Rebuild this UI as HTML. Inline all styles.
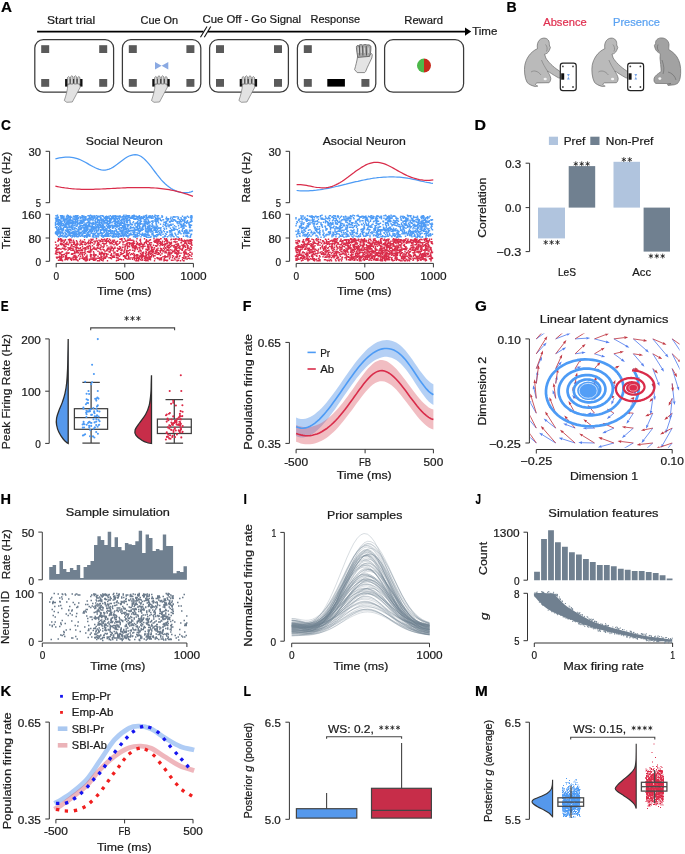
<!DOCTYPE html>
<html><head><meta charset="utf-8"><style>
html,body{margin:0;padding:0;background:#fff;width:685px;height:854px;overflow:hidden}
svg{display:block;will-change:transform}
text{font-family:"Liberation Sans", sans-serif;stroke-width:0.22px}
</style></head><body>
<svg width="685" height="854" viewBox="0 0 685 854" font-family='"Liberation Sans", sans-serif' fill="#1a1a1a">
<rect width="685" height="854" fill="#fff"/>
<text x="1.10" y="11.70" font-size="14.4" textLength="11.00" lengthAdjust="spacingAndGlyphs" font-weight="bold" fill="#000" stroke="#000">A</text>
<text x="47.00" y="23.90" font-size="11.0" textLength="48.20" lengthAdjust="spacingAndGlyphs" fill="#1a1a1a" stroke="#1a1a1a" stroke-width="0.08">Start trial</text>
<text x="140.50" y="23.90" font-size="11.0" textLength="37.70" lengthAdjust="spacingAndGlyphs" fill="#1a1a1a" stroke="#1a1a1a" stroke-width="0.08">Cue On</text>
<text x="202.50" y="22.50" font-size="11.0" textLength="98.60" lengthAdjust="spacingAndGlyphs" fill="#1a1a1a" stroke="#1a1a1a" stroke-width="0.08">Cue Off - Go Signal</text>
<text x="310.60" y="22.50" font-size="11.0" textLength="49.40" lengthAdjust="spacingAndGlyphs" fill="#1a1a1a" stroke="#1a1a1a" stroke-width="0.08">Response</text>
<text x="404.30" y="23.80" font-size="11.0" textLength="38.60" lengthAdjust="spacingAndGlyphs" fill="#1a1a1a" stroke="#1a1a1a" stroke-width="0.08">Reward</text>
<text x="472.20" y="34.70" font-size="11.0" textLength="25.20" lengthAdjust="spacingAndGlyphs" fill="#1a1a1a" stroke="#1a1a1a" stroke-width="0.08">Time</text>
<line x1="37.1" y1="31.6" x2="466" y2="31.6" stroke="#000" stroke-width="1.8"/>
<rect x="203.5" y="29" width="4.5" height="5.5" fill="#fff"/>
<line x1="200.5" y1="37.3" x2="207" y2="26.5" stroke="#111" stroke-width="1.1"/>
<line x1="204.3" y1="37.3" x2="210.8" y2="26.5" stroke="#111" stroke-width="1.1"/>
<path d="M465 27.4L471.2 31.6L465 35.8Z" fill="#000"/>
<rect x="34.8" y="39.6" width="78.8" height="52.6" rx="8.5" fill="none" stroke="#3a3a3a" stroke-width="1.25"/>
<rect x="122.4" y="39.6" width="78.4" height="52.6" rx="8.5" fill="none" stroke="#3a3a3a" stroke-width="1.25"/>
<rect x="209.6" y="39.6" width="78.8" height="52.6" rx="8.5" fill="none" stroke="#3a3a3a" stroke-width="1.25"/>
<rect x="297.4" y="39.6" width="78.4" height="52.6" rx="8.5" fill="none" stroke="#3a3a3a" stroke-width="1.25"/>
<rect x="384.6" y="39.6" width="79" height="52.6" rx="8.5" fill="none" stroke="#3a3a3a" stroke-width="1.25"/>
<rect x="41.2" y="45.2" width="8" height="7.8" fill="#5a5a5a"/>
<rect x="99.2" y="45.2" width="8" height="7.8" fill="#5a5a5a"/>
<rect x="41.2" y="79" width="8" height="7.8" fill="#5a5a5a"/>
<rect x="99.2" y="79" width="8" height="7.8" fill="#5a5a5a"/>
<rect x="128.8" y="45.2" width="8" height="7.8" fill="#5a5a5a"/>
<rect x="186.4" y="45.2" width="8" height="7.8" fill="#5a5a5a"/>
<rect x="128.8" y="79" width="8" height="7.8" fill="#5a5a5a"/>
<rect x="186.4" y="79" width="8" height="7.8" fill="#5a5a5a"/>
<rect x="216" y="45.2" width="8" height="7.8" fill="#5a5a5a"/>
<rect x="274" y="45.2" width="8" height="7.8" fill="#5a5a5a"/>
<rect x="216" y="79" width="8" height="7.8" fill="#5a5a5a"/>
<rect x="274" y="79" width="8" height="7.8" fill="#5a5a5a"/>
<rect x="303.8" y="45.2" width="8" height="7.8" fill="#5a5a5a"/>
<rect x="303.8" y="79" width="8" height="7.8" fill="#5a5a5a"/>
<rect x="361.4" y="79" width="8" height="7.8" fill="#5a5a5a"/>
<path d="M155 62L161.6 65.8L155 69.6Z M168.3 62L161.6 65.8L168.3 69.6Z" fill="#8aa9e2"/>
<rect x="65.1" y="79" width="17.4" height="7.6" fill="#111"/>
<path d="M67.8 84 C67.8 90 65.8 96 64.3 100.5 L66.8 102.3 L72.3 102 C74.8 97 77.8 92 80.3 87 L79.3 83 Z" fill="#e2e2e2" stroke="#777" stroke-width="0.7"/>
<path d="M67.3 84 L67.4 77.6 Q68.6 75.5 69.8 77.6 L69.9 84 Z" fill="#d9d9d9" stroke="#555" stroke-width="0.6"/>
<path d="M70.5 84 L70.6 76.8 Q71.8 74.7 73 76.8 L73.1 84 Z" fill="#d9d9d9" stroke="#555" stroke-width="0.6"/>
<path d="M74.1 84 L74.2 76.8 Q75.4 74.7 76.6 76.8 L76.7 84 Z" fill="#d9d9d9" stroke="#555" stroke-width="0.6"/>
<path d="M77.5 84 L77.6 77.6 Q78.8 75.5 80 77.6 L80.1 84 Z" fill="#d9d9d9" stroke="#555" stroke-width="0.6"/>
<rect x="152.3" y="79" width="17.4" height="7.6" fill="#111"/>
<path d="M155 84 C155 90 153 96 151.5 100.5 L154 102.3 L159.5 102 C162 97 165 92 167.5 87 L166.5 83 Z" fill="#e2e2e2" stroke="#777" stroke-width="0.7"/>
<path d="M154.5 84 L154.6 77.6 Q155.8 75.5 157 77.6 L157.1 84 Z" fill="#d9d9d9" stroke="#555" stroke-width="0.6"/>
<path d="M157.7 84 L157.8 76.8 Q159 74.7 160.2 76.8 L160.3 84 Z" fill="#d9d9d9" stroke="#555" stroke-width="0.6"/>
<path d="M161.3 84 L161.4 76.8 Q162.6 74.7 163.8 76.8 L163.9 84 Z" fill="#d9d9d9" stroke="#555" stroke-width="0.6"/>
<path d="M164.7 84 L164.8 77.6 Q166 75.5 167.2 77.6 L167.3 84 Z" fill="#d9d9d9" stroke="#555" stroke-width="0.6"/>
<rect x="239.7" y="79" width="17.4" height="7.6" fill="#111"/>
<path d="M242.4 84 C242.4 90 240.4 96 238.9 100.5 L241.4 102.3 L246.9 102 C249.4 97 252.4 92 254.9 87 L253.9 83 Z" fill="#e2e2e2" stroke="#777" stroke-width="0.7"/>
<path d="M241.9 84 L242 77.6 Q243.2 75.5 244.4 77.6 L244.5 84 Z" fill="#d9d9d9" stroke="#555" stroke-width="0.6"/>
<path d="M245.1 84 L245.2 76.8 Q246.4 74.7 247.6 76.8 L247.7 84 Z" fill="#d9d9d9" stroke="#555" stroke-width="0.6"/>
<path d="M248.7 84 L248.8 76.8 Q250 74.7 251.2 76.8 L251.3 84 Z" fill="#d9d9d9" stroke="#555" stroke-width="0.6"/>
<path d="M252.1 84 L252.2 77.6 Q253.4 75.5 254.6 77.6 L254.7 84 Z" fill="#d9d9d9" stroke="#555" stroke-width="0.6"/>
<rect x="327.3" y="79" width="17.6" height="7.6" fill="#000"/>
<path d="M357.6 56.5L369.6 55.4L371.2 53.3L372.3 54.8L371.8 58C370 62 367.5 66.5 365.6 71.5L364.6 72.6L357.2 72.6L354.6 69.6C355.6 66 357 61 357.6 56.5Z" fill="#e4e4e4" stroke="#5a5a5a" stroke-width="0.7"/>
<path d="M356.4 47.5C356.2 45.6 357.6 45 358.8 46L359.2 45C360.5 44.4 362 44.5 362.8 45.2C364 44.3 366 44.3 367 45C368.5 44.6 370.2 45 370.8 46.2C371.2 49 370.6 53 369.6 56.4L357.8 57.4C357 54 356.6 50.5 356.4 47.5Z" fill="#a9a9a9" stroke="#4a4a4a" stroke-width="0.7"/>
<line x1="359.4" y1="46" x2="359.7" y2="55.5" stroke="#3e3e3e" stroke-width="0.8"/>
<line x1="362.6" y1="46" x2="362.9" y2="55.5" stroke="#3e3e3e" stroke-width="0.8"/>
<line x1="366.2" y1="46" x2="366.5" y2="55.5" stroke="#3e3e3e" stroke-width="0.8"/>
<line x1="358.2" y1="47.5" x2="358.4" y2="53" stroke="#e8e8e8" stroke-width="0.7"/>
<line x1="361.1" y1="47.5" x2="361.3" y2="53" stroke="#e8e8e8" stroke-width="0.7"/>
<line x1="364.4" y1="47.5" x2="364.6" y2="53" stroke="#e8e8e8" stroke-width="0.7"/>
<line x1="368.3" y1="47.5" x2="368.5" y2="53" stroke="#e8e8e8" stroke-width="0.7"/>
<path d="M424 58.6 A7 7 0 0 0 424 72.6 Z" fill="#4cb84a"/>
<path d="M424 58.6 A7 7 0 0 1 424 72.6 Z" fill="#c62a1c"/>
<text x="506.60" y="11.80" font-size="14.4" textLength="10.20" lengthAdjust="spacingAndGlyphs" font-weight="bold" fill="#000" stroke="#000">B</text>
<text x="543.20" y="25.90" font-size="11.3" textLength="43.50" lengthAdjust="spacingAndGlyphs" fill="#e03050" stroke="#e03050" stroke-width="0.05">Absence</text>
<text x="613.00" y="25.90" font-size="11.3" textLength="46.90" lengthAdjust="spacingAndGlyphs" fill="#5aa2f2" stroke="#5aa2f2" stroke-width="0.05">Presence</text>
<g transform="translate(0 0)">
<path d="M537.5 48.6C536.5 44 538.5 38.5 543.6 38.1C547.5 37.8 549.8 41 549.3 45L550.4 47.6L549.2 50.6C548 53 546.2 54 544.6 54.2L545.8 58C548.3 62 552.5 66.5 559.4 71L561.8 73.3L562.6 78.6L558.4 77.8C553 74.8 549.6 72.3 547.2 70.8C548.8 73.3 550.6 76.2 550.8 78.6C550.6 81 549.6 82.5 548.9 82.7L537 82.9C534.5 84 535.5 85.3 537.8 86.1L535.2 86.5C531.5 85.7 528.8 84.2 527.1 82.4C524.6 78 524 70 524.8 65.3C526 59 530 52 537.5 48.6Z" fill="#bababa" stroke="#6a6a6a" stroke-width="0.7"/>
</g>
<g transform="translate(67.4 0)">
<path d="M537.5 48.6C536.5 44 538.5 38.5 543.6 38.1C547.5 37.8 549.8 41 549.3 45L550.4 47.6L549.2 50.6C548 53 546.2 54 544.6 54.2L545.8 58C548.3 62 552.5 66.5 559.4 71L561.8 73.3L562.6 78.6L558.4 77.8C553 74.8 549.6 72.3 547.2 70.8C548.8 73.3 550.6 76.2 550.8 78.6C550.6 81 549.6 82.5 548.9 82.7L537 82.9C534.5 84 535.5 85.3 537.8 86.1L535.2 86.5C531.5 85.7 528.8 84.2 527.1 82.4C524.6 78 524 70 524.8 65.3C526 59 530 52 537.5 48.6Z" fill="#bababa" stroke="#6a6a6a" stroke-width="0.7"/>
</g>
<g transform="translate(0 0)">
<path d="M660.3 53.6C657.8 52.5 655.6 50.5 655 48L654.4 45.5L655.6 43.5C655.2 40.5 657.5 38 661.2 37.9C665.5 37.8 668.6 40.5 669 44.5C668.9 47 668.7 48.5 668.8 49.6C673 52 677 55.5 678.8 60.5C680.8 65 681.2 72 680.2 77.8C679.6 80.5 678.5 82.5 677.4 83.6L674.2 84.8L668 85.4L667.4 84.4L671 83.6L655.8 83.4C654 82.5 653.6 80.2 654.2 78C655.2 75.6 657.8 73.8 661.2 71.5C661 67 660.4 62 660 58Z" fill="#a2a2a2" stroke="#6a6a6a" stroke-width="0.7"/>
</g>
<path d="M545.5 44.5C547 46 547.8 49 546.5 51.5M531 72C534 70 538 71 541 75M541.5 60C543 64 545 67 547 70.5" fill="none" stroke="#777" stroke-width="0.6"/>
<ellipse cx="545.2" cy="79" rx="1.6" ry="1.3" fill="#f4f4f4"/>
<path d="M612.9 44.5C614.4 46 615.2 49 613.9 51.5M598.4 72C601.4 70 605.4 71 608.4 75M608.9 60C610.4 64 612.4 67 614.4 70.5" fill="none" stroke="#777" stroke-width="0.6"/>
<ellipse cx="612.6" cy="79" rx="1.6" ry="1.3" fill="#f4f4f4"/>
<path d="M658 44.5C657 47 657.2 49.5 659 51.5M662 60C664 66 664.5 70 663 74M668 72C672 73 675 76 676 80" fill="none" stroke="#666" stroke-width="0.6"/>
<ellipse cx="659.8" cy="78.6" rx="1.5" ry="1.3" fill="#f4f4f4"/>
<rect x="560.3" y="63.2" width="15.9" height="27.4" rx="2.6" fill="#fff" stroke="#222" stroke-width="1.2"/>
<circle cx="562.9" cy="66.4" r="0.9" fill="#444"/>
<circle cx="573" cy="66.4" r="0.9" fill="#444"/>
<circle cx="562.9" cy="87" r="0.9" fill="#444"/>
<circle cx="573" cy="87" r="0.9" fill="#444"/>
<rect x="561.2" y="73.3" width="3" height="6.4" fill="#111"/>
<path d="M567 74h2.8l-1.4 2.8zM567 79.6h2.8l-1.4-2.8z" fill="#7aa6e8"/>
<rect x="627.7" y="63.2" width="15.9" height="27.4" rx="2.6" fill="#fff" stroke="#222" stroke-width="1.2"/>
<circle cx="630.3" cy="66.4" r="0.9" fill="#444"/>
<circle cx="640.4" cy="66.4" r="0.9" fill="#444"/>
<circle cx="630.3" cy="87" r="0.9" fill="#444"/>
<circle cx="640.4" cy="87" r="0.9" fill="#444"/>
<rect x="628.6" y="73.3" width="3" height="6.4" fill="#111"/>
<path d="M634.4 74h2.8l-1.4 2.8zM634.4 79.6h2.8l-1.4-2.8z" fill="#7aa6e8"/>
<text x="0.90" y="129.50" font-size="14.4" textLength="9.90" lengthAdjust="spacingAndGlyphs" font-weight="bold" fill="#000" stroke="#000">C</text>
<text x="85.80" y="145.00" font-size="11.3" textLength="76.90" lengthAdjust="spacingAndGlyphs" fill="#1a1a1a" stroke="#1a1a1a">Social Neuron</text>
<text x="322.70" y="145.00" font-size="11.3" textLength="83.20" lengthAdjust="spacingAndGlyphs" fill="#1a1a1a" stroke="#1a1a1a">Asocial Neuron</text>
<line x1="49.6" y1="151.3" x2="49.6" y2="202.7" stroke="#333" stroke-width="1"/>
<line x1="45.6" y1="151.3" x2="49.6" y2="151.3" stroke="#333" stroke-width="1"/>
<line x1="45.6" y1="202.7" x2="49.6" y2="202.7" stroke="#333" stroke-width="1"/>
<line x1="49.6" y1="214.3" x2="49.6" y2="261.3" stroke="#333" stroke-width="1"/>
<line x1="45.6" y1="214.3" x2="49.6" y2="214.3" stroke="#333" stroke-width="1"/>
<line x1="45.6" y1="238" x2="49.6" y2="238" stroke="#333" stroke-width="1"/>
<line x1="45.6" y1="261.3" x2="49.6" y2="261.3" stroke="#333" stroke-width="1"/>
<line x1="56.2" y1="263.4" x2="193.4" y2="263.4" stroke="#333" stroke-width="1"/>
<line x1="56.2" y1="263.4" x2="56.2" y2="267.4" stroke="#333" stroke-width="1"/>
<line x1="124.8" y1="263.4" x2="124.8" y2="267.4" stroke="#333" stroke-width="1"/>
<line x1="193.4" y1="263.4" x2="193.4" y2="267.4" stroke="#333" stroke-width="1"/>
<text x="28.56" y="156.00" font-size="10.7" textLength="12.55" lengthAdjust="spacingAndGlyphs" fill="#1a1a1a" stroke="#1a1a1a">30</text>
<text x="35.86" y="207.40" font-size="10.7" textLength="5.24" lengthAdjust="spacingAndGlyphs" fill="#1a1a1a" stroke="#1a1a1a">5</text>
<text x="21.87" y="219.00" font-size="10.7" textLength="19.23" lengthAdjust="spacingAndGlyphs" fill="#1a1a1a" stroke="#1a1a1a">160</text>
<text x="28.47" y="242.70" font-size="10.7" textLength="12.64" lengthAdjust="spacingAndGlyphs" fill="#1a1a1a" stroke="#1a1a1a">80</text>
<text x="35.51" y="266.00" font-size="10.7" textLength="5.60" lengthAdjust="spacingAndGlyphs" fill="#1a1a1a" stroke="#1a1a1a">0</text>
<text x="53.40" y="279.60" font-size="10.7" textLength="5.60" lengthAdjust="spacingAndGlyphs" fill="#1a1a1a" stroke="#1a1a1a">0</text>
<text x="115.00" y="279.60" font-size="10.7" textLength="19.60" lengthAdjust="spacingAndGlyphs" fill="#1a1a1a" stroke="#1a1a1a">500</text>
<text x="180.25" y="279.60" font-size="10.7" textLength="26.29" lengthAdjust="spacingAndGlyphs" fill="#1a1a1a" stroke="#1a1a1a">1000</text>
<text x="97.00" y="294.90" font-size="10.9" textLength="54.50" lengthAdjust="spacingAndGlyphs" fill="#1a1a1a" stroke="#1a1a1a">Time (ms)</text>
<text x="0" y="0" font-size="10.9" textLength="50.50" lengthAdjust="spacingAndGlyphs" transform="translate(9.95 202.40) rotate(-90)" fill="#1a1a1a" stroke="#1a1a1a">Rate (Hz)</text>
<text x="0" y="0" font-size="10.9" textLength="22.00" lengthAdjust="spacingAndGlyphs" transform="translate(9.95 249.30) rotate(-90)" fill="#1a1a1a" stroke="#1a1a1a">Trial</text>
<line x1="289.6" y1="151.3" x2="289.6" y2="202.7" stroke="#333" stroke-width="1"/>
<line x1="285.6" y1="151.3" x2="289.6" y2="151.3" stroke="#333" stroke-width="1"/>
<line x1="285.6" y1="202.7" x2="289.6" y2="202.7" stroke="#333" stroke-width="1"/>
<line x1="289.6" y1="214.3" x2="289.6" y2="261.3" stroke="#333" stroke-width="1"/>
<line x1="285.6" y1="214.3" x2="289.6" y2="214.3" stroke="#333" stroke-width="1"/>
<line x1="285.6" y1="238" x2="289.6" y2="238" stroke="#333" stroke-width="1"/>
<line x1="285.6" y1="261.3" x2="289.6" y2="261.3" stroke="#333" stroke-width="1"/>
<line x1="296.2" y1="263.4" x2="433.4" y2="263.4" stroke="#333" stroke-width="1"/>
<line x1="296.2" y1="263.4" x2="296.2" y2="267.4" stroke="#333" stroke-width="1"/>
<line x1="364.8" y1="263.4" x2="364.8" y2="267.4" stroke="#333" stroke-width="1"/>
<line x1="433.4" y1="263.4" x2="433.4" y2="267.4" stroke="#333" stroke-width="1"/>
<text x="268.56" y="156.00" font-size="10.7" textLength="12.55" lengthAdjust="spacingAndGlyphs" fill="#1a1a1a" stroke="#1a1a1a">30</text>
<text x="275.86" y="207.40" font-size="10.7" textLength="5.24" lengthAdjust="spacingAndGlyphs" fill="#1a1a1a" stroke="#1a1a1a">5</text>
<text x="261.87" y="219.00" font-size="10.7" textLength="19.23" lengthAdjust="spacingAndGlyphs" fill="#1a1a1a" stroke="#1a1a1a">160</text>
<text x="268.47" y="242.70" font-size="10.7" textLength="12.64" lengthAdjust="spacingAndGlyphs" fill="#1a1a1a" stroke="#1a1a1a">80</text>
<text x="275.51" y="266.00" font-size="10.7" textLength="5.60" lengthAdjust="spacingAndGlyphs" fill="#1a1a1a" stroke="#1a1a1a">0</text>
<text x="293.40" y="279.60" font-size="10.7" textLength="5.60" lengthAdjust="spacingAndGlyphs" fill="#1a1a1a" stroke="#1a1a1a">0</text>
<text x="355.00" y="279.60" font-size="10.7" textLength="19.60" lengthAdjust="spacingAndGlyphs" fill="#1a1a1a" stroke="#1a1a1a">500</text>
<text x="420.25" y="279.60" font-size="10.7" textLength="26.29" lengthAdjust="spacingAndGlyphs" fill="#1a1a1a" stroke="#1a1a1a">1000</text>
<text x="337.00" y="294.90" font-size="10.9" textLength="54.50" lengthAdjust="spacingAndGlyphs" fill="#1a1a1a" stroke="#1a1a1a">Time (ms)</text>
<text x="0" y="0" font-size="10.9" textLength="50.50" lengthAdjust="spacingAndGlyphs" transform="translate(249.95 202.40) rotate(-90)" fill="#1a1a1a" stroke="#1a1a1a">Rate (Hz)</text>
<text x="0" y="0" font-size="10.9" textLength="22.00" lengthAdjust="spacingAndGlyphs" transform="translate(249.95 249.30) rotate(-90)" fill="#1a1a1a" stroke="#1a1a1a">Trial</text>
<path d="M111 465v3M111 447v3M112 453v3M112 430v3M112 462v3M111 453v3M111 444v3M111 464v3M112 442v3M111 449v3M111 435v3M112 447v3M112 438v3M112 441v3M112 462v3M114 457v3M114 467v3M113 455v3M113 441v3M112 466v3M114 452v3M114 452v3M114 462v3M113 436v3M113 465v3M114 459v3M114 464v3M114 438v3M113 464v3M113 438v3M114 433v3M113 467v3M115 459v3M115 469v3M116 465v3M115 468v3M116 458v3M116 440v3M115 463v3M116 438v3M116 466v3M116 432v3M115 465v3M115 436v3M115 446v3M116 443v3M115 459v3M115 437v3M115 447v3M115 429v3M116 441v3M118 446v3M118 448v3M118 458v3M117 449v3M117 455v3M117 466v3M117 461v3M117 445v3M117 449v3M118 445v3M117 434v3M118 438v3M117 442v3M117 443v3M118 443v3M117 454v3M117 472v3M118 463v3M117 464v3M118 462v3M119 439v3M120 466v3M119 446v3M119 472v3M119 457v3M118 460v3M119 452v3M120 443v3M119 447v3M120 470v3M119 438v3M119 472v3M120 462v3M122 465v3M121 457v3M122 445v3M120 463v3M121 430v3M122 449v3M122 445v3M121 450v3M122 435v3M121 439v3M121 454v3M121 446v3M122 464v3M121 456v3M121 467v3M120 461v3M121 456v3M121 442v3M121 463v3M121 440v3M122 432v3M122 471v3M122 453v3M123 470v3M123 430v3M123 434v3M124 445v3M123 433v3M122 455v3M124 441v3M123 441v3M123 442v3M124 433v3M124 462v3M123 458v3M123 456v3M123 431v3M123 448v3M124 459v3M123 436v3M123 446v3M124 430v3M124 433v3M125 450v3M126 433v3M126 457v3M126 456v3M125 431v3M126 465v3M125 464v3M125 469v3M125 459v3M126 460v3M126 436v3M125 430v3M126 472v3M127 449v3M127 466v3M128 432v3M126 446v3M127 454v3M127 456v3M127 440v3M128 447v3M128 471v3M127 458v3M127 455v3M128 432v3M128 431v3M127 438v3M128 435v3M128 472v3M129 438v3M129 440v3M130 451v3M129 452v3M128 450v3M130 453v3M129 439v3M130 463v3M130 441v3M130 469v3M130 452v3M129 443v3M129 437v3M132 446v3M131 459v3M131 438v3M131 445v3M132 453v3M131 448v3M132 435v3M131 472v3M131 459v3M132 466v3M131 445v3M131 471v3M131 465v3M132 472v3M132 438v3M132 450v3M131 446v3M133 443v3M133 453v3M133 447v3M133 445v3M133 472v3M133 437v3M134 456v3M134 431v3M134 433v3M134 438v3M133 473v3M133 461v3M133 467v3M133 431v3M134 459v3M134 448v3M133 447v3M134 460v3M134 443v3M133 452v3M134 441v3M136 436v3M136 469v3M136 436v3M136 462v3M135 443v3M135 445v3M135 453v3M136 470v3M135 429v3M135 436v3M134 461v3M135 446v3M136 442v3M134 471v3M135 441v3M135 460v3M135 471v3M135 463v3M136 460v3M135 461v3M136 464v3M136 441v3M136 457v3M137 464v3M137 459v3M137 448v3M137 430v3M138 437v3M137 462v3M137 433v3M138 443v3M137 440v3M138 462v3M138 445v3M137 433v3M137 445v3M138 444v3M138 461v3M138 443v3M136 460v3M138 453v3M138 468v3M138 461v3M138 447v3M138 450v3M138 450v3M138 467v3M139 439v3M140 433v3M139 469v3M139 462v3M140 437v3M139 465v3M140 442v3M139 457v3M140 445v3M139 439v3M139 437v3M139 432v3M140 432v3M140 432v3M140 433v3M140 466v3M140 452v3M140 435v3M140 452v3M139 453v3M140 451v3M139 438v3M142 465v3M142 444v3M142 459v3M142 439v3M141 445v3M140 446v3M141 440v3M141 431v3M142 463v3M141 471v3M140 439v3M141 436v3M142 444v3M141 433v3M141 458v3M141 445v3M142 454v3M142 469v3M143 452v3M143 449v3M144 455v3M144 465v3M144 439v3M143 451v3M143 433v3M143 452v3M143 464v3M144 473v3M143 450v3M144 442v3M144 455v3M143 445v3M145 470v3M146 436v3M145 465v3M145 463v3M146 440v3M146 442v3M146 471v3M145 445v3M145 442v3M146 461v3M146 435v3M146 450v3M145 445v3M146 453v3M145 456v3M145 457v3M145 448v3M146 468v3M146 466v3M145 470v3M148 431v3M147 431v3M148 431v3M148 467v3M147 444v3M148 443v3M148 464v3M147 443v3M147 462v3M148 445v3M148 442v3M147 446v3M148 437v3M148 432v3M147 467v3M149 449v3M150 434v3M150 453v3M148 457v3M150 455v3M149 432v3M150 456v3M150 462v3M150 435v3M149 455v3M149 465v3M150 438v3M149 469v3M149 472v3M150 460v3M150 467v3M152 469v3M151 430v3M151 430v3M151 444v3M152 470v3M152 464v3M151 446v3M152 467v3M152 443v3M151 444v3M152 438v3M152 471v3M152 464v3M150 449v3M151 441v3M153 451v3M154 433v3M153 470v3M154 471v3M154 450v3M152 432v3M153 466v3M154 462v3M154 472v3M154 430v3M154 448v3M154 442v3M154 434v3M153 461v3M152 444v3M153 431v3M153 435v3M152 465v3M153 456v3M155 442v3M155 462v3M155 467v3M156 467v3M155 445v3M156 460v3M156 467v3M155 436v3M154 438v3M156 458v3M155 441v3M155 438v3M156 445v3M156 430v3M155 448v3M155 431v3M156 440v3M156 439v3M157 453v3M158 458v3M157 434v3M157 435v3M156 472v3M158 465v3M157 465v3M158 470v3M157 471v3M157 446v3M158 462v3M157 457v3M158 454v3M158 459v3M159 446v3M159 468v3M159 444v3M160 449v3M160 450v3M160 443v3M160 464v3M160 432v3M160 439v3M160 465v3M160 456v3M159 452v3M161 465v3M161 435v3M162 449v3M161 466v3M162 449v3M160 456v3M162 434v3M161 442v3M161 471v3M162 458v3M161 445v3M161 452v3M162 463v3M162 464v3M161 465v3M161 442v3M162 440v3M161 457v3M161 452v3M162 454v3M164 432v3M163 445v3M164 467v3M164 442v3M163 443v3M163 456v3M163 440v3M164 454v3M163 463v3M164 442v3M163 450v3M164 454v3M164 445v3M163 439v3M163 434v3M163 454v3M163 470v3M164 430v3M164 467v3M165 430v3M166 442v3M165 462v3M166 436v3M165 445v3M166 466v3M166 444v3M166 440v3M165 468v3M165 433v3M165 467v3M166 443v3M166 438v3M166 451v3M165 450v3M166 471v3M166 462v3M168 440v3M166 460v3M167 438v3M167 454v3M168 464v3M168 458v3M168 456v3M168 440v3M168 434v3M168 431v3M167 431v3M167 439v3M168 454v3M168 448v3M167 438v3M168 442v3M167 449v3M167 464v3M170 445v3M169 448v3M170 471v3M169 459v3M169 460v3M169 473v3M169 439v3M169 456v3M169 434v3M170 436v3M170 460v3M169 465v3M169 457v3M169 455v3M170 464v3M170 471v3M169 470v3M170 465v3M170 448v3M169 463v3M170 439v3M172 458v3M171 436v3M171 462v3M172 455v3M170 453v3M172 448v3M172 458v3M171 432v3M171 451v3M171 470v3M171 438v3M172 435v3M172 447v3M172 452v3M170 446v3M170 450v3M171 459v3M173 468v3M173 469v3M174 473v3M174 444v3M174 450v3M173 473v3M173 460v3M172 432v3M174 469v3M173 456v3M174 438v3M174 444v3M174 455v3M174 458v3M173 447v3M173 462v3M174 453v3M173 472v3M173 467v3M176 430v3M176 457v3M176 443v3M176 439v3M176 438v3M175 450v3M175 444v3M174 470v3M175 454v3M174 469v3M176 470v3M175 469v3M175 451v3M176 455v3M176 453v3M176 430v3M175 471v3M176 436v3M176 453v3M175 459v3M175 464v3M175 453v3M176 466v3M177 450v3M177 436v3M177 467v3M177 448v3M178 430v3M178 441v3M178 446v3M178 430v3M178 435v3M178 442v3M178 444v3M177 448v3M177 442v3M176 443v3M178 449v3M178 445v3M177 462v3M178 463v3M180 471v3M180 468v3M180 449v3M179 448v3M178 436v3M179 434v3M179 445v3M180 439v3M179 432v3M180 461v3M179 471v3M179 459v3M178 469v3M180 467v3M180 457v3M180 452v3M180 445v3M179 451v3M180 443v3M180 437v3M179 451v3M182 457v3M182 457v3M182 464v3M181 458v3M181 452v3M181 436v3M181 461v3M181 429v3M181 458v3M182 436v3M181 436v3M183 458v3M183 454v3M183 463v3M184 430v3M183 438v3M183 455v3M184 454v3M184 465v3M182 433v3M184 445v3M184 447v3M183 452v3M183 445v3M184 461v3M184 434v3M183 432v3M185 471v3M186 468v3M185 445v3M186 445v3M185 450v3M185 471v3M186 436v3M185 453v3M186 458v3M185 461v3M185 432v3M186 455v3M185 449v3M186 444v3M185 472v3M185 434v3M185 460v3M186 438v3M185 471v3M185 451v3M184 449v3M186 440v3M187 455v3M188 445v3M188 468v3M187 436v3M188 430v3M188 434v3M187 452v3M188 455v3M187 466v3M187 471v3M188 447v3M188 465v3M187 447v3M187 445v3M188 435v3M188 467v3M187 444v3M188 458v3M188 452v3M188 473v3M190 456v3M189 468v3M188 452v3M189 456v3M189 461v3M188 433v3M190 432v3M190 431v3M189 434v3M190 440v3M189 431v3M190 455v3M192 473v3M192 456v3M192 436v3M191 470v3M191 442v3M190 453v3M192 448v3M191 465v3M190 433v3M191 445v3M191 449v3M192 455v3M191 469v3M191 442v3M192 444v3M192 459v3M191 438v3M192 452v3M192 443v3M194 434v3M194 454v3M194 461v3M194 459v3M193 430v3M194 472v3M193 443v3M193 462v3M194 470v3M193 463v3M194 452v3M194 453v3M193 435v3M192 446v3M195 431v3M195 447v3M195 449v3M195 466v3M195 435v3M196 467v3M195 447v3M196 467v3M195 436v3M196 431v3M196 448v3M196 439v3M196 450v3M196 465v3M196 468v3M196 433v3M195 440v3M195 443v3M195 437v3M197 439v3M198 468v3M197 460v3M198 453v3M197 466v3M197 452v3M198 446v3M197 459v3M197 456v3M198 438v3M198 443v3M197 454v3M197 439v3M198 469v3M198 431v3M198 468v3M197 472v3M198 456v3M198 438v3M200 444v3M199 442v3M200 465v3M198 455v3M199 444v3M200 453v3M199 449v3M199 453v3M199 440v3M199 446v3M199 449v3M200 433v3M202 469v3M201 436v3M201 461v3M201 458v3M201 461v3M201 463v3M202 437v3M200 431v3M201 448v3M201 449v3M202 440v3M202 465v3M202 434v3M201 451v3M201 452v3M202 430v3M203 454v3M203 465v3M204 465v3M204 446v3M204 444v3M203 470v3M203 444v3M203 464v3M203 437v3M204 451v3M203 446v3M204 441v3M203 440v3M203 471v3M204 458v3M202 450v3M204 454v3M204 466v3M203 459v3M205 465v3M205 438v3M206 448v3M206 447v3M205 454v3M205 457v3M206 431v3M206 465v3M205 452v3M205 469v3M205 437v3M205 449v3M206 471v3M206 457v3M206 451v3M206 450v3M205 469v3M205 430v3M206 473v3M206 450v3M206 465v3M205 450v3M204 465v3M207 442v3M207 450v3M207 440v3M207 470v3M208 443v3M207 454v3M207 472v3M207 459v3M208 446v3M208 462v3M207 438v3M208 434v3M207 431v3M208 458v3M207 458v3M208 459v3M208 459v3M207 455v3M208 470v3M210 457v3M210 443v3M210 453v3M209 440v3M209 459v3M209 435v3M209 452v3M209 463v3M210 468v3M209 444v3M209 453v3M210 471v3M209 435v3M212 471v3M212 439v3M212 456v3M212 446v3M211 460v3M211 432v3M211 469v3M211 467v3M211 435v3M211 457v3M212 444v3M211 438v3M212 466v3M213 450v3M212 446v3M213 432v3M213 463v3M214 471v3M213 440v3M213 460v3M214 456v3M214 465v3M214 459v3M214 438v3M213 435v3M213 444v3M213 437v3M214 456v3M214 433v3M214 459v3M213 464v3M213 431v3M214 468v3M214 465v3M213 431v3M216 471v3M215 433v3M215 434v3M215 432v3M216 451v3M216 469v3M215 452v3M215 444v3M214 468v3M215 440v3M215 453v3M215 468v3M216 467v3M215 435v3M215 443v3M215 447v3M216 463v3M217 466v3M218 471v3M218 453v3M218 449v3M218 446v3M217 446v3M216 467v3M217 460v3M217 469v3M218 431v3M218 435v3M217 452v3M218 455v3M217 448v3M218 452v3M216 469v3M218 454v3M217 441v3M217 451v3M220 445v3M219 450v3M219 441v3M219 445v3M218 466v3M220 438v3M219 454v3M220 439v3M219 456v3M220 440v3M219 443v3M220 452v3M219 440v3M219 461v3M220 439v3M220 466v3M220 460v3M219 435v3M219 452v3M218 432v3M219 437v3M219 443v3M218 460v3M219 456v3M219 453v3M220 437v3M220 442v3M221 436v3M221 430v3M222 440v3M221 443v3M221 437v3M222 439v3M221 458v3M221 439v3M221 437v3M221 441v3M222 449v3M222 438v3M221 451v3M221 470v3M221 465v3M221 462v3M221 470v3M221 470v3M221 453v3M221 459v3M223 434v3M224 466v3M223 437v3M223 434v3M223 466v3M224 471v3M224 461v3M224 432v3M223 435v3M224 436v3M223 433v3M224 450v3M225 434v3M224 460v3M226 442v3M224 464v3M226 454v3M225 453v3M226 435v3M226 430v3M225 472v3M226 431v3M226 431v3M225 449v3M226 470v3M226 453v3M226 473v3M225 461v3M225 465v3M225 465v3M225 471v3M225 472v3M224 444v3M225 460v3M225 451v3M225 472v3M225 455v3M227 454v3M228 464v3M228 452v3M228 470v3M228 463v3M227 454v3M227 433v3M228 450v3M228 431v3M228 471v3M227 431v3M228 438v3M228 437v3M227 467v3M228 469v3M228 461v3M227 467v3M228 441v3M228 468v3M227 434v3M230 430v3M230 452v3M229 462v3M229 435v3M229 438v3M229 472v3M229 465v3M230 443v3M228 470v3M230 450v3M230 440v3M230 444v3M230 441v3M230 460v3M229 446v3M231 430v3M232 448v3M231 451v3M232 450v3M231 431v3M232 436v3M232 441v3M231 447v3M231 438v3M231 445v3M231 442v3M231 434v3M231 468v3M231 456v3M231 472v3M231 456v3M231 456v3M232 466v3M233 452v3M233 471v3M233 461v3M234 464v3M234 435v3M234 451v3M233 431v3M233 458v3M233 443v3M234 468v3M233 435v3M232 432v3M234 447v3M233 436v3M234 453v3M232 448v3M235 445v3M235 442v3M236 466v3M236 441v3M236 442v3M235 468v3M235 450v3M235 431v3M235 435v3M236 462v3M235 443v3M236 443v3M236 442v3M235 472v3M236 450v3M235 468v3M236 464v3M235 464v3M236 463v3M236 443v3M236 465v3M235 451v3M235 437v3M236 440v3M237 456v3M237 470v3M237 440v3M238 457v3M237 469v3M238 446v3M238 465v3M237 468v3M237 431v3M238 442v3M237 440v3M237 469v3M237 456v3M236 435v3M237 446v3M238 441v3M237 473v3M237 468v3M237 466v3M238 434v3M240 467v3M239 450v3M239 466v3M240 447v3M240 445v3M239 437v3M239 432v3M240 454v3M240 445v3M239 436v3M238 452v3M240 461v3M239 457v3M240 430v3M240 445v3M240 459v3M240 447v3M239 448v3M241 440v3M242 460v3M241 432v3M241 444v3M240 458v3M241 470v3M242 433v3M242 449v3M240 471v3M240 432v3M241 449v3M242 462v3M243 462v3M244 444v3M243 446v3M244 460v3M244 468v3M244 437v3M244 438v3M243 438v3M243 471v3M243 454v3M243 465v3M243 437v3M244 467v3M243 442v3M243 456v3M244 439v3M244 439v3M246 468v3M245 432v3M245 444v3M245 464v3M246 461v3M246 463v3M245 450v3M246 460v3M245 443v3M245 467v3M245 464v3M246 470v3M245 463v3M246 461v3M246 437v3M246 454v3M246 433v3M245 469v3M245 464v3M245 453v3M245 466v3M245 467v3M245 445v3M245 459v3M246 435v3M247 438v3M248 431v3M247 430v3M247 445v3M248 438v3M247 451v3M248 435v3M247 457v3M247 454v3M248 469v3M248 465v3M248 435v3M248 453v3M248 445v3M247 431v3M247 453v3M247 472v3M247 436v3M248 429v3M248 438v3M248 448v3M248 441v3M247 460v3M250 463v3M250 470v3M249 451v3M248 452v3M250 462v3M250 468v3M250 433v3M250 462v3M249 468v3M249 438v3M249 442v3M250 450v3M250 455v3M250 449v3M250 454v3M249 446v3M249 448v3M249 443v3M249 458v3M252 434v3M252 430v3M251 448v3M252 455v3M252 448v3M251 452v3M252 447v3M251 465v3M251 465v3M251 436v3M251 457v3M251 452v3M251 432v3M251 433v3M251 465v3M251 461v3M251 436v3M254 455v3M253 471v3M253 468v3M253 457v3M252 429v3M253 457v3M253 443v3M252 440v3M254 456v3M254 437v3M253 461v3M254 463v3M254 435v3M253 436v3M253 470v3M253 431v3M253 464v3M254 462v3M254 460v3M253 431v3M254 470v3M253 438v3M255 430v3M256 433v3M255 442v3M255 444v3M256 452v3M255 443v3M256 439v3M256 471v3M255 435v3M255 451v3M254 439v3M255 465v3M256 456v3M255 456v3M255 448v3M255 449v3M256 473v3M257 439v3M257 430v3M258 431v3M258 449v3M257 439v3M257 448v3M257 469v3M256 464v3M256 465v3M258 470v3M257 458v3M258 448v3M258 432v3M257 461v3M258 434v3M259 461v3M259 438v3M259 434v3M260 441v3M260 444v3M259 468v3M260 440v3M258 459v3M260 466v3M259 430v3M260 441v3M259 469v3M260 455v3M261 460v3M261 446v3M262 448v3M261 465v3M261 445v3M261 452v3M262 465v3M262 465v3M262 459v3M262 460v3M262 433v3M262 453v3M261 455v3M261 435v3M261 468v3M262 459v3M262 434v3M262 435v3M264 431v3M264 454v3M263 447v3M264 435v3M263 454v3M263 434v3M264 431v3M264 460v3M263 468v3M263 448v3M262 465v3M266 433v3M265 430v3M266 463v3M266 468v3M265 435v3M266 444v3M265 430v3M265 448v3M265 434v3M266 454v3M266 459v3M268 437v3M267 465v3M268 465v3M268 459v3M267 430v3M267 433v3M268 454v3M268 431v3M268 465v3M268 472v3M268 472v3M267 466v3M268 431v3M268 434v3M267 472v3M267 453v3M267 434v3M268 429v3M268 434v3M268 468v3M267 442v3M268 462v3M270 436v3M270 449v3M269 456v3M269 461v3M270 469v3M270 471v3M270 463v3M270 431v3M270 446v3M269 461v3M270 467v3M269 430v3M270 447v3M270 470v3M272 435v3M272 436v3M271 469v3M271 445v3M272 454v3M271 436v3M272 468v3M271 473v3M272 452v3M271 471v3M272 472v3M272 459v3M272 435v3M271 458v3M271 437v3M273 431v3M273 458v3M274 471v3M273 453v3M273 431v3M273 445v3M274 458v3M274 436v3M273 452v3M274 444v3M273 431v3M274 464v3M275 470v3M275 442v3M275 457v3M275 471v3M276 460v3M276 432v3M275 456v3M275 467v3M276 432v3M276 438v3M275 447v3M275 446v3M275 472v3M275 433v3M275 437v3M275 457v3M274 434v3M275 456v3M275 457v3M275 453v3M275 448v3M275 450v3M275 445v3M278 447v3M277 432v3M278 459v3M277 458v3M278 436v3M278 445v3M278 461v3M278 435v3M277 465v3M277 458v3M278 470v3M277 456v3M278 431v3M278 447v3M277 459v3M278 450v3M276 445v3M278 440v3M280 436v3M279 430v3M280 455v3M279 453v3M279 462v3M280 467v3M279 450v3M280 452v3M279 455v3M280 444v3M279 464v3M281 444v3M280 433v3M282 472v3M282 459v3M281 442v3M281 439v3M281 436v3M282 434v3M281 461v3M282 434v3M280 459v3M281 447v3M282 457v3M281 445v3M283 468v3M283 457v3M283 432v3M283 441v3M284 459v3M284 446v3M283 436v3M284 454v3M284 467v3M283 459v3M285 468v3M285 435v3M286 433v3M285 457v3M285 455v3M285 469v3M285 458v3M284 469v3M285 452v3M285 457v3M285 465v3M287 450v3M287 467v3M288 431v3M288 470v3M288 433v3M287 431v3M288 471v3M287 436v3M286 449v3M288 445v3M288 441v3M287 452v3M288 468v3M288 448v3M287 457v3M288 471v3M287 449v3M289 438v3M290 448v3M289 447v3M289 433v3M289 468v3M290 442v3M290 443v3M290 471v3M289 447v3M289 447v3M290 466v3M290 444v3M290 471v3M289 450v3M290 446v3M290 443v3M292 458v3M291 438v3M291 462v3M291 430v3M291 467v3M291 459v3M292 443v3M291 438v3M291 450v3M292 462v3M292 470v3M291 471v3M291 453v3M292 442v3M292 435v3M291 461v3M291 455v3M292 439v3M291 453v3M292 446v3M294 434v3M293 461v3M293 434v3M293 429v3M293 472v3M293 431v3M293 467v3M293 472v3M294 446v3M294 456v3M294 434v3M293 473v3M294 468v3M293 442v3M293 432v3M294 463v3M294 473v3M294 436v3M294 468v3M296 444v3M295 443v3M296 451v3M296 446v3M296 438v3M296 461v3M295 463v3M296 469v3M296 458v3M295 452v3M296 445v3M295 447v3M296 465v3M295 461v3M296 434v3M295 455v3M296 468v3M297 469v3M298 473v3M298 445v3M298 442v3M297 462v3M298 450v3M297 473v3M297 454v3M298 434v3M297 431v3M298 462v3M296 444v3M297 441v3M297 459v3M297 440v3M298 446v3M300 449v3M300 430v3M299 469v3M299 431v3M300 443v3M299 469v3M299 452v3M300 453v3M299 458v3M300 460v3M300 443v3M300 434v3M298 456v3M299 450v3M300 456v3M302 463v3M302 462v3M302 472v3M302 432v3M302 431v3M301 473v3M301 460v3M302 433v3M301 458v3M303 459v3M304 455v3M304 468v3M303 456v3M304 446v3M304 433v3M303 434v3M303 451v3M303 441v3M303 435v3M304 466v3M305 442v3M306 463v3M306 440v3M305 461v3M305 430v3M305 448v3M306 450v3M305 447v3M306 452v3M306 466v3M307 453v3M308 456v3M307 453v3M306 443v3M307 469v3M308 456v3M308 473v3M306 435v3M307 470v3M308 457v3M308 459v3M308 470v3M308 432v3M309 456v3M309 457v3M309 453v3M310 471v3M310 459v3M308 432v3M310 458v3M309 432v3M309 454v3M310 451v3M310 429v3M310 438v3M312 430v3M312 462v3M312 463v3M312 436v3M311 454v3M311 457v3M312 446v3M311 437v3M312 444v3M312 442v3M311 430v3M310 441v3M311 440v3M312 459v3M311 457v3M312 459v3M312 442v3M311 455v3M311 434v3M311 463v3M311 470v3M314 455v3M313 448v3M314 468v3M313 468v3M313 442v3M314 438v3M313 448v3M314 451v3M313 460v3M313 472v3M313 468v3M313 447v3M313 453v3M313 455v3M315 435v3M314 440v3M316 438v3M315 431v3M314 435v3M316 435v3M315 451v3M314 463v3M314 452v3M315 458v3M315 468v3M315 463v3M316 434v3M316 430v3M315 470v3M316 441v3M316 467v3M316 437v3M315 468v3M318 455v3M317 430v3M318 467v3M317 444v3M317 468v3M318 436v3M317 461v3M317 455v3M318 454v3M320 460v3M319 464v3M320 435v3M322 460v3M322 459v3M321 468v3M321 455v3M321 439v3M321 447v3M321 456v3M322 454v3M321 438v3M322 465v3M324 430v3M322 469v3M323 440v3M324 433v3M323 462v3M323 463v3M324 463v3M326 451v3M325 432v3M326 438v3M326 467v3M326 473v3M327 438v3M327 460v3M328 443v3M328 455v3M327 447v3M329 457v3M329 462v3M330 443v3M329 472v3M331 466v3M332 436v3M332 452v3M330 470v3M332 445v3M330 449v3M331 471v3M332 442v3M332 449v3M331 446v3M331 447v3M333 441v3M333 456v3M333 467v3M333 445v3M333 452v3M333 433v3M334 463v3M334 437v3M336 447v3M334 462v3M336 449v3M336 449v3M336 450v3M335 472v3M335 440v3M335 436v3M335 463v3M338 470v3M337 436v3M337 438v3M338 452v3M340 443v3M339 450v3M339 442v3M340 448v3M339 460v3M340 463v3M342 447v3M342 460v3M342 467v3M341 460v3M341 455v3M341 436v3M342 461v3M342 469v3M342 449v3M340 467v3M341 455v3M341 441v3M342 472v3M342 462v3M344 441v3M343 458v3M344 465v3M343 439v3M344 467v3M344 460v3M342 433v3M343 449v3M345 459v3M346 447v3M346 433v3M345 436v3M345 469v3M345 468v3M346 471v3M344 468v3M346 453v3M347 438v3M346 441v3M348 459v3M347 432v3M347 456v3M350 439v3M349 455v3M349 438v3M349 458v3M349 450v3M350 465v3M348 472v3M350 432v3M352 469v3M352 441v3M352 452v3M351 440v3M350 433v3M351 467v3M352 457v3M354 432v3M354 444v3M354 472v3M355 443v3M356 436v3M356 467v3M355 458v3M355 442v3M358 442v3M357 450v3M357 435v3M358 455v3M356 446v3M357 462v3M358 464v3M357 433v3M357 473v3M357 463v3M359 444v3M359 438v3M359 443v3M360 446v3M360 463v3M359 460v3M359 464v3M361 440v3M361 448v3M361 442v3M362 466v3M362 453v3M361 439v3M363 437v3M364 452v3M362 434v3M364 460v3M363 442v3M363 450v3M363 447v3M366 455v3M366 438v3M365 461v3M364 449v3M366 440v3M365 440v3M365 457v3M365 431v3M367 471v3M367 448v3M367 465v3M368 455v3M368 446v3M368 452v3M366 451v3M367 446v3M368 434v3M368 466v3M368 451v3M369 443v3M370 449v3M369 440v3M370 461v3M369 436v3M368 464v3M369 460v3M370 438v3M369 462v3M369 433v3M371 433v3M372 433v3M372 459v3M372 435v3M372 471v3M372 451v3M371 443v3M372 469v3M371 464v3M372 465v3M373 445v3M374 442v3M373 461v3M374 469v3M374 465v3M374 459v3M373 445v3M373 443v3M374 462v3M372 458v3M375 465v3M375 431v3M375 440v3M375 469v3M375 463v3M375 442v3M376 463v3M375 470v3M375 472v3M376 472v3M378 445v3M376 444v3M378 465v3M377 433v3M378 448v3M378 465v3M377 464v3M380 473v3M379 451v3M379 459v3M380 448v3M380 461v3M379 460v3M380 461v3M380 454v3M380 450v3M380 443v3M379 453v3M380 453v3M381 453v3M382 438v3M381 434v3M382 430v3M382 468v3M381 470v3M381 433v3M382 459v3M381 442v3M382 467v3M381 472v3M382 449v3M383 440v3M384 460v3M384 434v3M382 442v3M384 459v3M383 467v3M383 437v3M384 441v3M383 433v3M383 430v3M384 441v3M383 449v3M384 431v3" stroke="#4d9bf5" stroke-width="2.8" transform="scale(.5)"/>
<path d="M112 488v3M112 505v3M112 501v3M111 483v3M111 495v3M111 506v3M111 495v3M113 494v3M113 499v3M112 502v3M114 514v3M113 495v3M114 515v3M114 503v3M113 513v3M114 498v3M114 507v3M114 491v3M113 499v3M115 513v3M116 480v3M116 496v3M116 498v3M116 503v3M117 489v3M117 476v3M117 513v3M116 481v3M117 479v3M117 519v3M117 496v3M117 490v3M118 478v3M119 496v3M119 506v3M120 516v3M119 514v3M119 511v3M120 478v3M120 519v3M119 503v3M121 476v3M122 516v3M121 506v3M121 485v3M122 487v3M122 497v3M122 512v3M122 481v3M121 519v3M121 518v3M121 487v3M122 504v3M122 515v3M124 481v3M123 485v3M123 479v3M124 513v3M123 519v3M123 477v3M123 511v3M123 508v3M123 516v3M123 488v3M124 508v3M124 486v3M123 479v3M124 509v3M125 495v3M125 502v3M125 520v3M125 519v3M125 520v3M125 487v3M124 502v3M126 495v3M127 483v3M128 484v3M127 490v3M127 512v3M127 496v3M128 488v3M127 495v3M128 488v3M127 508v3M126 479v3M127 489v3M128 490v3M130 518v3M129 481v3M129 495v3M129 496v3M129 507v3M129 491v3M130 498v3M130 479v3M129 490v3M132 512v3M131 517v3M131 512v3M132 491v3M131 492v3M132 487v3M131 478v3M132 497v3M131 514v3M131 510v3M132 505v3M131 513v3M132 505v3M131 486v3M131 511v3M131 492v3M133 512v3M134 503v3M134 505v3M134 506v3M133 509v3M133 515v3M134 517v3M134 487v3M134 483v3M132 516v3M133 485v3M135 518v3M136 514v3M135 487v3M136 516v3M136 494v3M136 499v3M137 478v3M137 505v3M137 515v3M138 495v3M138 504v3M137 487v3M137 488v3M138 497v3M140 496v3M140 478v3M138 504v3M139 477v3M140 480v3M140 494v3M139 481v3M140 496v3M139 514v3M139 484v3M142 478v3M142 477v3M142 515v3M142 516v3M142 484v3M141 517v3M141 494v3M142 499v3M140 497v3M142 491v3M144 489v3M143 507v3M143 519v3M143 480v3M143 495v3M144 506v3M143 488v3M143 517v3M146 496v3M146 492v3M146 513v3M145 507v3M145 499v3M146 483v3M146 506v3M146 516v3M147 518v3M148 484v3M148 513v3M147 499v3M147 479v3M148 485v3M147 487v3M148 510v3M148 492v3M148 482v3M148 518v3M148 499v3M149 502v3M149 484v3M149 485v3M150 517v3M149 505v3M149 510v3M150 488v3M150 510v3M150 506v3M152 518v3M151 489v3M152 498v3M152 511v3M152 503v3M152 514v3M151 493v3M151 513v3M151 514v3M152 516v3M151 494v3M153 517v3M154 513v3M154 482v3M153 501v3M153 499v3M154 490v3M153 493v3M153 487v3M154 504v3M153 495v3M153 480v3M154 486v3M155 494v3M155 502v3M155 500v3M156 500v3M156 520v3M155 519v3M155 485v3M156 487v3M157 504v3M157 495v3M157 510v3M157 499v3M160 489v3M160 482v3M160 487v3M159 517v3M160 515v3M160 496v3M159 500v3M159 507v3M160 507v3M162 486v3M162 500v3M162 486v3M161 504v3M161 494v3M161 496v3M162 485v3M161 511v3M161 479v3M163 487v3M164 498v3M164 515v3M164 482v3M164 484v3M164 507v3M163 499v3M165 500v3M165 481v3M165 488v3M165 510v3M165 492v3M166 512v3M165 508v3M166 504v3M166 483v3M166 496v3M166 515v3M164 504v3M167 482v3M167 517v3M168 495v3M170 501v3M169 478v3M170 514v3M169 504v3M170 483v3M170 498v3M169 516v3M169 515v3M170 494v3M169 487v3M169 518v3M169 508v3M172 517v3M171 505v3M171 484v3M172 494v3M171 488v3M171 497v3M172 512v3M172 497v3M171 520v3M174 509v3M174 519v3M174 514v3M174 511v3M173 486v3M173 520v3M174 492v3M173 514v3M175 484v3M176 491v3M176 494v3M175 518v3M176 494v3M175 502v3M175 517v3M176 496v3M177 482v3M178 501v3M178 503v3M177 495v3M177 491v3M177 486v3M178 479v3M177 502v3M178 485v3M179 517v3M179 519v3M180 503v3M179 490v3M182 512v3M181 481v3M181 500v3M181 497v3M182 510v3M181 486v3M181 507v3M181 511v3M181 491v3M182 502v3M181 494v3M181 509v3M182 515v3M182 499v3M182 477v3M182 517v3M182 502v3M181 484v3M184 498v3M184 479v3M183 483v3M183 478v3M183 508v3M183 478v3M185 490v3M186 514v3M186 477v3M185 517v3M186 477v3M185 517v3M186 496v3M185 484v3M185 490v3M186 517v3M187 508v3M188 481v3M188 505v3M188 519v3M187 519v3M188 487v3M187 516v3M187 502v3M187 495v3M188 493v3M186 496v3M187 496v3M187 518v3M187 510v3M190 510v3M190 484v3M189 512v3M190 508v3M190 497v3M190 515v3M190 495v3M190 519v3M189 519v3M188 494v3M190 516v3M192 497v3M191 481v3M192 509v3M192 517v3M192 508v3M194 495v3M194 480v3M194 515v3M194 489v3M193 498v3M193 476v3M194 489v3M196 511v3M195 520v3M195 482v3M196 487v3M196 484v3M195 493v3M195 486v3M198 479v3M196 501v3M197 495v3M198 520v3M198 487v3M197 484v3M197 490v3M197 515v3M200 517v3M199 487v3M199 506v3M199 514v3M200 482v3M200 496v3M199 503v3M199 520v3M199 507v3M200 495v3M201 497v3M201 480v3M201 481v3M202 489v3M202 508v3M201 493v3M200 514v3M201 505v3M202 517v3M202 511v3M200 495v3M202 481v3M202 498v3M203 503v3M204 516v3M204 492v3M204 503v3M203 519v3M203 513v3M203 477v3M203 506v3M205 481v3M205 505v3M206 497v3M206 520v3M205 504v3M205 485v3M206 481v3M206 506v3M204 512v3M208 499v3M208 515v3M208 508v3M208 488v3M208 498v3M208 514v3M207 515v3M208 509v3M208 491v3M207 517v3M207 493v3M207 508v3M208 512v3M208 506v3M206 478v3M207 485v3M208 511v3M209 477v3M209 514v3M210 481v3M210 486v3M210 501v3M210 479v3M209 508v3M210 505v3M209 505v3M212 512v3M211 480v3M210 479v3M212 486v3M211 515v3M211 513v3M214 511v3M213 484v3M213 509v3M213 478v3M213 480v3M214 481v3M213 482v3M214 512v3M213 477v3M214 490v3M214 500v3M213 500v3M213 506v3M214 500v3M213 482v3M213 479v3M215 476v3M216 481v3M215 520v3M215 495v3M214 498v3M216 507v3M216 498v3M218 495v3M218 502v3M217 496v3M218 493v3M217 480v3M218 514v3M218 493v3M220 498v3M218 482v3M219 477v3M220 497v3M219 483v3M221 514v3M220 503v3M222 483v3M220 486v3M222 491v3M221 479v3M222 497v3M222 499v3M221 500v3M222 494v3M221 485v3M221 509v3M224 486v3M223 509v3M224 495v3M223 510v3M223 506v3M223 516v3M223 483v3M222 515v3M223 484v3M223 495v3M225 481v3M225 493v3M226 479v3M226 479v3M226 500v3M225 511v3M225 486v3M225 513v3M226 482v3M227 483v3M228 488v3M228 482v3M227 513v3M228 510v3M228 506v3M228 503v3M227 498v3M227 496v3M228 482v3M229 479v3M230 493v3M230 495v3M230 503v3M230 494v3M229 495v3M229 479v3M229 513v3M232 508v3M232 506v3M232 482v3M231 484v3M231 486v3M234 500v3M234 489v3M234 519v3M233 487v3M233 514v3M233 485v3M233 510v3M234 507v3M233 520v3M236 506v3M235 501v3M235 509v3M235 495v3M235 481v3M236 508v3M236 515v3M236 487v3M236 496v3M237 509v3M236 513v3M237 519v3M238 517v3M237 497v3M237 498v3M240 482v3M239 517v3M240 483v3M239 485v3M239 496v3M239 511v3M239 497v3M240 477v3M239 492v3M241 504v3M241 508v3M241 495v3M241 517v3M242 477v3M242 504v3M241 493v3M242 499v3M244 480v3M244 497v3M244 499v3M243 518v3M243 507v3M244 476v3M244 478v3M243 476v3M243 500v3M246 487v3M246 493v3M246 488v3M246 483v3M245 506v3M245 493v3M246 493v3M247 518v3M248 501v3M248 482v3M247 511v3M247 505v3M246 493v3M248 510v3M247 510v3M249 476v3M249 512v3M250 488v3M250 492v3M249 510v3M250 511v3M249 499v3M250 514v3M250 497v3M250 495v3M249 503v3M251 515v3M252 481v3M251 479v3M252 512v3M251 491v3M254 499v3M253 516v3M254 486v3M254 501v3M254 504v3M254 489v3M254 509v3M253 509v3M253 503v3M254 485v3M254 487v3M253 500v3M253 486v3M253 507v3M256 477v3M255 493v3M256 491v3M256 484v3M256 507v3M256 484v3M256 484v3M255 480v3M255 491v3M255 495v3M256 517v3M255 480v3M256 509v3M255 486v3M257 479v3M257 511v3M257 491v3M257 506v3M257 514v3M257 500v3M258 515v3M259 486v3M259 492v3M260 476v3M258 513v3M260 498v3M259 484v3M259 504v3M259 488v3M259 484v3M259 492v3M259 486v3M260 486v3M260 517v3M260 479v3M260 499v3M262 485v3M261 508v3M261 508v3M262 514v3M261 486v3M262 485v3M264 486v3M263 486v3M264 487v3M264 485v3M263 490v3M263 506v3M263 479v3M265 499v3M266 514v3M265 488v3M266 479v3M266 484v3M265 507v3M266 494v3M265 494v3M265 517v3M266 499v3M266 479v3M265 492v3M267 494v3M267 505v3M267 486v3M267 484v3M266 491v3M267 489v3M268 509v3M268 481v3M268 514v3M267 482v3M269 485v3M269 518v3M270 498v3M269 512v3M270 510v3M269 514v3M270 493v3M268 513v3M269 501v3M270 492v3M269 495v3M269 517v3M269 491v3M269 516v3M269 507v3M271 490v3M271 492v3M272 515v3M272 493v3M272 493v3M271 496v3M274 485v3M274 511v3M273 487v3M273 508v3M273 510v3M274 476v3M274 520v3M272 520v3M274 485v3M273 492v3M273 517v3M273 488v3M274 494v3M273 481v3M274 514v3M272 494v3M275 515v3M276 513v3M275 497v3M274 512v3M276 487v3M275 484v3M276 509v3M275 508v3M277 514v3M277 517v3M277 520v3M278 487v3M278 502v3M277 501v3M278 514v3M278 494v3M278 516v3M277 488v3M279 489v3M279 512v3M279 486v3M279 490v3M280 499v3M280 512v3M280 510v3M280 479v3M279 494v3M279 516v3M281 482v3M280 497v3M281 506v3M281 512v3M281 518v3M282 485v3M282 500v3M281 488v3M282 492v3M282 502v3M281 506v3M281 477v3M281 480v3M282 512v3M283 492v3M283 515v3M283 509v3M283 510v3M284 487v3M284 507v3M283 485v3M283 508v3M285 512v3M286 494v3M286 507v3M284 519v3M285 491v3M285 504v3M286 494v3M285 518v3M286 494v3M285 496v3M285 509v3M286 488v3M285 514v3M287 491v3M288 487v3M287 504v3M287 503v3M288 511v3M287 510v3M289 515v3M290 491v3M289 519v3M290 513v3M289 486v3M289 476v3M289 484v3M292 516v3M292 508v3M291 483v3M292 510v3M292 483v3M291 505v3M291 518v3M292 497v3M292 501v3M291 511v3M292 481v3M292 481v3M291 483v3M292 520v3M292 514v3M292 513v3M292 505v3M293 509v3M294 497v3M293 482v3M293 479v3M293 503v3M293 485v3M293 478v3M294 513v3M295 498v3M295 515v3M296 514v3M295 481v3M294 519v3M295 497v3M296 481v3M296 493v3M296 520v3M295 492v3M296 519v3M295 499v3M296 490v3M295 513v3M295 488v3M296 507v3M298 494v3M298 502v3M298 509v3M297 481v3M298 497v3M298 511v3M298 496v3M298 488v3M296 516v3M298 492v3M297 482v3M297 498v3M297 504v3M297 508v3M297 505v3M297 508v3M297 496v3M297 506v3M300 516v3M299 514v3M300 484v3M299 517v3M300 505v3M299 486v3M299 514v3M299 479v3M300 503v3M298 495v3M300 501v3M302 500v3M301 512v3M302 492v3M302 513v3M301 516v3M301 478v3M301 507v3M301 489v3M301 516v3M301 518v3M303 506v3M303 493v3M303 497v3M303 510v3M303 495v3M303 511v3M302 488v3M303 498v3M303 493v3M303 484v3M304 501v3M304 498v3M304 504v3M303 501v3M305 501v3M306 498v3M306 504v3M305 494v3M305 508v3M305 493v3M307 501v3M307 512v3M307 509v3M308 481v3M308 481v3M306 504v3M308 497v3M308 476v3M307 489v3M310 483v3M310 516v3M309 520v3M310 510v3M310 480v3M309 482v3M309 494v3M309 505v3M312 506v3M312 506v3M312 500v3M311 490v3M311 483v3M311 479v3M311 505v3M312 504v3M311 501v3M313 497v3M314 485v3M313 499v3M314 502v3M314 503v3M313 491v3M314 483v3M314 490v3M313 480v3M314 478v3M314 482v3M313 477v3M314 514v3M314 479v3M315 514v3M315 499v3M316 499v3M315 486v3M315 499v3M316 495v3M315 477v3M316 483v3M316 516v3M316 487v3M315 515v3M314 498v3M315 507v3M316 477v3M318 515v3M317 478v3M317 481v3M316 488v3M317 507v3M317 504v3M318 481v3M317 481v3M319 485v3M320 490v3M319 506v3M319 518v3M319 485v3M319 518v3M320 500v3M319 478v3M321 495v3M322 497v3M321 509v3M321 482v3M321 516v3M322 518v3M322 516v3M321 500v3M321 476v3M321 515v3M321 485v3M322 476v3M322 497v3M321 517v3M321 503v3M321 487v3M323 516v3M323 496v3M324 484v3M324 486v3M323 488v3M324 498v3M323 518v3M324 506v3M324 499v3M323 514v3M323 498v3M325 481v3M325 485v3M325 489v3M326 502v3M326 512v3M325 485v3M327 488v3M328 520v3M327 495v3M327 500v3M330 510v3M330 501v3M329 488v3M330 519v3M329 492v3M330 513v3M329 482v3M330 486v3M330 477v3M330 489v3M329 476v3M329 497v3M330 504v3M328 517v3M329 512v3M329 516v3M331 487v3M332 495v3M331 501v3M332 502v3M332 519v3M331 513v3M331 480v3M331 519v3M331 494v3M332 512v3M334 485v3M334 499v3M333 504v3M333 480v3M334 520v3M333 486v3M334 512v3M334 481v3M333 476v3M334 491v3M334 520v3M334 484v3M333 477v3M334 498v3M336 491v3M335 479v3M336 510v3M335 481v3M335 493v3M335 498v3M336 507v3M336 489v3M336 512v3M335 485v3M335 519v3M337 489v3M337 504v3M336 497v3M337 500v3M337 493v3M338 483v3M338 499v3M338 495v3M339 516v3M339 493v3M339 508v3M339 493v3M340 513v3M339 489v3M340 503v3M340 487v3M339 484v3M339 503v3M339 505v3M340 513v3M340 484v3M339 484v3M340 510v3M341 486v3M342 478v3M340 509v3M342 506v3M341 492v3M341 487v3M341 498v3M344 504v3M343 505v3M343 490v3M344 499v3M343 486v3M343 486v3M343 483v3M343 519v3M343 477v3M345 514v3M345 502v3M346 519v3M345 510v3M347 502v3M346 490v3M348 482v3M347 477v3M347 511v3M347 502v3M348 493v3M348 492v3M348 500v3M350 478v3M349 482v3M350 518v3M349 499v3M350 517v3M350 482v3M349 489v3M350 505v3M350 496v3M350 502v3M349 515v3M350 518v3M352 476v3M351 494v3M351 498v3M352 487v3M351 505v3M350 477v3M351 483v3M351 492v3M351 496v3M353 499v3M354 482v3M353 487v3M354 495v3M354 509v3M354 500v3M354 514v3M353 496v3M354 519v3M354 520v3M354 491v3M353 506v3M352 513v3M352 512v3M353 504v3M352 477v3M354 500v3M353 513v3M353 492v3M355 490v3M356 477v3M355 505v3M355 500v3M356 488v3M355 520v3M355 501v3M355 511v3M356 486v3M357 494v3M358 479v3M358 477v3M358 515v3M357 519v3M358 504v3M356 507v3M357 503v3M358 505v3M357 502v3M357 494v3M357 490v3M358 478v3M357 487v3M359 492v3M359 476v3M359 511v3M360 495v3M360 491v3M359 491v3M358 500v3M359 496v3M360 510v3M362 505v3M362 484v3M362 497v3M361 520v3M364 479v3M364 499v3M362 479v3M363 476v3M363 484v3M364 489v3M363 483v3M364 479v3M365 498v3M365 499v3M365 495v3M365 518v3M365 514v3M365 489v3M365 480v3M366 491v3M367 504v3M368 502v3M368 509v3M367 488v3M367 515v3M367 481v3M367 494v3M367 520v3M368 520v3M368 491v3M368 520v3M370 490v3M369 479v3M370 503v3M370 485v3M369 508v3M369 485v3M370 516v3M370 482v3M369 506v3M368 512v3M369 486v3M371 493v3M372 484v3M371 483v3M372 512v3M371 498v3M370 500v3M371 513v3M372 481v3M372 503v3M371 498v3M371 506v3M371 480v3M372 514v3M374 507v3M373 505v3M374 488v3M374 498v3M373 486v3M374 479v3M373 486v3M374 479v3M376 490v3M375 490v3M376 515v3M375 495v3M376 494v3M376 494v3M376 492v3M376 479v3M375 493v3M376 482v3M376 511v3M374 517v3M375 494v3M378 515v3M378 499v3M377 506v3M378 495v3M377 485v3M378 480v3M377 511v3M380 503v3M379 508v3M380 478v3M380 509v3M380 498v3M380 481v3M379 515v3M380 497v3M379 485v3M380 486v3M380 516v3M382 480v3M381 492v3M381 503v3M382 478v3M382 497v3M381 482v3M383 486v3M384 516v3M383 488v3M383 511v3M383 479v3M384 505v3M384 507v3M384 479v3M383 483v3M383 494v3M384 489v3" stroke="#d92c4a" stroke-width="2.8" transform="scale(.5)"/>
<path d="M592 450v3M592 436v3M592 461v3M592 434v3M593 446v3M594 472v3M594 442v3M595 443v3M593 468v3M596 462v3M597 461v3M597 439v3M595 466v3M597 458v3M596 459v3M596 465v3M599 437v3M598 462v3M598 462v3M599 454v3M599 470v3M599 438v3M597 466v3M598 437v3M600 442v3M599 451v3M600 466v3M600 471v3M601 451v3M602 435v3M602 450v3M602 453v3M603 463v3M602 446v3M602 430v3M602 452v3M604 444v3M604 441v3M604 454v3M604 443v3M603 456v3M605 455v3M603 434v3M603 449v3M604 446v3M604 460v3M603 433v3M604 437v3M605 455v3M606 437v3M606 463v3M606 470v3M606 453v3M606 430v3M606 432v3M607 447v3M606 466v3M608 444v3M608 463v3M608 459v3M608 454v3M608 458v3M608 468v3M609 459v3M611 461v3M610 433v3M610 467v3M610 468v3M610 471v3M609 435v3M610 434v3M613 441v3M613 468v3M611 438v3M612 453v3M613 437v3M611 456v3M613 470v3M615 437v3M614 436v3M615 430v3M615 467v3M615 473v3M614 440v3M614 441v3M614 438v3M613 455v3M614 450v3M615 465v3M617 464v3M616 471v3M615 452v3M615 446v3M617 452v3M617 459v3M619 468v3M617 439v3M619 431v3M618 447v3M618 444v3M617 449v3M618 448v3M618 470v3M620 447v3M620 440v3M620 439v3M620 458v3M621 431v3M620 440v3M622 444v3M622 464v3M622 471v3M623 433v3M621 432v3M623 462v3M625 468v3M625 435v3M624 439v3M623 461v3M625 442v3M625 434v3M624 433v3M624 464v3M624 430v3M625 432v3M626 445v3M626 441v3M626 446v3M627 441v3M627 466v3M625 436v3M625 438v3M627 432v3M627 432v3M629 434v3M628 463v3M628 445v3M628 451v3M628 449v3M628 438v3M631 431v3M629 446v3M629 464v3M631 459v3M629 454v3M629 433v3M630 465v3M630 456v3M630 442v3M632 441v3M632 470v3M632 431v3M631 453v3M632 469v3M634 461v3M635 432v3M633 456v3M634 434v3M633 459v3M633 462v3M634 470v3M635 446v3M635 446v3M633 447v3M635 452v3M635 440v3M636 464v3M635 445v3M637 437v3M635 457v3M635 441v3M637 432v3M636 473v3M639 466v3M638 443v3M639 462v3M639 452v3M638 464v3M638 457v3M640 464v3M640 468v3M639 466v3M640 460v3M639 456v3M641 432v3M640 468v3M642 436v3M642 447v3M641 432v3M641 430v3M642 444v3M642 473v3M644 450v3M644 436v3M643 450v3M644 437v3M644 429v3M644 448v3M644 448v3M645 453v3M643 435v3M645 436v3M646 462v3M646 459v3M647 443v3M646 468v3M645 435v3M648 465v3M647 469v3M647 437v3M648 473v3M647 467v3M649 471v3M650 437v3M651 440v3M651 451v3M650 451v3M651 444v3M651 443v3M652 470v3M652 434v3M652 435v3M651 431v3M651 451v3M652 456v3M651 453v3M652 468v3M652 459v3M655 436v3M654 456v3M655 442v3M654 467v3M653 441v3M654 457v3M654 457v3M657 463v3M656 446v3M656 449v3M657 444v3M657 433v3M655 443v3M655 468v3M658 467v3M657 447v3M658 462v3M659 464v3M659 430v3M658 468v3M658 434v3M658 436v3M658 449v3M659 440v3M659 451v3M659 446v3M660 436v3M660 452v3M661 458v3M661 444v3M660 466v3M662 446v3M662 449v3M663 454v3M661 454v3M661 456v3M661 430v3M661 444v3M661 462v3M663 447v3M661 465v3M662 453v3M665 467v3M664 472v3M664 454v3M664 433v3M664 469v3M664 445v3M664 446v3M665 440v3M667 453v3M665 432v3M666 463v3M666 447v3M666 439v3M666 444v3M667 434v3M665 445v3M667 430v3M667 454v3M668 467v3M668 467v3M668 451v3M667 454v3M667 464v3M667 436v3M667 470v3M668 467v3M670 462v3M670 431v3M670 458v3M670 456v3M671 446v3M670 435v3M670 459v3M671 431v3M671 444v3M670 430v3M671 443v3M670 440v3M672 435v3M671 443v3M672 439v3M672 472v3M672 452v3M671 468v3M673 453v3M672 439v3M672 468v3M672 468v3M672 435v3M672 463v3M672 454v3M673 437v3M672 444v3M675 442v3M674 462v3M674 456v3M675 447v3M674 447v3M673 466v3M673 439v3M676 430v3M677 432v3M677 443v3M676 461v3M675 431v3M675 446v3M675 455v3M676 466v3M676 454v3M675 440v3M676 433v3M678 473v3M679 442v3M679 451v3M678 459v3M678 455v3M679 456v3M679 467v3M679 436v3M679 461v3M681 446v3M681 451v3M680 453v3M680 470v3M680 457v3M680 443v3M680 441v3M680 454v3M681 433v3M681 449v3M683 463v3M681 455v3M682 459v3M681 470v3M681 448v3M682 461v3M681 471v3M683 431v3M683 440v3M681 445v3M683 454v3M681 449v3M684 471v3M683 445v3M684 467v3M685 453v3M683 449v3M683 463v3M684 438v3M685 470v3M687 463v3M687 450v3M685 446v3M686 471v3M686 438v3M685 438v3M687 432v3M685 459v3M685 469v3M688 447v3M688 473v3M688 467v3M688 435v3M688 433v3M689 450v3M688 459v3M688 465v3M689 438v3M688 448v3M691 464v3M692 432v3M692 443v3M692 438v3M691 457v3M692 453v3M692 472v3M691 440v3M692 435v3M691 431v3M692 438v3M692 468v3M692 456v3M692 440v3M694 440v3M695 449v3M694 457v3M694 468v3M693 466v3M695 470v3M695 467v3M695 467v3M693 472v3M694 462v3M695 436v3M695 454v3M693 449v3M694 459v3M695 444v3M696 433v3M695 470v3M695 452v3M695 449v3M696 468v3M696 469v3M696 438v3M696 435v3M695 468v3M695 471v3M695 453v3M696 461v3M698 448v3M699 442v3M699 453v3M698 446v3M699 433v3M698 436v3M698 471v3M700 434v3M699 440v3M699 433v3M701 440v3M700 434v3M700 442v3M701 448v3M701 453v3M700 464v3M700 442v3M699 446v3M701 467v3M701 430v3M703 432v3M702 436v3M703 448v3M701 440v3M702 459v3M702 468v3M701 436v3M702 431v3M704 471v3M704 461v3M704 464v3M705 462v3M703 432v3M704 464v3M705 460v3M703 444v3M704 431v3M705 445v3M704 453v3M704 445v3M705 444v3M706 429v3M705 449v3M705 463v3M706 444v3M705 467v3M706 454v3M707 464v3M706 473v3M707 460v3M709 451v3M708 436v3M709 450v3M708 470v3M708 458v3M707 434v3M707 453v3M708 469v3M709 430v3M709 463v3M710 445v3M711 441v3M712 465v3M713 466v3M712 449v3M713 441v3M712 471v3M712 443v3M711 441v3M715 461v3M715 472v3M714 445v3M713 453v3M714 430v3M714 464v3M715 446v3M715 456v3M715 438v3M715 458v3M714 451v3M717 448v3M716 439v3M715 472v3M716 430v3M717 470v3M715 466v3M716 429v3M718 472v3M717 431v3M718 449v3M719 435v3M718 437v3M717 437v3M720 440v3M719 436v3M720 442v3M720 468v3M720 433v3M720 432v3M721 433v3M721 471v3M722 458v3M723 457v3M722 433v3M721 466v3M725 467v3M723 447v3M725 440v3M724 448v3M723 432v3M725 461v3M725 460v3M724 440v3M724 431v3M723 462v3M727 445v3M727 464v3M725 464v3M727 458v3M727 469v3M725 463v3M726 456v3M726 459v3M726 435v3M726 431v3M726 440v3M727 464v3M729 456v3M728 432v3M728 454v3M729 448v3M727 470v3M728 471v3M727 432v3M728 463v3M729 456v3M728 451v3M731 439v3M730 433v3M731 438v3M730 433v3M731 433v3M731 431v3M730 432v3M729 434v3M729 453v3M731 442v3M731 431v3M732 469v3M732 433v3M732 465v3M732 431v3M731 471v3M732 432v3M732 436v3M733 449v3M732 437v3M733 434v3M732 445v3M734 434v3M733 466v3M734 466v3M734 434v3M734 458v3M733 447v3M735 437v3M734 439v3M734 435v3M733 470v3M733 465v3M735 456v3M737 446v3M737 457v3M736 469v3M737 465v3M737 464v3M737 449v3M736 449v3M735 469v3M736 441v3M736 453v3M736 439v3M735 449v3M737 457v3M737 431v3M739 458v3M738 461v3M739 432v3M737 465v3M739 451v3M738 452v3M738 443v3M738 432v3M741 441v3M741 453v3M740 458v3M741 439v3M740 472v3M741 434v3M740 469v3M742 433v3M741 452v3M742 434v3M742 450v3M741 464v3M742 430v3M744 435v3M745 447v3M743 430v3M743 436v3M744 448v3M745 436v3M744 453v3M744 435v3M744 463v3M744 466v3M745 465v3M744 462v3M746 447v3M745 434v3M746 431v3M748 441v3M748 432v3M747 470v3M748 459v3M748 463v3M748 459v3M748 460v3M748 432v3M747 435v3M748 468v3M747 442v3M748 456v3M750 450v3M751 436v3M751 440v3M750 454v3M750 456v3M751 470v3M750 457v3M752 437v3M753 442v3M751 451v3M752 445v3M753 438v3M752 433v3M753 432v3M752 469v3M752 464v3M752 464v3M751 457v3M752 454v3M753 449v3M751 459v3M755 463v3M755 436v3M754 466v3M754 472v3M753 443v3M754 435v3M754 436v3M754 441v3M754 440v3M753 433v3M753 439v3M754 445v3M753 462v3M755 473v3M754 430v3M753 469v3M756 456v3M756 461v3M756 466v3M756 447v3M756 441v3M756 447v3M756 431v3M755 467v3M755 459v3M756 453v3M756 453v3M755 471v3M755 431v3M757 469v3M758 458v3M758 453v3M758 448v3M758 446v3M757 431v3M757 461v3M759 467v3M758 473v3M757 441v3M761 460v3M761 465v3M761 465v3M760 434v3M760 433v3M760 458v3M760 460v3M759 433v3M760 452v3M762 467v3M761 463v3M762 458v3M761 468v3M762 431v3M761 445v3M762 472v3M761 452v3M763 433v3M763 431v3M764 472v3M765 470v3M764 458v3M764 460v3M763 436v3M766 441v3M766 448v3M767 456v3M766 441v3M766 471v3M767 453v3M765 472v3M768 435v3M767 442v3M767 442v3M768 464v3M769 472v3M768 430v3M769 457v3M767 458v3M767 441v3M769 465v3M770 455v3M771 447v3M770 460v3M769 459v3M771 472v3M771 468v3M771 460v3M771 444v3M770 456v3M772 430v3M772 436v3M772 462v3M771 429v3M772 449v3M771 458v3M771 438v3M775 443v3M773 438v3M775 444v3M775 435v3M773 453v3M774 465v3M774 471v3M774 464v3M773 450v3M774 445v3M773 444v3M774 456v3M773 459v3M774 445v3M775 456v3M773 435v3M775 432v3M776 458v3M776 441v3M777 432v3M777 459v3M776 446v3M775 468v3M776 439v3M777 462v3M777 461v3M776 461v3M777 456v3M777 441v3M777 471v3M777 449v3M777 447v3M779 459v3M778 440v3M778 454v3M777 433v3M778 442v3M778 430v3M778 432v3M779 433v3M779 432v3M779 437v3M778 436v3M779 467v3M779 453v3M779 441v3M779 453v3M779 438v3M779 438v3M779 465v3M781 435v3M781 442v3M780 469v3M780 460v3M780 455v3M780 432v3M780 433v3M782 441v3M782 435v3M783 457v3M783 471v3M781 457v3M783 435v3M781 439v3M782 456v3M781 453v3M782 446v3M782 429v3M782 435v3M781 440v3M784 448v3M784 472v3M784 431v3M784 433v3M784 450v3M784 435v3M783 461v3M784 449v3M787 460v3M786 462v3M786 462v3M787 455v3M786 443v3M785 449v3M786 459v3M786 469v3M786 466v3M785 458v3M785 461v3M787 431v3M787 447v3M787 439v3M788 469v3M789 445v3M788 457v3M788 448v3M787 460v3M788 459v3M788 443v3M788 430v3M791 460v3M790 431v3M790 449v3M791 458v3M789 466v3M789 471v3M790 460v3M789 460v3M791 449v3M791 449v3M790 443v3M791 470v3M790 445v3M790 440v3M791 443v3M791 470v3M793 444v3M793 440v3M793 473v3M792 433v3M792 435v3M792 456v3M791 470v3M792 467v3M792 460v3M795 440v3M794 435v3M795 446v3M793 450v3M794 450v3M794 436v3M794 444v3M793 439v3M795 466v3M794 464v3M795 460v3M796 460v3M796 469v3M797 441v3M795 471v3M797 466v3M796 436v3M796 447v3M795 446v3M795 473v3M795 459v3M796 436v3M797 451v3M796 463v3M798 472v3M799 448v3M798 468v3M798 462v3M800 468v3M801 454v3M801 455v3M799 452v3M801 433v3M800 471v3M802 472v3M802 431v3M802 458v3M803 447v3M802 451v3M801 459v3M802 438v3M802 431v3M802 436v3M804 460v3M803 445v3M804 466v3M803 439v3M804 459v3M807 457v3M806 431v3M806 456v3M806 463v3M806 443v3M805 450v3M805 449v3M807 451v3M806 433v3M806 452v3M806 441v3M806 453v3M805 432v3M806 443v3M806 434v3M805 462v3M809 446v3M807 458v3M808 466v3M807 435v3M808 458v3M808 454v3M809 460v3M809 433v3M808 446v3M808 458v3M808 441v3M809 453v3M809 448v3M808 453v3M807 466v3M809 432v3M810 440v3M810 466v3M811 471v3M811 449v3M809 463v3M810 446v3M809 441v3M809 454v3M812 439v3M812 447v3M812 434v3M812 464v3M812 444v3M811 436v3M811 442v3M812 455v3M813 448v3M812 442v3M812 442v3M814 436v3M813 437v3M815 429v3M815 450v3M813 441v3M814 466v3M813 463v3M814 449v3M815 469v3M817 452v3M816 436v3M816 440v3M816 439v3M815 438v3M815 453v3M816 432v3M818 461v3M819 457v3M818 460v3M817 466v3M818 461v3M819 467v3M818 448v3M817 465v3M817 462v3M818 430v3M818 452v3M819 469v3M819 449v3M817 445v3M820 452v3M820 449v3M820 444v3M821 430v3M821 441v3M820 462v3M820 443v3M819 458v3M819 448v3M820 439v3M820 462v3M820 470v3M821 454v3M821 460v3M823 462v3M822 430v3M821 432v3M821 464v3M822 468v3M823 468v3M821 453v3M823 444v3M822 465v3M823 445v3M823 470v3M823 452v3M824 436v3M825 439v3M824 439v3M824 472v3M824 468v3M825 462v3M824 438v3M823 435v3M824 462v3M825 465v3M826 461v3M826 456v3M827 461v3M826 440v3M825 437v3M827 434v3M827 448v3M827 448v3M826 441v3M825 464v3M827 439v3M827 432v3M826 449v3M825 445v3M828 471v3M829 440v3M829 467v3M827 462v3M827 453v3M829 461v3M828 442v3M827 431v3M827 465v3M829 447v3M827 431v3M829 447v3M829 468v3M830 469v3M830 433v3M830 451v3M829 451v3M829 447v3M830 471v3M831 449v3M831 459v3M830 469v3M829 468v3M830 455v3M830 471v3M829 449v3M830 462v3M832 463v3M832 442v3M833 434v3M832 451v3M832 438v3M832 473v3M835 448v3M835 469v3M835 449v3M834 443v3M835 468v3M835 455v3M834 458v3M835 450v3M833 450v3M834 466v3M834 433v3M835 471v3M834 456v3M833 462v3M835 473v3M834 462v3M835 431v3M835 454v3M836 435v3M836 452v3M835 467v3M837 471v3M836 437v3M835 459v3M835 443v3M835 455v3M836 444v3M835 438v3M836 455v3M836 445v3M837 448v3M836 468v3M835 457v3M837 463v3M838 464v3M837 461v3M839 438v3M839 440v3M838 444v3M837 440v3M837 454v3M838 441v3M838 462v3M840 465v3M840 473v3M840 457v3M841 445v3M840 452v3M839 450v3M839 446v3M840 473v3M840 468v3M841 446v3M839 471v3M840 472v3M840 450v3M843 452v3M843 445v3M842 442v3M842 446v3M843 460v3M843 456v3M842 433v3M842 456v3M841 467v3M843 447v3M841 465v3M841 461v3M843 451v3M842 433v3M842 453v3M843 442v3M843 431v3M843 435v3M843 448v3M844 440v3M845 434v3M843 446v3M843 449v3M845 459v3M844 465v3M844 455v3M844 473v3M844 439v3M845 451v3M844 444v3M844 446v3M845 433v3M844 453v3M843 457v3M846 446v3M847 444v3M847 430v3M846 430v3M847 435v3M846 442v3M845 472v3M846 452v3M845 431v3M846 452v3M847 461v3M847 439v3M847 460v3M849 439v3M848 449v3M847 446v3M848 432v3M848 457v3M848 433v3M849 457v3M848 451v3M849 466v3M847 449v3M848 432v3M848 444v3M848 460v3M851 436v3M851 441v3M850 453v3M851 438v3M850 449v3M849 446v3M850 453v3M849 437v3M849 456v3M850 461v3M851 451v3M851 444v3M850 438v3M850 466v3M852 462v3M852 452v3M852 442v3M852 464v3M852 440v3M851 457v3M851 435v3M853 469v3M853 461v3M852 448v3M853 434v3M852 473v3M852 450v3M852 470v3M852 472v3M854 455v3M854 444v3M854 455v3M854 465v3M854 441v3M854 455v3M853 467v3M854 465v3M855 433v3M854 444v3M856 469v3M855 433v3M855 432v3M855 436v3M857 443v3M855 432v3M856 457v3M856 463v3M857 463v3M856 449v3M856 448v3M856 441v3M857 471v3M855 465v3M855 465v3M858 443v3M858 433v3M858 467v3M858 434v3M859 440v3M858 470v3M857 462v3M858 456v3M857 460v3M857 442v3M859 460v3M859 460v3M860 446v3M860 431v3M861 470v3M861 466v3M863 450v3M861 470v3M862 469v3M862 447v3M862 453v3M863 447v3M862 438v3M862 469v3M861 468v3M864 446v3M863 456v3M865 458v3M863 455v3M865 447v3M864 451v3M865 467v3M864 445v3M865 438v3M863 439v3" stroke="#4d9bf5" stroke-width="2.8" transform="scale(.5)"/>
<path d="M592 519v3M592 480v3M593 503v3M592 493v3M591 511v3M592 484v3M592 515v3M592 500v3M593 516v3M592 497v3M591 495v3M592 511v3M592 519v3M593 492v3M592 519v3M592 517v3M593 484v3M595 497v3M594 486v3M594 507v3M593 510v3M595 484v3M594 496v3M595 492v3M594 484v3M594 486v3M594 519v3M596 490v3M595 512v3M596 481v3M596 493v3M596 515v3M596 517v3M596 486v3M596 479v3M596 511v3M595 503v3M595 486v3M595 498v3M596 479v3M596 507v3M595 499v3M597 498v3M598 502v3M598 517v3M598 502v3M599 480v3M599 482v3M599 507v3M598 490v3M597 509v3M598 499v3M598 493v3M599 509v3M601 514v3M601 491v3M600 509v3M600 502v3M601 499v3M599 504v3M601 497v3M599 481v3M601 516v3M603 513v3M603 520v3M602 507v3M603 513v3M601 493v3M603 509v3M602 493v3M605 511v3M605 504v3M604 515v3M605 494v3M605 490v3M604 492v3M603 488v3M604 497v3M606 519v3M606 483v3M607 513v3M606 489v3M607 493v3M605 482v3M607 478v3M606 509v3M607 509v3M606 481v3M606 504v3M607 487v3M605 516v3M607 482v3M606 502v3M607 515v3M608 482v3M609 512v3M609 489v3M609 497v3M608 511v3M608 492v3M608 515v3M610 487v3M609 504v3M609 485v3M611 507v3M609 490v3M610 513v3M611 487v3M610 517v3M612 497v3M613 516v3M612 478v3M612 493v3M611 496v3M613 506v3M613 508v3M613 476v3M612 480v3M613 487v3M612 491v3M613 510v3M615 510v3M614 503v3M614 513v3M615 506v3M615 487v3M615 478v3M614 490v3M615 485v3M616 507v3M615 518v3M616 487v3M617 479v3M616 497v3M616 515v3M616 499v3M616 485v3M616 520v3M616 497v3M616 495v3M616 479v3M615 495v3M616 519v3M617 495v3M616 510v3M615 517v3M616 476v3M617 517v3M618 476v3M618 518v3M618 503v3M618 487v3M618 483v3M618 495v3M619 495v3M618 498v3M618 499v3M618 480v3M619 487v3M617 482v3M619 512v3M618 483v3M619 505v3M619 501v3M620 501v3M619 518v3M621 490v3M621 504v3M622 486v3M621 516v3M621 481v3M623 498v3M622 503v3M621 498v3M625 511v3M623 488v3M624 502v3M623 509v3M624 487v3M625 508v3M623 511v3M624 499v3M624 504v3M624 477v3M625 493v3M623 490v3M623 492v3M624 517v3M625 504v3M627 519v3M626 493v3M626 511v3M626 487v3M626 488v3M627 516v3M626 512v3M626 504v3M626 483v3M626 490v3M627 517v3M625 496v3M627 478v3M627 486v3M626 502v3M625 514v3M626 496v3M629 484v3M628 492v3M629 516v3M628 502v3M628 507v3M628 502v3M627 506v3M628 495v3M628 498v3M628 481v3M629 520v3M629 483v3M631 485v3M630 508v3M631 485v3M630 490v3M630 518v3M629 483v3M629 516v3M630 501v3M630 485v3M631 497v3M632 478v3M633 476v3M631 505v3M634 511v3M633 499v3M634 480v3M633 510v3M633 517v3M634 511v3M634 486v3M634 520v3M634 506v3M637 477v3M637 516v3M636 500v3M636 502v3M636 505v3M637 497v3M636 489v3M636 487v3M637 483v3M636 477v3M638 515v3M637 520v3M637 486v3M639 510v3M637 481v3M640 520v3M639 510v3M640 489v3M639 519v3M640 504v3M640 483v3M640 489v3M640 512v3M640 518v3M641 478v3M643 485v3M641 496v3M641 503v3M641 494v3M643 506v3M644 492v3M643 507v3M645 492v3M644 502v3M645 489v3M646 504v3M646 506v3M646 507v3M645 480v3M646 482v3M647 508v3M646 480v3M647 499v3M646 495v3M646 512v3M648 505v3M649 483v3M647 497v3M649 496v3M647 481v3M648 486v3M649 508v3M647 504v3M648 497v3M647 506v3M649 493v3M647 497v3M650 485v3M650 501v3M649 492v3M649 518v3M650 496v3M650 508v3M651 477v3M650 513v3M651 502v3M651 513v3M651 507v3M653 484v3M653 482v3M652 490v3M652 512v3M652 493v3M652 500v3M652 498v3M652 504v3M651 495v3M653 479v3M651 518v3M651 501v3M654 509v3M654 484v3M655 500v3M653 482v3M654 513v3M655 487v3M654 519v3M653 486v3M654 502v3M655 495v3M655 519v3M657 477v3M657 494v3M656 482v3M657 503v3M656 507v3M656 507v3M657 486v3M655 520v3M656 511v3M657 505v3M658 511v3M659 487v3M657 499v3M658 499v3M658 484v3M658 485v3M658 514v3M657 482v3M659 520v3M659 491v3M658 519v3M659 508v3M659 520v3M660 481v3M660 503v3M660 509v3M660 512v3M661 518v3M663 491v3M663 496v3M663 520v3M662 486v3M663 514v3M662 480v3M663 519v3M663 505v3M662 492v3M664 479v3M664 491v3M665 485v3M664 509v3M663 494v3M665 512v3M665 492v3M664 491v3M663 491v3M664 488v3M666 495v3M667 479v3M666 499v3M665 499v3M665 488v3M665 481v3M665 503v3M668 497v3M668 485v3M668 505v3M667 511v3M668 501v3M668 507v3M668 478v3M668 481v3M667 479v3M669 488v3M668 477v3M668 509v3M668 514v3M667 510v3M671 510v3M670 505v3M670 483v3M670 476v3M669 497v3M671 509v3M671 482v3M669 512v3M670 485v3M669 493v3M670 481v3M670 483v3M671 503v3M670 509v3M671 478v3M672 510v3M672 503v3M673 482v3M672 501v3M673 507v3M673 483v3M673 515v3M671 518v3M672 520v3M673 477v3M673 492v3M671 484v3M673 482v3M673 503v3M673 508v3M675 476v3M674 501v3M673 502v3M674 510v3M673 489v3M674 497v3M675 493v3M674 480v3M675 493v3M673 507v3M673 506v3M674 484v3M676 516v3M676 487v3M676 484v3M676 514v3M676 502v3M676 504v3M676 495v3M676 502v3M675 513v3M676 486v3M677 485v3M678 520v3M679 508v3M677 486v3M677 519v3M677 513v3M681 480v3M680 481v3M681 480v3M680 495v3M680 488v3M680 496v3M680 517v3M680 499v3M679 492v3M680 494v3M679 504v3M683 507v3M683 502v3M682 493v3M681 507v3M683 520v3M683 501v3M682 501v3M683 501v3M682 477v3M683 487v3M681 511v3M683 481v3M682 488v3M684 496v3M684 493v3M683 487v3M684 502v3M684 517v3M685 513v3M684 485v3M685 506v3M684 514v3M684 484v3M683 497v3M685 490v3M686 482v3M686 491v3M686 505v3M685 480v3M688 501v3M689 492v3M688 485v3M688 502v3M689 486v3M687 499v3M688 487v3M688 487v3M688 479v3M687 487v3M688 506v3M689 502v3M687 506v3M690 508v3M691 479v3M690 478v3M690 514v3M690 488v3M689 498v3M690 485v3M691 504v3M691 501v3M692 506v3M691 500v3M691 504v3M692 489v3M692 513v3M693 518v3M692 500v3M692 487v3M693 481v3M693 509v3M693 515v3M693 478v3M692 495v3M692 487v3M692 496v3M694 478v3M695 499v3M694 502v3M694 511v3M694 501v3M694 484v3M694 497v3M695 498v3M693 485v3M695 512v3M693 484v3M695 490v3M693 517v3M696 492v3M697 485v3M696 488v3M695 501v3M697 518v3M696 494v3M696 497v3M697 478v3M695 498v3M696 493v3M697 493v3M696 503v3M696 512v3M695 486v3M697 491v3M698 480v3M697 512v3M697 513v3M698 481v3M697 482v3M697 490v3M697 485v3M698 496v3M697 507v3M697 512v3M699 483v3M698 494v3M697 479v3M701 509v3M700 515v3M701 495v3M700 513v3M700 515v3M701 476v3M700 519v3M699 479v3M700 491v3M700 516v3M700 517v3M699 485v3M699 494v3M701 509v3M701 518v3M701 503v3M702 477v3M702 496v3M703 507v3M703 510v3M701 488v3M702 476v3M701 494v3M702 500v3M702 500v3M701 483v3M701 489v3M702 498v3M703 484v3M702 494v3M704 514v3M704 477v3M704 517v3M703 515v3M704 481v3M703 478v3M704 501v3M704 504v3M705 497v3M704 508v3M704 512v3M704 478v3M704 502v3M703 482v3M704 518v3M703 512v3M706 513v3M705 483v3M706 508v3M705 499v3M707 478v3M707 482v3M706 481v3M706 488v3M706 490v3M706 497v3M706 500v3M706 490v3M707 515v3M706 508v3M705 517v3M707 504v3M707 498v3M708 512v3M708 482v3M708 500v3M708 515v3M708 513v3M708 482v3M709 487v3M708 479v3M708 491v3M708 519v3M707 477v3M709 491v3M707 493v3M709 496v3M708 489v3M707 504v3M709 482v3M711 505v3M710 478v3M711 497v3M709 519v3M711 477v3M709 493v3M711 509v3M710 488v3M710 477v3M709 495v3M710 517v3M709 512v3M710 518v3M710 479v3M711 486v3M710 517v3M709 518v3M710 497v3M709 476v3M709 501v3M712 479v3M712 480v3M711 510v3M713 505v3M711 492v3M712 514v3M712 483v3M712 511v3M712 481v3M712 515v3M713 501v3M712 492v3M711 485v3M712 480v3M713 492v3M711 508v3M715 511v3M715 493v3M714 509v3M715 513v3M714 503v3M714 479v3M714 488v3M713 495v3M713 510v3M714 488v3M713 484v3M714 485v3M715 498v3M714 510v3M714 518v3M714 501v3M716 511v3M715 485v3M717 506v3M717 490v3M717 477v3M716 496v3M715 506v3M716 495v3M716 505v3M716 507v3M715 496v3M717 505v3M716 492v3M715 519v3M719 506v3M718 515v3M718 516v3M719 517v3M719 514v3M718 510v3M718 501v3M719 504v3M718 500v3M719 492v3M717 511v3M717 480v3M719 515v3M718 478v3M718 494v3M718 497v3M721 519v3M719 520v3M720 482v3M720 500v3M720 499v3M720 482v3M720 487v3M721 489v3M721 483v3M720 511v3M719 514v3M720 504v3M720 519v3M722 482v3M722 484v3M722 489v3M722 511v3M721 490v3M722 520v3M722 511v3M722 516v3M723 497v3M721 497v3M722 478v3M722 503v3M722 515v3M722 480v3M723 499v3M721 513v3M722 512v3M724 495v3M723 477v3M725 489v3M724 513v3M724 499v3M724 496v3M724 496v3M725 510v3M725 480v3M726 481v3M726 484v3M725 504v3M727 515v3M726 508v3M726 478v3M726 518v3M727 511v3M725 503v3M726 504v3M725 492v3M727 480v3M729 518v3M727 499v3M729 519v3M728 480v3M727 506v3M728 481v3M728 482v3M727 487v3M727 491v3M727 491v3M729 488v3M728 485v3M728 483v3M728 494v3M727 489v3M729 479v3M729 481v3M728 497v3M729 487v3M729 507v3M729 503v3M730 502v3M730 512v3M729 476v3M731 516v3M731 498v3M730 517v3M730 513v3M729 498v3M729 495v3M730 512v3M729 511v3M732 513v3M733 489v3M732 498v3M732 509v3M731 515v3M732 479v3M732 482v3M731 511v3M733 482v3M733 488v3M732 494v3M732 505v3M733 498v3M731 498v3M732 482v3M733 511v3M734 510v3M734 499v3M734 503v3M735 492v3M735 517v3M735 514v3M734 497v3M733 512v3M734 517v3M733 517v3M733 480v3M734 501v3M734 504v3M734 491v3M734 495v3M736 500v3M736 497v3M737 494v3M736 511v3M735 508v3M736 490v3M736 484v3M736 506v3M736 510v3M736 500v3M737 512v3M736 505v3M737 501v3M736 490v3M738 519v3M738 492v3M738 485v3M737 480v3M739 510v3M738 509v3M739 490v3M739 503v3M738 503v3M738 513v3M738 477v3M737 491v3M738 477v3M738 483v3M739 496v3M740 501v3M739 486v3M741 501v3M739 484v3M741 510v3M741 488v3M740 518v3M741 494v3M739 512v3M740 506v3M740 493v3M740 516v3M740 510v3M740 516v3M740 497v3M741 485v3M743 487v3M742 496v3M743 491v3M741 477v3M743 502v3M741 485v3M742 515v3M743 513v3M741 491v3M741 508v3M742 502v3M741 495v3M741 506v3M741 488v3M742 490v3M742 509v3M743 496v3M741 489v3M743 502v3M742 480v3M741 486v3M741 493v3M743 519v3M741 508v3M741 508v3M745 503v3M744 501v3M744 505v3M744 487v3M743 501v3M744 512v3M744 497v3M744 485v3M743 513v3M745 500v3M744 500v3M744 488v3M745 515v3M744 508v3M743 514v3M747 480v3M747 518v3M747 493v3M746 500v3M745 491v3M746 503v3M747 491v3M746 512v3M745 486v3M745 515v3M746 491v3M746 482v3M746 482v3M746 503v3M745 500v3M746 511v3M746 484v3M749 515v3M748 505v3M747 517v3M748 517v3M747 518v3M747 510v3M748 501v3M747 484v3M747 484v3M748 504v3M747 477v3M748 480v3M749 487v3M749 502v3M750 488v3M750 496v3M749 488v3M750 476v3M750 509v3M750 512v3M750 517v3M750 479v3M751 502v3M749 512v3M751 493v3M750 518v3M750 486v3M750 488v3M751 510v3M750 480v3M750 484v3M749 501v3M753 488v3M752 509v3M751 493v3M752 504v3M753 519v3M752 519v3M752 480v3M751 492v3M751 507v3M751 497v3M752 505v3M752 483v3M751 500v3M753 519v3M752 484v3M751 494v3M754 482v3M755 507v3M753 516v3M753 516v3M754 499v3M753 483v3M755 518v3M754 498v3M753 497v3M754 507v3M754 504v3M754 509v3M754 487v3M755 505v3M755 491v3M756 516v3M757 504v3M756 515v3M756 510v3M756 483v3M756 516v3M757 481v3M756 486v3M756 519v3M757 511v3M758 500v3M758 483v3M757 485v3M758 505v3M758 499v3M758 489v3M758 489v3M757 505v3M757 509v3M758 502v3M759 509v3M760 499v3M759 505v3M761 517v3M760 512v3M760 496v3M761 491v3M760 497v3M760 484v3M759 487v3M761 478v3M761 481v3M761 492v3M760 519v3M762 500v3M763 518v3M761 507v3M763 483v3M762 510v3M763 483v3M761 485v3M762 502v3M762 506v3M762 520v3M762 495v3M762 499v3M761 490v3M762 514v3M761 512v3M761 518v3M761 505v3M762 490v3M762 480v3M762 512v3M762 476v3M762 476v3M764 505v3M765 502v3M763 497v3M764 476v3M763 496v3M764 502v3M763 492v3M764 492v3M763 486v3M764 501v3M763 506v3M765 500v3M764 497v3M764 492v3M765 504v3M765 507v3M765 518v3M765 520v3M765 515v3M766 505v3M767 499v3M767 487v3M766 514v3M766 513v3M765 514v3M765 511v3M766 495v3M766 488v3M766 503v3M766 512v3M767 479v3M768 515v3M769 477v3M769 511v3M769 513v3M767 486v3M769 512v3M769 519v3M768 503v3M768 493v3M769 493v3M768 509v3M768 479v3M769 486v3M770 506v3M770 501v3M770 508v3M771 508v3M769 516v3M770 511v3M770 518v3M770 483v3M771 505v3M769 487v3M770 519v3M771 489v3M769 495v3M770 498v3M771 485v3M770 506v3M770 514v3M770 489v3M770 518v3M769 516v3M771 479v3M772 489v3M773 508v3M771 490v3M773 510v3M771 520v3M773 493v3M772 511v3M772 482v3M773 505v3M772 487v3M772 499v3M772 479v3M771 484v3M772 503v3M772 517v3M772 509v3M772 482v3M773 514v3M773 513v3M774 497v3M775 485v3M775 485v3M774 508v3M773 518v3M774 504v3M775 505v3M774 494v3M774 488v3M774 512v3M773 480v3M775 518v3M774 500v3M774 517v3M773 497v3M773 478v3M773 491v3M773 491v3M774 504v3M777 512v3M776 493v3M776 489v3M776 511v3M776 500v3M775 516v3M775 517v3M776 477v3M775 491v3M777 501v3M776 480v3M776 518v3M775 488v3M777 506v3M778 493v3M778 477v3M778 508v3M778 517v3M778 514v3M777 490v3M777 483v3M778 507v3M778 518v3M777 511v3M779 501v3M779 518v3M777 479v3M777 485v3M778 515v3M777 515v3M780 507v3M779 497v3M780 491v3M779 494v3M780 513v3M780 493v3M780 486v3M780 513v3M780 483v3M779 502v3M780 513v3M781 495v3M780 504v3M780 488v3M782 490v3M781 485v3M782 489v3M782 481v3M782 487v3M781 500v3M783 494v3M782 488v3M782 487v3M783 505v3M784 504v3M783 515v3M783 509v3M784 519v3M784 514v3M785 498v3M784 508v3M785 518v3M784 486v3M783 502v3M784 495v3M784 500v3M783 517v3M784 502v3M786 479v3M786 520v3M785 518v3M786 505v3M785 486v3M786 499v3M786 478v3M787 498v3M786 491v3M786 508v3M786 500v3M785 500v3M787 476v3M786 479v3M786 489v3M787 510v3M786 507v3M786 481v3M789 492v3M789 477v3M789 500v3M789 505v3M789 481v3M789 496v3M788 489v3M789 499v3M787 484v3M787 486v3M789 510v3M790 515v3M791 479v3M791 496v3M791 491v3M791 479v3M789 483v3M789 519v3M790 508v3M789 480v3M792 517v3M792 478v3M791 505v3M792 515v3M791 477v3M791 477v3M792 498v3M792 506v3M792 502v3M791 505v3M791 484v3M791 507v3M793 477v3M791 513v3M792 511v3M792 502v3M792 485v3M792 501v3M792 482v3M791 493v3M793 517v3M795 509v3M794 494v3M794 506v3M795 517v3M794 513v3M794 495v3M794 497v3M795 496v3M793 505v3M794 515v3M793 479v3M794 478v3M795 506v3M794 478v3M793 519v3M793 509v3M794 492v3M794 492v3M794 489v3M795 503v3M794 515v3M794 508v3M797 483v3M795 499v3M795 507v3M795 484v3M796 484v3M797 485v3M796 479v3M796 499v3M795 481v3M796 478v3M796 493v3M798 518v3M798 504v3M798 499v3M797 477v3M797 481v3M798 488v3M798 499v3M797 492v3M799 502v3M798 519v3M797 491v3M798 494v3M801 510v3M800 519v3M800 499v3M801 501v3M800 481v3M801 506v3M799 504v3M801 480v3M800 501v3M800 483v3M801 507v3M800 489v3M800 478v3M800 509v3M800 498v3M799 481v3M801 520v3M802 493v3M803 505v3M802 478v3M802 502v3M803 514v3M803 512v3M802 490v3M802 482v3M803 479v3M803 486v3M802 494v3M801 483v3M801 490v3M802 498v3M801 502v3M802 488v3M805 511v3M804 515v3M804 513v3M803 516v3M804 495v3M805 504v3M804 485v3M803 486v3M804 499v3M804 498v3M804 479v3M804 520v3M804 515v3M804 516v3M806 508v3M806 516v3M807 513v3M806 481v3M807 497v3M807 512v3M809 520v3M808 513v3M808 480v3M807 483v3M808 496v3M807 489v3M807 517v3M808 478v3M808 511v3M809 515v3M808 506v3M807 480v3M808 519v3M808 484v3M808 483v3M811 520v3M810 514v3M810 514v3M810 515v3M810 508v3M809 491v3M810 502v3M810 509v3M811 479v3M809 479v3M809 497v3M811 493v3M811 519v3M810 512v3M809 488v3M809 514v3M811 479v3M809 481v3M810 498v3M813 483v3M813 505v3M812 484v3M812 497v3M812 493v3M813 498v3M813 517v3M812 476v3M812 497v3M812 492v3M812 508v3M811 507v3M811 512v3M813 504v3M811 494v3M815 480v3M813 485v3M814 495v3M815 520v3M813 482v3M814 518v3M814 495v3M815 484v3M814 482v3M814 511v3M816 477v3M817 500v3M815 511v3M817 506v3M815 503v3M817 481v3M818 484v3M819 502v3M818 509v3M817 514v3M819 497v3M818 519v3M818 505v3M818 482v3M818 510v3M818 518v3M820 482v3M820 511v3M820 508v3M819 515v3M821 512v3M821 509v3M821 481v3M821 497v3M821 516v3M821 495v3M819 503v3M819 520v3M821 479v3M822 517v3M821 502v3M822 510v3M821 498v3M822 483v3M823 494v3M822 478v3M822 490v3M822 510v3M824 494v3M823 512v3M825 498v3M823 483v3M825 479v3M824 499v3M824 479v3M823 490v3M823 486v3M826 484v3M826 519v3M826 491v3M826 497v3M827 499v3M826 515v3M827 482v3M827 494v3M826 504v3M826 519v3M826 486v3M826 493v3M827 518v3M825 483v3M827 494v3M826 489v3M828 482v3M829 478v3M829 503v3M827 511v3M828 493v3M829 501v3M829 508v3M827 479v3M828 509v3M828 505v3M827 509v3M827 494v3M830 497v3M831 509v3M830 488v3M831 500v3M830 476v3M831 483v3M830 477v3M830 480v3M831 497v3M830 504v3M829 499v3M829 515v3M830 497v3M830 508v3M831 497v3M831 479v3M830 480v3M833 478v3M831 495v3M832 488v3M832 512v3M832 477v3M832 516v3M831 478v3M833 493v3M832 495v3M833 486v3M834 484v3M834 501v3M834 511v3M834 492v3M835 519v3M833 488v3M835 515v3M834 497v3M834 477v3M833 513v3M835 519v3M834 503v3M834 495v3M833 481v3M836 489v3M836 497v3M835 501v3M835 520v3M836 497v3M837 488v3M836 513v3M837 491v3M836 501v3M836 512v3M836 501v3M837 480v3M836 512v3M835 481v3M837 504v3M836 484v3M835 516v3M839 509v3M837 519v3M839 478v3M838 488v3M837 501v3M837 501v3M838 511v3M837 515v3M839 516v3M837 482v3M837 494v3M838 484v3M837 490v3M839 501v3M840 501v3M840 481v3M841 484v3M840 504v3M840 508v3M841 518v3M840 491v3M840 492v3M840 513v3M839 515v3M840 516v3M840 481v3M841 502v3M841 506v3M840 491v3M841 492v3M842 519v3M841 489v3M842 496v3M841 492v3M843 508v3M841 513v3M841 497v3M842 494v3M842 477v3M842 514v3M843 500v3M842 501v3M844 496v3M843 495v3M843 484v3M844 491v3M843 501v3M844 507v3M844 493v3M844 490v3M843 511v3M844 498v3M845 507v3M845 487v3M844 514v3M845 517v3M844 478v3M844 517v3M846 512v3M847 515v3M845 506v3M845 513v3M845 511v3M846 513v3M846 507v3M846 509v3M846 484v3M847 499v3M848 489v3M848 518v3M848 477v3M848 489v3M847 491v3M849 507v3M848 505v3M848 489v3M848 508v3M849 479v3M848 510v3M849 511v3M849 483v3M850 511v3M851 489v3M850 477v3M850 488v3M849 506v3M849 498v3M850 500v3M850 516v3M851 491v3M851 496v3M851 517v3M850 503v3M852 486v3M852 510v3M851 478v3M851 476v3M851 510v3M853 490v3M851 494v3M853 482v3M852 482v3M851 520v3M852 478v3M852 495v3M852 512v3M852 506v3M853 496v3M853 519v3M852 517v3M852 478v3M851 497v3M851 508v3M854 492v3M854 505v3M855 482v3M853 499v3M855 505v3M853 519v3M853 486v3M853 479v3M853 478v3M854 476v3M855 508v3M857 490v3M856 488v3M855 482v3M857 492v3M856 495v3M857 483v3M856 500v3M856 512v3M856 507v3M857 488v3M856 498v3M856 485v3M855 481v3M856 480v3M858 492v3M858 490v3M857 506v3M858 501v3M858 502v3M859 480v3M858 511v3M861 496v3M860 510v3M859 477v3M860 510v3M860 494v3M859 516v3M860 498v3M860 493v3M861 517v3M861 512v3M863 501v3M862 482v3M861 510v3M861 507v3M862 517v3M862 497v3M863 477v3M862 504v3M862 516v3M862 511v3M862 494v3M863 513v3M862 519v3M862 495v3M862 520v3M861 507v3M862 509v3M863 501v3M863 485v3M865 486v3M864 514v3M863 477v3M863 499v3M863 516v3M864 504v3M863 504v3M864 483v3M864 482v3M865 515v3M865 503v3" stroke="#d92c4a" stroke-width="2.8" transform="scale(.5)"/>
<path d="M55.4 158.8 57.4 158.3 59.4 157.9 61.4 157.6 63.4 157.4 65.4 157.2 67.4 157.2 69.4 157.2 71.4 157.4 73.3 157.7 75.3 158.1 77.3 158.6 79.3 159.3 81.3 160.2 83.3 161.2 85.3 162.3 87.3 163.4 89.3 164.6 91.3 165.7 93.3 166.8 95.3 167.8 97.3 168.7 99.3 169.3 101.3 169.8 103.3 170 105.3 170 107.2 169.7 109.2 169.1 111.2 168.2 113.2 167.1 115.2 165.7 117.2 164.3 119.2 162.7 121.2 161.2 123.2 159.7 125.2 158.3 127.2 157 129.2 156 131.2 155.3 133.2 154.9 135.2 154.7 137.2 154.9 139.2 155.5 141.2 156.5 143.1 157.9 145.1 159.7 147.1 161.8 149.1 164.2 151.1 166.7 153.1 169.4 155.1 172 157.1 174.7 159.1 177.2 161.1 179.6 163.1 181.8 165.1 183.8 167.1 185.5 169.1 187.1 171.1 188.5 173.1 189.6 175.1 190.6 177 191.4 179 192 181 192.4 183 192.7 185 192.7 187 192.6 189 192.3 191 191.9 193 191.2" fill="none" stroke="#4d9bf5" stroke-width="1.25"/>
<path d="M55.4 186.2 57.4 186.6 59.4 187 61.4 187.4 63.4 187.7 65.4 188 67.4 188.2 69.4 188.5 71.4 188.7 73.3 188.8 75.3 189 77.3 189.1 79.3 189.2 81.3 189.3 83.3 189.3 85.3 189.4 87.3 189.4 89.3 189.4 91.3 189.3 93.3 189.3 95.3 189.2 97.3 189.2 99.3 189.1 101.3 189 103.3 188.9 105.3 188.8 107.2 188.7 109.2 188.6 111.2 188.5 113.2 188.4 115.2 188.3 117.2 188.2 119.2 188.1 121.2 188 123.2 187.9 125.2 187.8 127.2 187.7 129.2 187.6 131.2 187.6 133.2 187.5 135.2 187.5 137.2 187.5 139.2 187.5 141.2 187.5 143.1 187.5 145.1 187.5 147.1 187.6 149.1 187.7 151.1 187.8 153.1 187.9 155.1 188 157.1 188.2 159.1 188.4 161.1 188.6 163.1 188.8 165.1 189.1 167.1 189.4 169.1 189.7 171.1 190.1 173.1 190.5 175.1 190.9 177 191.4 179 191.9 181 192.4 183 193 185 193.6 187 194.2 189 194.9 191 195.6 193 196.3" fill="none" stroke="#d92c4a" stroke-width="1.25"/>
<path d="M296.6 190.5 298.6 190.7 300.6 190.8 302.5 190.9 304.5 190.9 306.5 190.9 308.5 190.9 310.4 190.7 312.4 190.6 314.4 190.4 316.4 190.2 318.3 189.9 320.3 189.7 322.3 189.3 324.3 189 326.3 188.6 328.2 188.3 330.2 187.9 332.2 187.4 334.2 187 336.1 186.5 338.1 186.1 340.1 185.6 342.1 185.1 344 184.6 346 184.2 348 183.7 350 183.2 352 182.7 353.9 182.2 355.9 181.7 357.9 181.3 359.9 180.8 361.8 180.4 363.8 180 365.8 179.6 367.8 179.2 369.7 178.9 371.7 178.5 373.7 178.2 375.7 178 377.6 177.7 379.6 177.5 381.6 177.3 383.6 177.2 385.6 177.1 387.5 177 389.5 176.9 391.5 176.9 393.5 176.9 395.4 177 397.4 177.1 399.4 177.2 401.4 177.4 403.3 177.6 405.3 177.9 407.3 178.2 409.3 178.5 411.3 178.9 413.2 179.3 415.2 179.7 417.2 180.2 419.2 180.6 421.1 181.1 423.1 181.5 425.1 182 427.1 182.4 429 182.7 431 183.1 433 183.3" fill="none" stroke="#4d9bf5" stroke-width="1.25"/>
<path d="M296.6 184.5 298.6 184.5 300.6 184.6 302.5 184.8 304.5 185.1 306.5 185.4 308.5 185.8 310.5 186.2 312.4 186.6 314.4 187 316.4 187.3 318.4 187.5 320.4 187.7 322.4 187.8 324.3 187.8 326.3 187.6 328.3 187.3 330.3 186.9 332.3 186.3 334.2 185.5 336.2 184.6 338.2 183.6 340.2 182.5 342.2 181.3 344.1 179.9 346.1 178.5 348.1 177.1 350.1 175.6 352.1 174.1 354.1 172.6 356 171.1 358 169.7 360 168.4 362 167.1 364 166 365.9 164.9 367.9 164 369.9 163.3 371.9 162.8 373.9 162.4 375.8 162.3 377.8 162.4 379.8 162.6 381.8 163.1 383.8 163.7 385.8 164.4 387.7 165.3 389.7 166.3 391.7 167.3 393.7 168.4 395.7 169.5 397.6 170.6 399.6 171.7 401.6 172.8 403.6 173.9 405.6 174.9 407.5 175.8 409.5 176.6 411.5 177.4 413.5 178 415.5 178.6 417.5 179.2 419.4 179.6 421.4 179.9 423.4 180.2 425.4 180.3 427.4 180.3 429.3 180.3 431.3 180.1 433.3 179.9" fill="none" stroke="#d92c4a" stroke-width="1.25"/>
<text x="474.60" y="129.50" font-size="14.4" textLength="11.50" lengthAdjust="spacingAndGlyphs" font-weight="bold" fill="#000" stroke="#000">D</text>
<rect x="548.9" y="136.7" width="9.1" height="8.3" fill="#b0c4de"/>
<rect x="590.3" y="136.7" width="9.2" height="8.3" fill="#708090"/>
<text x="563.70" y="145.00" font-size="10.9" textLength="21.48" lengthAdjust="spacingAndGlyphs" fill="#1a1a1a" stroke="#1a1a1a">Pref</text>
<text x="605.80" y="145.00" font-size="10.9" textLength="47.57" lengthAdjust="spacingAndGlyphs" fill="#1a1a1a" stroke="#1a1a1a">Non-Pref</text>
<line x1="529.6" y1="163.2" x2="529.6" y2="251.6" stroke="#333" stroke-width="1"/>
<line x1="525.6" y1="163.2" x2="529.6" y2="163.2" stroke="#333" stroke-width="1"/>
<line x1="525.6" y1="207.6" x2="529.6" y2="207.6" stroke="#333" stroke-width="1"/>
<line x1="525.6" y1="251.6" x2="529.6" y2="251.6" stroke="#333" stroke-width="1"/>
<text x="505.17" y="167.90" font-size="10.7" textLength="16.03" lengthAdjust="spacingAndGlyphs" fill="#1a1a1a" stroke="#1a1a1a">0.3</text>
<text x="505.02" y="212.30" font-size="10.7" textLength="16.19" lengthAdjust="spacingAndGlyphs" fill="#1a1a1a" stroke="#1a1a1a">0.0</text>
<text x="496.31" y="256.30" font-size="10.7" textLength="24.89" lengthAdjust="spacingAndGlyphs" fill="#1a1a1a" stroke="#1a1a1a">−0.3</text>
<text x="0" y="0" font-size="10.9" textLength="60.20" lengthAdjust="spacingAndGlyphs" transform="translate(486.20 237.80) rotate(-90)" fill="#1a1a1a" stroke="#1a1a1a">Correlation</text>
<rect x="538" y="207.6" width="27" height="30.8" fill="#b0c4de"/>
<rect x="568.7" y="166.1" width="26.5" height="41.5" fill="#708090"/>
<rect x="613.5" y="161.8" width="26.5" height="45.8" fill="#b0c4de"/>
<rect x="643.6" y="207.6" width="26.4" height="44" fill="#708090"/>
<path d="M545.7 239.95V244.85M543.58 241.18L547.82 243.62M543.58 243.62L547.82 241.18M551.6 239.95V244.85M549.48 241.18L553.72 243.62M549.48 243.62L553.72 241.18M557.5 239.95V244.85M555.38 241.18L559.62 243.62M555.38 243.62L559.62 241.18" fill="none" stroke="#2a2a2a" stroke-width="0.85"/>
<circle cx="545.70" cy="242.4" r="0.75" fill="#2a2a2a"/>
<circle cx="551.60" cy="242.4" r="0.75" fill="#2a2a2a"/>
<circle cx="557.50" cy="242.4" r="0.75" fill="#2a2a2a"/>
<path d="M575.8 161.35V166.25M573.68 162.58L577.92 165.03M573.68 165.03L577.92 162.58M581.7 161.35V166.25M579.58 162.58L583.82 165.03M579.58 165.03L583.82 162.58M587.6 161.35V166.25M585.48 162.58L589.72 165.03M585.48 165.03L589.72 162.58" fill="none" stroke="#2a2a2a" stroke-width="0.85"/>
<circle cx="575.80" cy="163.8" r="0.75" fill="#2a2a2a"/>
<circle cx="581.70" cy="163.8" r="0.75" fill="#2a2a2a"/>
<circle cx="587.60" cy="163.8" r="0.75" fill="#2a2a2a"/>
<path d="M623.8 157.15V162.05M621.73 158.38L625.97 160.82M621.73 160.82L625.97 158.38M629.7 157.15V162.05M627.63 158.38L631.87 160.82M627.63 160.82L631.87 158.38" fill="none" stroke="#2a2a2a" stroke-width="0.85"/>
<circle cx="623.85" cy="159.6" r="0.75" fill="#2a2a2a"/>
<circle cx="629.75" cy="159.6" r="0.75" fill="#2a2a2a"/>
<path d="M650.9 253.65V258.55M648.78 254.88L653.02 257.33M648.78 257.33L653.02 254.88M656.8 253.65V258.55M654.68 254.88L658.92 257.33M654.68 257.33L658.92 254.88M662.7 253.65V258.55M660.58 254.88L664.82 257.33M660.58 257.33L664.82 254.88" fill="none" stroke="#2a2a2a" stroke-width="0.85"/>
<circle cx="650.90" cy="256.1" r="0.75" fill="#2a2a2a"/>
<circle cx="656.80" cy="256.1" r="0.75" fill="#2a2a2a"/>
<circle cx="662.70" cy="256.1" r="0.75" fill="#2a2a2a"/>
<text x="557.92" y="275.80" font-size="10.9" textLength="18.16" lengthAdjust="spacingAndGlyphs" fill="#1a1a1a" stroke="#1a1a1a">LeS</text>
<text x="632.29" y="275.80" font-size="10.9" textLength="18.83" lengthAdjust="spacingAndGlyphs" fill="#1a1a1a" stroke="#1a1a1a">Acc</text>
<text x="0.70" y="311.00" font-size="14.4" textLength="7.90" lengthAdjust="spacingAndGlyphs" font-weight="bold" fill="#000" stroke="#000">E</text>
<line x1="49.2" y1="338.9" x2="49.2" y2="443.4" stroke="#333" stroke-width="1"/>
<line x1="45.2" y1="338.9" x2="49.2" y2="338.9" stroke="#333" stroke-width="1"/>
<line x1="45.2" y1="391.2" x2="49.2" y2="391.2" stroke="#333" stroke-width="1"/>
<line x1="45.2" y1="443.4" x2="49.2" y2="443.4" stroke="#333" stroke-width="1"/>
<text x="21.16" y="343.60" font-size="10.7" textLength="19.64" lengthAdjust="spacingAndGlyphs" fill="#1a1a1a" stroke="#1a1a1a">200</text>
<text x="21.57" y="395.90" font-size="10.7" textLength="19.23" lengthAdjust="spacingAndGlyphs" fill="#1a1a1a" stroke="#1a1a1a">100</text>
<text x="35.21" y="448.10" font-size="10.7" textLength="5.60" lengthAdjust="spacingAndGlyphs" fill="#1a1a1a" stroke="#1a1a1a">0</text>
<text x="0" y="0" font-size="10.9" textLength="115.30" lengthAdjust="spacingAndGlyphs" transform="translate(9.90 449.20) rotate(-90)" fill="#1a1a1a" stroke="#1a1a1a">Peak Firing Rate (Hz)</text>
<path d="M68.2 338.9C68.2 341.6 68 350 67.9 355C67.8 360 67.8 364.2 67.6 368.8C67.4 373.4 67.1 378.7 66.7 382.8C66.3 386.9 65.7 390.2 65 393.4C64.3 396.6 63.4 399.2 62.4 402.1C61.4 405 59.8 408.2 58.8 410.9C57.8 413.5 57 415.6 56.6 418C56.2 420.4 56.2 422.7 56.6 425C57 427.3 57.7 429.7 58.8 432C59.9 434.3 61.8 437.2 63.2 439C64.6 440.8 66.2 442.1 67 442.8C67.8 443.5 68 443.3 68.2 443.4Z" fill="#5598ec" stroke="#2e2e2e" stroke-width="1.3"/>
<path d="M151.5 375.2C151.4 376.8 151.3 382 151.2 385C151.1 388 151.2 389.7 150.9 393.1C150.6 396.5 150.1 401.9 149.2 405.4C148.3 408.9 147.3 411.3 145.7 414.2C144.1 417.1 141.3 420.4 139.5 423C137.7 425.6 135.7 427.9 135.1 430C134.5 432.1 134.8 433.6 136 435.3C137.2 437.1 140.1 439.2 142.2 440.5C144.2 441.8 146.8 442.5 148.3 443C149.9 443.5 151 443.3 151.5 443.4Z" fill="#c72d49" stroke="#2e2e2e" stroke-width="1.3"/>
<line x1="91.1" y1="382.4" x2="91.1" y2="408.7" stroke="#3f3f3f" stroke-width="1.25"/>
<line x1="91.1" y1="429.3" x2="91.1" y2="443.1" stroke="#3f3f3f" stroke-width="1.25"/>
<line x1="82.4" y1="382.4" x2="99.8" y2="382.4" stroke="#3f3f3f" stroke-width="1.25"/>
<line x1="82.4" y1="443.1" x2="99.8" y2="443.1" stroke="#3f3f3f" stroke-width="1.25"/>
<rect x="74.4" y="408.7" width="33.2" height="20.6" fill="none" stroke="#3f3f3f" stroke-width="1.25"/>
<line x1="74.4" y1="417.5" x2="107.6" y2="417.5" stroke="#3f3f3f" stroke-width="1.25"/>
<path d="M96.3 419h0M96.3 400.6h0M91.4 423h0M87.5 411.6h0M83.5 408.8h0M89.1 394h0M89.5 409.9h0M83.4 423.9h0M83.4 407.6h0M99.6 421.3h0M93.7 428.8h0M86.6 414.2h0M90 436.3h0M99.2 424.8h0M97.9 433.7h0M97 406.4h0M89.3 427.6h0M91 409.3h0M94.1 412h0M83.6 421.9h0M92 414.8h0M87.2 402.9h0M97.6 426.8h0M83.7 435.3h0M94.1 412.2h0M97.4 397.6h0M86.5 410.7h0M97.8 405.4h0M97.4 410.9h0M82.9 435.5h0M94.6 422.4h0M82.6 424.5h0M91.2 414.9h0M90 411.2h0M86.1 412.7h0M88.1 403.1h0M96.3 421.6h0M88 400h0M85.1 434.2h0M94.5 413.2h0M90.2 430h0M96.2 432h0M86.6 399.2h0M88 423h0M96.2 416.3h0M91.2 384.2h0M91.2 425.9h0M86.6 393.8h0M82.8 427.6h0M98.5 419.7h0M84.1 427.5h0M97 415.4h0M88.9 422.1h0M98.8 425h0M89.4 421.8h0M98.5 398.6h0M92.1 382.2h0M86.7 424.8h0M95.2 398.8h0M94.1 428.3h0M94.2 411.2h0M90.5 422.7h0M86.4 417h0M93.5 419.2h0M84.4 424.3h0M94.4 437.5h0M93.4 408.1h0M89 411.4h0M96.2 398.8h0M85.9 404.3h0M89.2 427.2h0M96.2 425.1h0M89.1 425.7h0M94.7 416.2h0M93 436.4h0M98.6 416.5h0M99.5 411.5h0M94.9 427.4h0M96.4 408.7h0M85.2 381.7h0M97.8 339.1h0M92.1 364.7h0M93.9 374h0M88.5 391h0M97.8 391h0" stroke="#4d9bf5" stroke-width="2.1" stroke-linecap="round"/>
<line x1="174.3" y1="399.6" x2="174.3" y2="419.1" stroke="#3f3f3f" stroke-width="1.25"/>
<line x1="174.3" y1="433.5" x2="174.3" y2="443.2" stroke="#3f3f3f" stroke-width="1.25"/>
<line x1="165.5" y1="399.6" x2="183.1" y2="399.6" stroke="#3f3f3f" stroke-width="1.25"/>
<line x1="165.5" y1="443.2" x2="183.1" y2="443.2" stroke="#3f3f3f" stroke-width="1.25"/>
<rect x="157.4" y="419.1" width="33.9" height="14.4" fill="none" stroke="#3f3f3f" stroke-width="1.25"/>
<line x1="157.4" y1="427" x2="191.3" y2="427" stroke="#3f3f3f" stroke-width="1.25"/>
<path d="M174.9 421.6h0M171.6 419.5h0M172.1 423.7h0M172.2 437h0M182.6 411.7h0M176.6 424.5h0M177.3 418.8h0M171.4 422.5h0M177.4 424.8h0M167.9 427.4h0M166.7 421.6h0M180.3 419.3h0M166 415.2h0M182.4 432.2h0M179.9 430.9h0M179.1 430.9h0M166.6 433h0M169.3 425.3h0M180.2 425.7h0M173.2 400.9h0M176.5 420.5h0M167.9 436.7h0M169 413.7h0M174.3 423h0M178.7 425h0M175 422.2h0M167.6 418.6h0M180.5 416.5h0M168.2 434.6h0M173.3 402.7h0M175.8 430.5h0M171.2 430h0M172.9 424.9h0M180.9 423.8h0M173.5 431.9h0M175 437.1h0M182.3 416.1h0M170.5 426h0M181 428.3h0M172 424.2h0M171.1 429.7h0M180.8 419.4h0M166.9 436.9h0M180.5 427.8h0M179.9 413.9h0M181 429.6h0M166.8 414.5h0M169.9 413h0M179 417.2h0M173.2 416.4h0M165.9 439.5h0M177.6 418.9h0M179.4 421.8h0M182.4 405.2h0M168.4 420.2h0M170.1 435.3h0M180.1 422h0M167.4 419h0M170.5 438.8h0M173.5 423h0M172.9 424.1h0M175 420.6h0M180.6 411.1h0M176.5 422.6h0M176.9 434.4h0M175.9 405.5h0M169.4 428.5h0M173.4 430.2h0M182.6 431.7h0M181.3 437.4h0M178.8 430.4h0M174.9 427.9h0M180.6 424.2h0M176.5 421.5h0M172.6 435.8h0M174.7 428.7h0M169.2 438.4h0M175.5 420.7h0M171.1 403.7h0M179.1 424h0M179.9 432.4h0M182.7 426.1h0M180 415.8h0M166.8 432.3h0M180.8 375.2h0M169.7 391h0M181.3 391h0" stroke="#dc2a48" stroke-width="2.1" stroke-linecap="round"/>
<path d="M90.7 330.3V327.9H174.6V330.3" fill="none" stroke="#444" stroke-width="1.1"/>
<path d="M126.6 315.95V320.85M124.48 317.17L128.72 319.62M124.48 319.62L128.72 317.17M132.5 315.95V320.85M130.38 317.17L134.62 319.62M130.38 319.62L134.62 317.17M138.4 315.95V320.85M136.28 317.17L140.52 319.62M136.28 319.62L140.52 317.17" fill="none" stroke="#2a2a2a" stroke-width="0.85"/>
<circle cx="126.60" cy="318.4" r="0.75" fill="#2a2a2a"/>
<circle cx="132.50" cy="318.4" r="0.75" fill="#2a2a2a"/>
<circle cx="138.40" cy="318.4" r="0.75" fill="#2a2a2a"/>
<text x="242.70" y="310.90" font-size="14.4" textLength="8.70" lengthAdjust="spacingAndGlyphs" font-weight="bold" fill="#000" stroke="#000">F</text>
<line x1="289.4" y1="342.4" x2="289.4" y2="443.4" stroke="#333" stroke-width="1"/>
<line x1="285.4" y1="342.4" x2="289.4" y2="342.4" stroke="#333" stroke-width="1"/>
<line x1="285.4" y1="443.4" x2="289.4" y2="443.4" stroke="#333" stroke-width="1"/>
<text x="257.79" y="347.10" font-size="10.7" textLength="23.01" lengthAdjust="spacingAndGlyphs" fill="#1a1a1a" stroke="#1a1a1a">0.65</text>
<text x="257.79" y="448.10" font-size="10.7" textLength="23.01" lengthAdjust="spacingAndGlyphs" fill="#1a1a1a" stroke="#1a1a1a">0.35</text>
<text x="0" y="0" font-size="10.9" textLength="115.91" lengthAdjust="spacingAndGlyphs" transform="translate(251.90 449.80) rotate(-90)" fill="#1a1a1a" stroke="#1a1a1a">Population firing rate</text>
<line x1="296.1" y1="449.3" x2="433.4" y2="449.3" stroke="#333" stroke-width="1"/>
<line x1="296.1" y1="449.3" x2="296.1" y2="453.3" stroke="#333" stroke-width="1"/>
<line x1="365.1" y1="449.3" x2="365.1" y2="453.3" stroke="#333" stroke-width="1"/>
<line x1="433.4" y1="449.3" x2="433.4" y2="453.3" stroke="#333" stroke-width="1"/>
<text x="284.15" y="465.60" font-size="10.7" textLength="23.92" lengthAdjust="spacingAndGlyphs" fill="#1a1a1a" stroke="#1a1a1a">-500</text>
<text x="359.04" y="465.60" font-size="10.7" textLength="12.12" lengthAdjust="spacingAndGlyphs" fill="#1a1a1a" stroke="#1a1a1a">FB</text>
<text x="423.60" y="465.60" font-size="10.7" textLength="19.60" lengthAdjust="spacingAndGlyphs" fill="#1a1a1a" stroke="#1a1a1a">500</text>
<text x="336.70" y="479.20" font-size="10.9" textLength="55.00" lengthAdjust="spacingAndGlyphs" fill="#1a1a1a" stroke="#1a1a1a">Time (ms)</text>
<path d="M296.1 417.4 298.4 418.4 300.8 418.9 303.1 419 305.4 418.7 307.7 418 310.1 417.1 312.4 415.8 314.7 414.2 317 412.3 319.4 410.2 321.7 407.9 324 405.4 326.4 402.7 328.7 399.8 331 396.8 333.3 393.7 335.7 390.5 338 387.2 340.3 383.9 342.6 380.5 345 377.1 347.3 373.8 349.6 370.5 352 367.3 354.3 364.1 356.6 361.1 358.9 358.2 361.3 355.4 363.6 352.9 365.9 350.5 368.2 348.3 370.6 346.4 372.9 344.7 375.2 343.3 377.5 342.1 379.9 341.2 382.2 340.6 384.5 340.2 386.9 340.1 389.2 340.2 391.5 340.7 393.8 341.5 396.2 342.6 398.5 344 400.8 345.8 403.1 348 405.5 350.6 407.8 353.4 410.1 356.5 412.5 359.8 414.8 363.2 417.1 366.6 419.4 369.9 421.8 373.1 424.1 376.1 426.4 378.8 428.7 381.1 431.1 383 433.4 384.3L433.4 405.1 431.1 403.6 428.7 401.5 426.4 399 424.1 396.1 421.8 392.9 419.4 389.5 417.1 386 414.8 382.4 412.5 378.8 410.1 375.3 407.8 372 405.5 368.9 403.1 366.2 400.8 363.8 398.5 361.8 396.2 360.1 393.8 358.8 391.5 357.8 389.2 357.2 386.9 356.8 384.5 356.8 382.2 357.2 379.9 357.9 377.5 358.9 375.2 360.1 372.9 361.6 370.6 363.3 368.2 365.3 365.9 367.5 363.6 369.9 361.3 372.6 358.9 375.4 356.6 378.3 354.3 381.4 352 384.6 349.6 387.9 347.3 391.3 345 394.6 342.6 398.1 340.3 401.5 338 404.8 335.7 408.2 333.3 411.4 331 414.6 328.7 417.7 326.4 420.6 324 423.3 321.7 425.9 319.4 428.3 317 430.5 314.7 432.4 312.4 434 310.1 435.3 307.7 436.4 305.4 437.1 303.1 437.4 300.8 437.4 298.4 436.9 296.1 436Z" fill="#4d8ee8" fill-opacity="0.42"/>
<path d="M296.1 425.1 298.4 425.9 300.8 426.5 303.1 426.9 305.4 427.1 307.7 427.1 310.1 426.9 312.4 426.4 314.7 425.8 317 425 319.4 424 321.7 422.7 324 421.3 326.4 419.6 328.7 417.8 331 415.8 333.3 413.5 335.7 411.1 338 408.5 340.3 405.8 342.6 402.9 345 399.8 347.3 396.7 349.6 393.5 352 390.2 354.3 386.9 356.6 383.6 358.9 380.3 361.3 377.1 363.6 374 365.9 371 368.2 368.3 370.6 365.9 372.9 363.8 375.2 362.1 377.5 360.9 379.9 360.1 382.2 360 384.5 360.4 386.9 361.3 389.2 362.7 391.5 364.4 393.8 366.4 396.2 368.8 398.5 371.4 400.8 374.2 403.1 377.2 405.5 380.3 407.8 383.4 410.1 386.6 412.5 389.8 414.8 392.8 417.1 395.8 419.4 398.6 421.8 401.2 424.1 403.6 426.4 405.6 428.7 407.4 431.1 408.7 433.4 409.6L433.4 429.6 431.1 428.7 428.7 427.5 426.4 425.8 424.1 423.8 421.8 421.5 419.4 418.9 417.1 416.2 414.8 413.3 412.5 410.2 410.1 407.1 407.8 404 405.5 400.9 403.1 397.9 400.8 394.9 398.5 392.2 396.2 389.6 393.8 387.3 391.5 385.3 389.2 383.7 386.9 382.4 384.5 381.5 382.2 381.2 379.9 381.3 377.5 381.9 375.2 383.1 372.9 384.6 370.6 386.6 368.2 388.9 365.9 391.5 363.6 394.3 361.3 397.3 358.9 400.4 356.6 403.5 354.3 406.7 352 409.9 349.6 413 347.3 416.1 345 419.1 342.6 422 340.3 424.8 338 427.4 335.7 429.9 333.3 432.2 331 434.3 328.7 436.2 326.4 437.9 324 439.4 321.7 440.7 319.4 441.8 317 442.7 314.7 443.4 312.4 443.9 310.1 444.2 307.7 444.3 305.4 444.2 303.1 443.9 300.8 443.4 298.4 442.6 296.1 441.7Z" fill="#d9515f" fill-opacity="0.38"/>
<path d="M296.1 426.7 298.4 427.6 300.8 428.1 303.1 428.2 305.4 427.9 307.7 427.2 310.1 426.2 312.4 424.9 314.7 423.3 317 421.4 319.4 419.3 321.7 416.9 324 414.4 326.4 411.6 328.7 408.7 331 405.7 333.3 402.6 335.7 399.3 338 396 340.3 392.7 342.6 389.3 345 385.9 347.3 382.5 349.6 379.2 352 376 354.3 372.8 356.6 369.7 358.9 366.8 361.3 364 363.6 361.4 365.9 359 368.2 356.8 370.6 354.9 372.9 353.1 375.2 351.7 377.5 350.5 379.9 349.5 382.2 348.9 384.5 348.5 386.9 348.5 389.2 348.7 391.5 349.3 393.8 350.1 396.2 351.4 398.5 352.9 400.8 354.8 403.1 357.1 405.5 359.8 407.8 362.7 410.1 365.9 412.5 369.3 414.8 372.8 417.1 376.3 419.4 379.7 421.8 383 424.1 386.1 426.4 388.9 428.7 391.3 431.1 393.3 433.4 394.7" fill="none" stroke="#4d9bf5" stroke-width="1.6"/>
<path d="M296.1 433.4 298.4 434.3 300.8 434.9 303.1 435.4 305.4 435.7 307.7 435.7 310.1 435.6 312.4 435.2 314.7 434.6 317 433.9 319.4 432.9 321.7 431.7 324 430.3 326.4 428.8 328.7 427 331 425 333.3 422.9 335.7 420.5 338 418 340.3 415.3 342.6 412.4 345 409.5 347.3 406.4 349.6 403.3 352 400.1 354.3 396.8 356.6 393.6 358.9 390.3 361.3 387.2 363.6 384.1 365.9 381.2 368.2 378.6 370.6 376.2 372.9 374.2 375.2 372.6 377.5 371.4 379.9 370.7 382.2 370.6 384.5 371 386.9 371.9 389.2 373.2 391.5 374.9 393.8 376.9 396.2 379.2 398.5 381.8 400.8 384.6 403.1 387.5 405.5 390.6 407.8 393.7 410.1 396.9 412.5 400 414.8 403 417.1 406 419.4 408.8 421.8 411.4 424.1 413.7 426.4 415.7 428.7 417.4 431.1 418.7 433.4 419.6" fill="none" stroke="#d92c4a" stroke-width="1.6"/>
<line x1="307.5" y1="352.4" x2="315.8" y2="352.4" stroke="#4d9bf5" stroke-width="1.6"/>
<line x1="307.5" y1="369" x2="315.8" y2="369" stroke="#d92c4a" stroke-width="1.6"/>
<text x="320.20" y="356.70" font-size="10.9" textLength="9.97" lengthAdjust="spacingAndGlyphs" fill="#1a1a1a" stroke="#1a1a1a">Pr</text>
<text x="320.20" y="373.10" font-size="10.9" textLength="13.94" lengthAdjust="spacingAndGlyphs" fill="#1a1a1a" stroke="#1a1a1a">Ab</text>
<text x="475.10" y="311.00" font-size="14.4" textLength="11.90" lengthAdjust="spacingAndGlyphs" font-weight="bold" fill="#000" stroke="#000">G</text>
<text x="539.80" y="322.90" font-size="11.3" textLength="128.51" lengthAdjust="spacingAndGlyphs" fill="#1a1a1a" stroke="#1a1a1a">Linear latent dynamics</text>
<line x1="529.4" y1="338.9" x2="529.4" y2="443" stroke="#333" stroke-width="1"/>
<line x1="525.4" y1="338.9" x2="529.4" y2="338.9" stroke="#333" stroke-width="1"/>
<line x1="525.4" y1="443" x2="529.4" y2="443" stroke="#333" stroke-width="1"/>
<text x="497.56" y="343.60" font-size="10.7" textLength="23.25" lengthAdjust="spacingAndGlyphs" fill="#1a1a1a" stroke="#1a1a1a">0.10</text>
<text x="488.93" y="447.70" font-size="10.7" textLength="31.87" lengthAdjust="spacingAndGlyphs" fill="#1a1a1a" stroke="#1a1a1a">−0.25</text>
<line x1="536.3" y1="449.5" x2="672.2" y2="449.5" stroke="#333" stroke-width="1"/>
<line x1="536.3" y1="449.5" x2="536.3" y2="453.5" stroke="#333" stroke-width="1"/>
<line x1="672.2" y1="449.5" x2="672.2" y2="453.5" stroke="#333" stroke-width="1"/>
<text x="520.37" y="465.00" font-size="10.7" textLength="31.87" lengthAdjust="spacingAndGlyphs" fill="#1a1a1a" stroke="#1a1a1a">−0.25</text>
<text x="660.58" y="465.00" font-size="10.7" textLength="23.25" lengthAdjust="spacingAndGlyphs" fill="#1a1a1a" stroke="#1a1a1a">0.10</text>
<text x="569.90" y="480.30" font-size="10.9" textLength="68.20" lengthAdjust="spacingAndGlyphs" fill="#1a1a1a" stroke="#1a1a1a">Dimension 1</text>
<text x="0" y="0" font-size="10.9" textLength="68.80" lengthAdjust="spacingAndGlyphs" transform="translate(485.80 425.60) rotate(-90)" fill="#1a1a1a" stroke="#1a1a1a">Dimension 2</text>
<clipPath id="gclip5680ee"><rect x="530.2" y="333.6" width="149.4" height="114.2"/></clipPath>
<g clip-path="url(#gclip5680ee)">
<path d="M536.3 338.9L548 330.4M536.3 353.8L544 345.3M536.3 368.6L540.4 360.1M536.3 383.5L537.2 374.7M536.3 398.4L534 388.9M536.3 413.2L530.4 402.8M536.3 428.1L526.5 416.6M536.3 443L522.4 430.5M555.7 338.9L567.1 334.5M555.7 353.8L562.9 349.3M555.7 368.6L559.2 364.5M555.7 383.5L556.4 379.6M555.7 398.4L554 393.6M555.7 413.2L550.6 407.2M555.7 428.1L546.6 420.9M555.7 443L542.4 434.8M575.1 338.9L586.4 338.2M575.1 353.8L582 352.8M575.1 368.6L577.6 367.7M575.1 383.5L574.8 384M575.1 398.4L574.7 397.9M575.1 413.2L571 411M575.1 428.1L566.7 424.8M575.1 443L562.3 438.9M594.5 338.9L606.1 341.9M594.5 353.8L601.7 356M594.5 368.6L597.3 369.8M594.5 383.5L593.8 382.7M594.5 398.4L595.1 398.1M594.5 413.2L591.1 413.6M594.5 428.1L586.6 428.3M594.5 443L582.1 442.7M613.9 338.9L626.1 345.8M613.9 353.8L621.8 359.7M613.9 368.6L617.9 373.3M613.9 383.5L614.8 386.8M613.9 398.4L612.8 401.2M613.9 413.2L609.8 416.6M613.9 428.1L605.8 431.7M613.9 443L601.5 446.4M633.3 338.9L646.1 350.1M633.3 353.8L642 363.9M633.3 368.6L638.1 377.7M633.3 383.5L634.8 391.6M633.3 398.4L631.7 405.9M633.3 413.2L628.5 420.7M633.3 428.1L624.8 435.6M633.3 443L620.7 450.4M652.8 338.9L666 354.6M652.8 353.8L662 368.5M652.8 368.6L658.1 382.4M652.8 383.5L654.5 396.4M652.8 398.4L651 410.7M652.8 413.2L647.5 425.2M652.8 428.1L643.8 439.9M652.8 443L639.8 454.7M672.2 338.9L685.9 359.2M672.2 353.8L681.9 373.2M672.2 368.6L677.9 387.2M672.2 383.5L674.1 401.3M672.2 398.4L670.4 415.5M672.2 413.2L666.7 430M672.2 428.1L662.9 444.5M672.2 443L658.9 459.1" fill="none" stroke="#5680ee" stroke-width="0.85"/>
<path d="M551.1 328.2L548.8 331.5L547.2 329.3ZM546.6 342.5L545 346.2L543 344.4ZM542.1 356.7L541.6 360.7L539.2 359.5ZM537.6 371L538.5 374.9L535.9 374.6ZM533.1 385.2L535.3 388.6L532.7 389.2ZM528.6 399.5L531.6 402.1L529.3 403.4ZM524.1 413.7L527.6 415.7L525.5 417.5ZM519.6 428L523.3 429.5L521.5 431.5ZM570.7 333.1L567.6 335.7L566.6 333.2ZM566.2 347.3L563.6 350.5L562.2 348.2ZM561.7 361.6L560.2 365.4L558.2 363.6ZM557.1 375.8L557.8 379.8L555.1 379.3ZM552.6 390.1L555.2 393.2L552.7 394.1ZM548.1 404.3L551.6 406.4L549.6 408.1ZM543.6 418.6L547.5 419.9L545.8 422ZM539.1 432.8L543.1 433.7L541.7 436ZM590.2 338L586.5 339.5L586.3 336.9ZM585.7 352.2L582.2 354.1L581.8 351.4ZM581.2 366.5L578.1 369L577.2 366.5ZM576.7 380.7L576 384.7L573.7 383.3ZM572.2 395L575.7 397L573.6 398.7ZM567.7 409.2L571.7 409.8L570.4 412.2ZM563.2 423.5L567.2 423.6L566.3 426.1ZM558.7 437.7L562.7 437.6L561.9 440.2ZM609.8 342.8L605.8 343.2L606.4 340.6ZM605.3 357.1L601.3 357.3L602.1 354.7ZM600.8 371.3L596.8 371.1L597.8 368.6ZM596.3 385.6L592.8 383.6L594.9 381.8ZM591.8 399.8L594.5 396.9L595.8 399.3ZM587.3 414.1L590.9 412.3L591.2 415ZM582.8 428.3L586.5 426.9L586.6 429.6ZM578.3 442.6L582.1 441.3L582 444ZM629.4 347.7L625.4 347L626.7 344.7ZM624.9 362L621 360.8L622.6 358.6ZM620.4 376.2L616.9 374.2L618.9 372.4ZM615.8 390.5L613.5 387.2L616.1 386.4ZM611.3 404.7L611.5 400.7L614 401.7ZM606.8 419L609 415.5L610.7 417.6ZM602.3 433.2L605.3 430.4L606.4 432.9ZM597.8 447.5L601.1 445.1L601.9 447.7ZM648.9 352.6L645.2 351.1L647 349.1ZM644.4 366.8L640.9 364.8L643 363.1ZM639.9 381.1L637 378.4L639.3 377.1ZM635.4 395.3L633.4 391.8L636.1 391.4ZM630.9 409.6L630.4 405.6L633 406.2ZM626.4 423.8L627.4 419.9L629.6 421.4ZM621.9 438.1L623.9 434.6L625.7 436.6ZM617.4 452.3L620 449.2L621.4 451.6ZM668.5 357.5L665 355.4L667.1 353.7ZM664 371.7L660.8 369.2L663.1 367.8ZM659.5 386L656.9 382.9L659.4 381.9ZM655 400.2L653.1 396.6L655.8 396.3ZM650.5 414.5L649.7 410.5L652.4 410.9ZM646 428.7L646.3 424.7L648.7 425.8ZM641.5 443L642.7 439.1L644.9 440.7ZM637 457.2L638.9 453.7L640.7 455.7ZM688.1 362.3L684.8 359.9L687 358.4ZM683.6 376.6L680.7 373.8L683.1 372.6ZM679.1 390.8L676.6 387.6L679.2 386.8ZM674.6 405.1L672.8 401.5L675.5 401.2ZM670 419.3L669.1 415.4L671.8 415.7ZM665.5 433.6L665.4 429.5L668 430.4ZM661 447.8L661.7 443.9L664.1 445.2ZM656.5 462.1L657.9 458.3L660 460Z" fill="#5680ee"/>
</g>
<clipPath id="gclipc23a45"><rect x="530.2" y="333.6" width="149.4" height="114.2"/></clipPath>
<g clip-path="url(#gclipc23a45)">
<path d="M536.3 338.9L549 324.8M536.3 353.8L545.2 339.5M536.3 368.6L541.7 354.2M536.3 383.5L538.2 368.7M536.3 398.4L534.8 383M536.3 413.2L531.3 397.1M536.3 428.1L527.7 411.2M536.3 443L523.9 425.2M555.7 338.9L567.8 328.3M555.7 353.8L564.1 343.1M555.7 368.6L560.6 357.9M555.7 383.5L557.3 372.5M555.7 398.4L554.1 386.8M555.7 413.2L550.8 400.8M555.7 428.1L547.2 414.8M555.7 443L543.3 428.8M575.1 338.9L586.6 331.6M575.1 353.8L582.8 346.5M575.1 368.6L579.4 361.5M575.1 383.5L576.4 376.2M575.1 398.4L573.5 390.5M575.1 413.2L570.3 404.4M575.1 428.1L566.7 418.3M575.1 443L562.9 432.2M594.5 338.9L605.4 334.7M594.5 353.8L601.5 349.6M594.5 368.6L597.9 364.8M594.5 383.5L595.4 380M594.5 398.4L593.1 394.2M594.5 413.2L590.1 407.8M594.5 428.1L586.4 421.6M594.5 443L582.4 435.5M613.9 338.9L624.4 337.6M613.9 353.8L620.2 352.3M613.9 368.6L616.2 367.5M613.9 383.5L613.9 383.6M613.9 398.4L613.3 397.5M613.9 413.2L610 410.7M613.9 428.1L606.1 424.6M613.9 443L601.9 438.6M633.3 338.9L643.6 340.4M633.3 353.8L639.3 354.7M633.3 368.6L635.1 368.9M633.3 383.5L630.9 382.8M633.3 398.4L634.1 398.4M633.3 413.2L629.8 412.9M633.3 428.1L625.5 427.2M633.3 443L621.3 441.5M652.8 338.9L663 343.3M652.8 353.8L658.9 357.2M652.8 368.6L655.1 370.8M652.8 383.5L652.9 384M652.8 398.4L652 399.2M652.8 413.2L648.7 414.9M652.8 428.1L644.6 429.8M652.8 443L640.4 444.4M672.2 338.9L682.6 346.3M672.2 353.8L678.7 360.2M672.2 368.6L675.2 373.9M672.2 383.5L672.5 387.7M672.2 398.4L670.3 402.3M672.2 413.2L667.2 417.6M672.2 428.1L663.5 432.6M672.2 443L659.4 447.4" fill="none" stroke="#c23a45" stroke-width="0.85"/>
<path d="M551.5 322L550 325.7L548 323.9ZM547.3 336.3L546.4 340.2L544.1 338.8ZM543 350.6L542.9 354.6L540.4 353.7ZM538.7 364.9L539.6 368.9L536.9 368.5ZM534.5 379.2L536.2 382.9L533.5 383.1ZM530.2 393.5L532.6 396.8L530 397.5ZM525.9 407.8L528.9 410.6L526.5 411.8ZM521.7 422.1L525 424.5L522.8 426ZM570.7 325.8L568.7 329.3L566.9 327.3ZM566.4 340.1L565.1 343.9L563 342.3ZM562.2 354.4L561.8 358.4L559.4 357.3ZM557.9 368.7L558.7 372.7L556 372.3ZM553.6 383L555.5 386.6L552.8 387ZM549.4 397.3L552 400.3L549.5 401.3ZM545.1 411.6L548.3 414.1L546 415.5ZM540.8 425.9L544.4 427.9L542.3 429.7ZM589.8 329.6L587.3 332.8L585.9 330.5ZM585.6 343.9L583.7 347.5L581.9 345.5ZM581.3 358.2L580.5 362.2L578.2 360.8ZM577.1 372.5L577.7 376.5L575.1 376ZM572.8 386.8L574.9 390.3L572.2 390.8ZM568.5 401.1L571.5 403.8L569.2 405.1ZM564.3 415.4L567.8 417.4L565.7 419.2ZM560 429.7L563.8 431.2L562 433.2ZM609 333.4L605.9 336L605 333.5ZM604.7 347.7L602.2 350.8L600.8 348.5ZM600.5 362L599 365.7L596.9 363.9ZM596.2 376.3L596.7 380.3L594 379.7ZM592 390.6L594.4 393.8L591.9 394.6ZM587.7 404.9L591.1 407L589.1 408.7ZM583.4 419.2L587.2 420.5L585.5 422.6ZM579.2 433.5L583.1 434.4L581.7 436.6ZM628.2 337.2L624.6 339L624.2 336.3ZM623.9 351.5L620.5 353.6L619.9 351ZM619.6 365.8L616.8 368.7L615.6 366.3ZM615.4 380.1L615.2 384.1L612.7 383.1ZM611.1 394.4L614.4 396.7L612.2 398.3ZM606.9 408.7L610.8 409.6L609.3 411.9ZM602.6 423L606.6 423.3L605.5 425.8ZM598.3 437.3L602.4 437.3L601.4 439.9ZM647.3 341L643.4 341.7L643.8 339.1ZM643.1 355.3L639.1 356L639.5 353.4ZM638.8 369.6L634.8 370.3L635.3 367.6ZM634.5 383.9L630.5 384L631.3 381.5ZM630.3 398.2L634.2 397.1L634 399.8ZM626 412.5L629.9 411.5L629.7 414.2ZM621.8 426.8L625.7 425.9L625.4 428.6ZM617.5 441.1L621.4 440.2L621.1 442.9ZM666.5 344.8L662.5 344.5L663.5 342ZM662.2 359.1L658.2 358.4L659.6 356ZM658 373.4L654.2 371.8L656.1 369.8ZM653.7 387.7L651.5 384.3L654.2 383.7ZM649.4 402L651 398.3L653 400.1ZM645.2 416.3L648.2 413.6L649.2 416.1ZM640.9 430.6L644.4 428.5L644.9 431.1ZM636.7 444.9L640.3 443.1L640.6 445.8ZM685.6 348.5L681.8 347.4L683.3 345.2ZM681.4 362.9L677.7 361.1L679.6 359.2ZM677.1 377.2L674 374.6L676.4 373.2ZM672.9 391.5L671.2 387.8L673.9 387.6ZM668.6 405.8L669 401.8L671.5 402.9ZM664.3 420.1L666.3 416.6L668.1 418.6ZM660.1 434.4L662.8 431.4L664.1 433.8ZM655.8 448.7L659 446.2L659.8 448.7Z" fill="#c23a45"/>
</g>
<path d="M634.3 371.3 636.2 375.1 637.5 379.1 638.3 383 638.7 387.1 638.5 391 637.8 395 636.6 398.8 635 402.5 632.9 406.1 630.4 409.4 627.5 412.5 624.3 415.3 620.7 417.9 616.8 420.2 612.7 422.1 608.4 423.7 603.9 424.9 599.4 425.7 594.7 426.2 590.1 426.4 585.5 426.1 581 425.5 576.6 424.6 572.3 423.3 568.3 421.7 564.5 419.8 561 417.7 557.8 415.2 555 412.6 552.5 409.7 550.3 406.7 548.6 403.6 547.3 400.3 546.5 397 546 393.7 546 390.3 546.4 387 547.2 383.8 548.4 380.6 550 377.6 551.9 374.7 554.2 372.1 556.8 369.6 559.7 367.3 562.9 365.4 566.2 363.6 569.7 362.2 573.4 361 577.2 360.2 581.1 359.6 584.9 359.4 588.8 359.5 592.6 359.9 596.3 360.5 599.9 361.5 603.4 362.7 606.6 364.2 609.7 365.9 612.5 367.9 615 370 617.2 372.3 619.1 374.8 620.7 377.4 621.9 380 622.8 382.8 623.3 385.6 623.5 388.4 623.3 391.2 622.8 393.9 621.9 396.6 620.7 399.1 619.2 401.6 617.4 403.9 615.3 406 613 408 610.4 409.8 607.7 411.3 604.8 412.6 601.8 413.7 598.7 414.5 595.5 415 592.2 415.3 589 415.4 585.8 415.2 582.6 414.7 579.6 414 576.6 413.1 573.8 411.9 571.2 410.6 568.8 409 566.6 407.3 564.6 405.4 562.9 403.4 561.5 401.3 560.4 399.1 559.5 396.8 558.9 394.5 558.7 392.1 558.7 389.8 559 387.5 559.6 385.2 560.5 383.1 561.7 381 563.1 379 564.7 377.1 566.6 375.4 568.6 373.9 570.9 372.5 573.2 371.4 575.7 370.4 578.3 369.6 581 369.1 583.7 368.7 586.4 368.6 589.1 368.7 591.7 369 594.3 369.5 596.8 370.2 599.2 371.1 601.5 372.1 603.5 373.4 605.5 374.7 607.2 376.3 608.7 377.9 610 379.6 611 381.4 611.9 383.3 612.4 385.3 612.8 387.2 612.8 389.2 612.7 391.1 612.3 393 611.6 394.9 610.7 396.7 609.6 398.4 608.4 399.9 606.9 401.4 605.2 402.8 603.4 404 601.5 405 599.5 405.9 597.3 406.6 595.1 407.2 592.9 407.5 590.6 407.7 588.4 407.7 586.1 407.5 583.9 407.2 581.8 406.7 579.8 406 577.8 405.2 576 404.2 574.4 403.1 572.9 401.9 571.5 400.5 570.4 399.1 569.4 397.6 568.6 396.1 568.1 394.5 567.7 392.8 567.5 391.2 567.6 389.6 567.9 388 568.3 386.4 569 384.9 569.8 383.4 570.8 382 572 380.8 573.3 379.6 574.8 378.5 576.3 377.6 578 376.8 579.8 376.2 581.6 375.6 583.4 375.3 585.3 375.1 587.2 375 589.1 375.1 591 375.3 592.8 375.7 594.5 376.2 596.2 376.8 597.7 377.6 599.2 378.5 600.5 379.5 601.6 380.5 602.7 381.7 603.6 382.9 604.3 384.2 604.8 385.5 605.2 386.9 605.4 388.2 605.4 389.6 605.3 391 604.9 392.3 604.5 393.6 603.8 394.8 603 396 602.1 397.1 601.1 398.1 599.9 399 598.6 399.9 597.3 400.6 595.8 401.2 594.3 401.7 592.8 402 591.2 402.2 589.6 402.3 588 402.3 586.5 402.2 585 401.9 583.5 401.5 582.1 401.1 580.7 400.5 579.5 399.8 578.3 399 577.3 398.1 576.4 397.2 575.6 396.2 574.9 395.1 574.4 394 574.1 392.9 573.8 391.8 573.8 390.6 573.8 389.5 574 388.4 574.4 387.3 574.8 386.2 575.5 385.2 576.2 384.3 577 383.4 578 382.6 579 381.8 580.1 381.2 581.3 380.7 582.5 380.2 583.8 379.9 585.1 379.6 586.4 379.5 587.7 379.5 589 379.6 590.3 379.7 591.6 380 592.8 380.4 593.9 380.9 595 381.4 596 382 596.9 382.7 597.7 383.5 598.4 384.3 599 385.2 599.5 386.1 599.9 387 600.1 388 600.2 388.9 600.2 389.9 600.1 390.8 599.8 391.7 599.5 392.6 599 393.5 598.5 394.3 597.8 395.1 597 395.8 596.2 396.4 595.3 397 594.4 397.4 593.3 397.8 592.3 398.2 591.2 398.4 590.1 398.5 589 398.6 587.9 398.6 586.8 398.5 585.7 398.3 584.7 398 583.7 397.6 582.8 397.2" fill="none" stroke="#4d9bf5" stroke-width="2.7" stroke-linejoin="round"/>
<ellipse cx="588.2" cy="390.6" rx="11.0" ry="9.0" fill="#539ef6"/>
<ellipse cx="588.2" cy="390.8" rx="9.0" ry="7.45" fill="none" stroke="#eaf3ff" stroke-width="0.75"/>
<path d="M632 370.3 634.5 370.5 637.1 370.9 639.5 371.5 641.8 372.3 643.9 373.2 645.9 374.2 647.7 375.3 649.3 376.6 650.7 377.9 651.9 379.3 652.9 380.8 653.6 382.3 654.1 383.9 654.4 385.5 654.5 387 654.3 388.5 653.9 390 653.3 391.5 652.5 392.9 651.6 394.2 650.4 395.4 649.1 396.6 647.6 397.6 646 398.5 644.3 399.3 642.6 399.9 640.7 400.5 638.8 400.8 636.9 401.1 634.9 401.2 633 401.2 631.1 401 629.3 400.8 627.5 400.4 625.8 399.8 624.2 399.2 622.7 398.5 621.3 397.7 620.1 396.8 619 395.8 618.1 394.8 617.3 393.7 616.7 392.6 616.3 391.4 616 390.3 615.9 389.1 616 388 616.2 386.8 616.6 385.8 617.1 384.7 617.8 383.7 618.6 382.8 619.5 381.9 620.6 381.1 621.7 380.4 622.9 379.8 624.2 379.2 625.6 378.8 626.9 378.4 628.4 378.2 629.8 378.1 631.2 378 632.6 378.1 634 378.2 635.4 378.5 636.6 378.8 637.9 379.2 639 379.7 640 380.3 641 380.9 641.8 381.6 642.6 382.3 643.2 383.1 643.7 383.9 644.1 384.7 644.3 385.5 644.5 386.4 644.5 387.2 644.4 388 644.2 388.8 643.8 389.6 643.4 390.3 642.8 391 642.2 391.7 641.5 392.3 640.7 392.8 639.8 393.3 638.9 393.7 637.9 394 636.9 394.3 635.9 394.5 634.9 394.6 633.8 394.7 632.8 394.7 631.8 394.6 630.8 394.4 629.8 394.2 628.9 393.9 628.1 393.5 627.3 393.1 626.6 392.7 625.9 392.2 625.3 391.7 624.9 391.1 624.5 390.5 624.2 389.9 623.9 389.3 623.8 388.7 623.8 388.1 623.8 387.5 624 386.9 624.2 386.3 624.5 385.7 624.9 385.2 625.3 384.7 625.8 384.2 626.4 383.8 627 383.4 627.7 383.1 628.4 382.8 629.1 382.6 629.8 382.4 630.6 382.3 631.4 382.2 632.1 382.2 632.9 382.3 633.6 382.4 634.3 382.5 635 382.7 635.7 382.9 636.3 383.2 636.8 383.5 637.3 383.8 637.8 384.2 638.2 384.6 638.5 385 638.7 385.4 638.9 385.9 639.1 386.3 639.1 386.8 639.1 387.2 639 387.7 638.9 388.1 638.7 388.5 638.5 388.9 638.2 389.3 637.8 389.6 637.4 389.9 637 390.2 636.5 390.5 636 390.7" fill="none" stroke="#d92c4a" stroke-width="2.3" stroke-linejoin="round"/>
<ellipse cx="632.4" cy="388" rx="6.4" ry="4.9" fill="#dc2c4c"/>
<ellipse cx="633.2" cy="387.8" rx="4.3" ry="3.3" fill="none" stroke="#ffd6dc" stroke-width="0.6"/>
<text x="0.50" y="504.00" font-size="14.4" textLength="10.50" lengthAdjust="spacingAndGlyphs" font-weight="bold" fill="#000" stroke="#000">H</text>
<text x="65.80" y="516.30" font-size="11.3" textLength="104.11" lengthAdjust="spacingAndGlyphs" fill="#1a1a1a" stroke="#1a1a1a">Sample simulation</text>
<line x1="42.3" y1="532.1" x2="42.3" y2="579.8" stroke="#3a3a3a" stroke-width="1"/>
<line x1="38.3" y1="532.1" x2="42.3" y2="532.1" stroke="#3a3a3a" stroke-width="1"/>
<line x1="38.3" y1="579.8" x2="42.3" y2="579.8" stroke="#3a3a3a" stroke-width="1"/>
<line x1="42.3" y1="592.8" x2="42.3" y2="641.3" stroke="#3a3a3a" stroke-width="1"/>
<line x1="38.3" y1="592.8" x2="42.3" y2="592.8" stroke="#3a3a3a" stroke-width="1"/>
<line x1="38.3" y1="641.3" x2="42.3" y2="641.3" stroke="#3a3a3a" stroke-width="1"/>
<line x1="42.3" y1="643" x2="186.9" y2="643" stroke="#3a3a3a" stroke-width="1"/>
<line x1="42.3" y1="643" x2="42.3" y2="647" stroke="#3a3a3a" stroke-width="1"/>
<line x1="186.9" y1="643" x2="186.9" y2="647" stroke="#3a3a3a" stroke-width="1"/>
<text x="21.67" y="536.80" font-size="10.7" textLength="12.54" lengthAdjust="spacingAndGlyphs" fill="#1a1a1a" stroke="#1a1a1a">50</text>
<text x="28.61" y="584.50" font-size="10.7" textLength="5.60" lengthAdjust="spacingAndGlyphs" fill="#1a1a1a" stroke="#1a1a1a">0</text>
<text x="14.97" y="597.50" font-size="10.7" textLength="19.23" lengthAdjust="spacingAndGlyphs" fill="#1a1a1a" stroke="#1a1a1a">100</text>
<text x="28.61" y="646.00" font-size="10.7" textLength="5.60" lengthAdjust="spacingAndGlyphs" fill="#1a1a1a" stroke="#1a1a1a">0</text>
<text x="39.70" y="659.20" font-size="10.7" textLength="5.60" lengthAdjust="spacingAndGlyphs" fill="#1a1a1a" stroke="#1a1a1a">0</text>
<text x="173.75" y="659.20" font-size="10.7" textLength="26.29" lengthAdjust="spacingAndGlyphs" fill="#1a1a1a" stroke="#1a1a1a">1000</text>
<text x="0" y="0" font-size="10.9" textLength="49.90" lengthAdjust="spacingAndGlyphs" transform="translate(9.90 579.20) rotate(-90)" fill="#1a1a1a" stroke="#1a1a1a">Rate (Hz)</text>
<text x="0" y="0" font-size="10.9" textLength="53.20" lengthAdjust="spacingAndGlyphs" transform="translate(9.40 643.90) rotate(-90)" fill="#1a1a1a" stroke="#1a1a1a">Neuron ID</text>
<text x="90.20" y="669.80" font-size="10.9" textLength="55.10" lengthAdjust="spacingAndGlyphs" fill="#1a1a1a" stroke="#1a1a1a">Time (ms)</text>
<path d="M49.2 579.8V566.9H52.6V579.8ZM52.6 579.8V565.1H56.1V579.8ZM56.1 579.8V573.9H59.5V579.8ZM59.5 579.8V561.1H63V579.8ZM63 579.8V569H66.4V579.8ZM66.4 579.8V571.9H69.9V579.8ZM69.9 579.8V568H73.3V579.8ZM73.3 579.8V570H76.7V579.8ZM76.7 579.8V565.1H80.2V579.8ZM80.2 579.8V577.9H83.6V579.8ZM83.6 579.8V566.9H87.1V579.8ZM87.1 579.8V565.1H90.5V579.8ZM90.5 579.8V561.1H94V579.8ZM94 579.8V545H97.4V579.8ZM97.4 579.8V536.2H100.8V579.8ZM100.8 579.8V540.1H104.3V579.8ZM104.3 579.8V545H107.7V579.8ZM107.7 579.8V531.8H111.2V579.8ZM111.2 579.8V547.1H114.6V579.8ZM114.6 579.8V537.3H118V579.8ZM118 579.8V547.1H121.5V579.8ZM121.5 579.8V550.2H124.9V579.8ZM124.9 579.8V543.1H128.4V579.8ZM128.4 579.8V544.2H131.8V579.8ZM131.8 579.8V545H135.3V579.8ZM135.3 579.8V541.2H138.7V579.8ZM138.7 579.8V530.7H142.1V579.8ZM142.1 579.8V553.1H145.6V579.8ZM145.6 579.8V534.6H149V579.8ZM149 579.8V538.1H152.5V579.8ZM152.5 579.8V551.1H155.9V579.8ZM155.9 579.8V549.1H159.4V579.8ZM159.4 579.8V550.2H162.8V579.8ZM162.8 579.8V534.6H166.2V579.8ZM166.2 579.8V546.1H169.7V579.8ZM169.7 579.8V546.1H173.1V579.8ZM173.1 579.8V573.2H176.6V579.8ZM176.6 579.8V571H180V579.8ZM180 579.8V572.1H183.5V579.8ZM183.5 579.8V566.3H186.9V579.8Z" fill="#708090"/>
<path d="M102 1244h3M102 1195h3M101 1279h3M100 1198h3M103 1251h3M98 1250h3M104 1207h3M103 1253h3M98 1204h3M103 1219h3M107 1249h3M107 1187h3M105 1231h3M109 1244h3M107 1205h3M109 1205h3M109 1234h3M107 1223h3M105 1203h3M108 1213h3M104 1205h3M110 1254h3M115 1225h3M116 1212h3M115 1188h3M115 1278h3M122 1194h3M122 1217h3M124 1189h3M118 1196h3M120 1270h3M121 1249h3M118 1203h3M120 1246h3M123 1241h3M119 1204h3M120 1211h3M123 1271h3M123 1198h3M123 1188h3M118 1253h3M127 1265h3M129 1247h3M128 1273h3M130 1190h3M131 1228h3M126 1269h3M131 1260h3M129 1188h3M126 1263h3M138 1213h3M136 1198h3M136 1221h3M132 1204h3M135 1231h3M136 1220h3M142 1222h3M143 1188h3M142 1242h3M139 1259h3M142 1276h3M139 1227h3M144 1276h3M143 1220h3M143 1230h3M149 1251h3M151 1188h3M150 1273h3M148 1209h3M149 1190h3M151 1233h3M150 1260h3M145 1205h3M155 1244h3M154 1213h3M152 1227h3M158 1190h3M156 1206h3M159 1263h3M153 1278h3M154 1252h3M154 1214h3M152 1215h3M155 1190h3M152 1188h3M165 1226h3M172 1232h3M169 1222h3M171 1219h3M171 1224h3M167 1226h3M166 1223h3M168 1254h3M173 1202h3M170 1266h3M170 1209h3M175 1275h3M176 1251h3M175 1261h3M176 1261h3M174 1209h3M174 1243h3M173 1219h3M177 1213h3M174 1209h3M176 1258h3M174 1237h3M179 1234h3M181 1266h3M186 1257h3M182 1234h3M182 1274h3M179 1269h3M181 1201h3M185 1261h3M180 1215h3M180 1257h3M186 1214h3M182 1190h3M180 1193h3M184 1207h3M183 1212h3M183 1239h3M189 1212h3M193 1275h3M190 1224h3M190 1238h3M193 1228h3M189 1276h3M191 1200h3M190 1264h3M190 1212h3M189 1256h3M190 1189h3M189 1257h3M187 1225h3M190 1215h3M191 1193h3M193 1258h3M192 1236h3M190 1216h3M187 1236h3M188 1268h3M187 1191h3M192 1279h3M189 1269h3M191 1261h3M190 1235h3M191 1262h3M193 1271h3M191 1274h3M186 1188h3M188 1188h3M190 1206h3M192 1196h3M192 1193h3M193 1221h3M188 1217h3M191 1268h3M191 1200h3M189 1233h3M188 1275h3M191 1253h3M188 1237h3M188 1217h3M192 1210h3M191 1210h3M192 1202h3M192 1192h3M188 1249h3M196 1202h3M194 1236h3M195 1272h3M198 1233h3M198 1208h3M196 1263h3M199 1201h3M195 1260h3M195 1219h3M194 1266h3M194 1250h3M194 1212h3M200 1198h3M199 1207h3M199 1218h3M197 1263h3M194 1223h3M199 1212h3M197 1273h3M198 1273h3M197 1250h3M194 1276h3M196 1237h3M197 1217h3M200 1249h3M197 1201h3M198 1247h3M200 1241h3M195 1246h3M194 1208h3M197 1248h3M200 1190h3M199 1225h3M193 1224h3M197 1222h3M196 1264h3M196 1277h3M195 1196h3M197 1256h3M196 1210h3M197 1264h3M197 1243h3M196 1249h3M198 1194h3M200 1228h3M196 1234h3M198 1231h3M197 1215h3M195 1235h3M194 1191h3M198 1201h3M197 1274h3M199 1197h3M196 1239h3M196 1222h3M200 1202h3M199 1260h3M194 1222h3M197 1272h3M200 1271h3M200 1215h3M200 1278h3M207 1228h3M205 1192h3M204 1220h3M204 1216h3M205 1232h3M203 1233h3M202 1235h3M205 1246h3M201 1249h3M201 1248h3M205 1247h3M206 1225h3M207 1270h3M204 1215h3M207 1241h3M201 1226h3M201 1233h3M202 1202h3M205 1216h3M207 1252h3M203 1214h3M201 1220h3M204 1188h3M204 1207h3M201 1201h3M202 1244h3M202 1250h3M203 1220h3M207 1275h3M201 1231h3M204 1220h3M203 1277h3M204 1275h3M202 1248h3M204 1262h3M202 1191h3M206 1271h3M200 1270h3M203 1194h3M202 1203h3M204 1281h3M203 1252h3M202 1200h3M207 1270h3M201 1211h3M204 1257h3M202 1192h3M202 1240h3M206 1189h3M205 1244h3M202 1231h3M207 1233h3M212 1216h3M211 1250h3M208 1226h3M209 1209h3M211 1191h3M210 1255h3M208 1190h3M213 1267h3M209 1267h3M209 1206h3M212 1199h3M209 1248h3M209 1188h3M213 1217h3M209 1236h3M213 1226h3M211 1261h3M214 1246h3M213 1209h3M209 1197h3M209 1209h3M213 1277h3M208 1249h3M214 1274h3M208 1243h3M212 1189h3M208 1255h3M210 1251h3M208 1205h3M212 1223h3M210 1259h3M208 1198h3M210 1248h3M209 1235h3M212 1268h3M209 1256h3M208 1232h3M212 1217h3M211 1212h3M211 1233h3M210 1199h3M210 1261h3M208 1260h3M213 1274h3M211 1235h3M210 1239h3M220 1240h3M218 1260h3M216 1190h3M220 1223h3M217 1231h3M219 1207h3M216 1209h3M219 1228h3M221 1270h3M221 1207h3M215 1259h3M218 1216h3M217 1189h3M221 1197h3M219 1230h3M219 1194h3M217 1231h3M219 1200h3M220 1280h3M215 1195h3M218 1228h3M218 1279h3M219 1255h3M220 1245h3M216 1200h3M216 1244h3M215 1212h3M219 1263h3M216 1275h3M219 1220h3M217 1200h3M219 1273h3M219 1196h3M220 1220h3M218 1215h3M216 1216h3M214 1239h3M217 1248h3M217 1279h3M219 1258h3M216 1274h3M219 1254h3M214 1237h3M214 1203h3M219 1223h3M219 1264h3M214 1208h3M219 1229h3M220 1269h3M219 1251h3M216 1222h3M214 1252h3M214 1221h3M214 1192h3M219 1213h3M218 1222h3M217 1278h3M216 1222h3M220 1226h3M219 1264h3M215 1210h3M219 1253h3M216 1209h3M215 1260h3M219 1217h3M222 1253h3M224 1243h3M223 1214h3M223 1236h3M225 1189h3M221 1230h3M226 1231h3M227 1206h3M224 1277h3M227 1197h3M224 1212h3M223 1276h3M225 1230h3M223 1267h3M224 1275h3M226 1274h3M221 1228h3M226 1229h3M227 1229h3M226 1193h3M226 1228h3M227 1256h3M226 1251h3M228 1194h3M226 1270h3M221 1237h3M223 1245h3M222 1225h3M225 1200h3M226 1200h3M221 1240h3M224 1235h3M223 1252h3M227 1263h3M226 1187h3M227 1196h3M227 1224h3M225 1200h3M221 1242h3M224 1217h3M225 1255h3M222 1265h3M224 1279h3M225 1271h3M229 1230h3M228 1236h3M233 1267h3M233 1243h3M234 1250h3M231 1205h3M232 1276h3M228 1222h3M233 1244h3M232 1233h3M228 1246h3M231 1264h3M232 1244h3M232 1204h3M231 1259h3M229 1267h3M234 1216h3M230 1276h3M229 1252h3M232 1280h3M230 1254h3M234 1276h3M231 1231h3M233 1250h3M231 1258h3M229 1239h3M232 1266h3M234 1195h3M228 1234h3M230 1195h3M229 1256h3M229 1258h3M232 1187h3M232 1210h3M228 1211h3M234 1273h3M233 1202h3M229 1198h3M234 1196h3M231 1239h3M234 1270h3M228 1276h3M231 1256h3M233 1191h3M229 1211h3M232 1245h3M233 1216h3M232 1221h3M232 1250h3M231 1235h3M228 1192h3M232 1265h3M233 1220h3M233 1252h3M229 1251h3M230 1243h3M234 1259h3M241 1241h3M237 1268h3M236 1189h3M241 1208h3M241 1240h3M237 1254h3M238 1216h3M239 1207h3M237 1188h3M237 1242h3M238 1238h3M236 1276h3M235 1254h3M236 1192h3M240 1220h3M236 1274h3M237 1220h3M240 1263h3M241 1203h3M239 1278h3M235 1223h3M237 1271h3M235 1216h3M236 1244h3M240 1209h3M240 1269h3M236 1252h3M241 1256h3M235 1195h3M235 1206h3M238 1274h3M241 1277h3M240 1259h3M235 1223h3M241 1208h3M240 1262h3M239 1267h3M239 1246h3M239 1249h3M237 1235h3M237 1189h3M239 1245h3M241 1258h3M240 1224h3M242 1278h3M244 1271h3M243 1265h3M244 1213h3M242 1269h3M246 1259h3M244 1241h3M242 1218h3M247 1218h3M245 1226h3M247 1206h3M244 1243h3M248 1272h3M242 1203h3M245 1190h3M242 1272h3M245 1266h3M247 1225h3M245 1278h3M242 1205h3M242 1196h3M245 1188h3M246 1262h3M245 1204h3M243 1222h3M246 1216h3M248 1228h3M242 1194h3M248 1234h3M243 1263h3M242 1272h3M248 1275h3M244 1274h3M247 1202h3M246 1195h3M243 1281h3M243 1270h3M248 1265h3M242 1227h3M246 1259h3M251 1251h3M249 1253h3M250 1237h3M254 1274h3M253 1270h3M250 1199h3M255 1247h3M254 1273h3M254 1256h3M251 1203h3M249 1263h3M255 1262h3M252 1221h3M250 1225h3M249 1252h3M252 1228h3M252 1253h3M252 1228h3M249 1276h3M250 1231h3M254 1190h3M252 1238h3M251 1192h3M255 1277h3M249 1240h3M251 1197h3M251 1258h3M250 1275h3M253 1274h3M254 1256h3M255 1241h3M249 1218h3M251 1270h3M253 1229h3M250 1265h3M251 1262h3M251 1249h3M255 1247h3M254 1234h3M250 1203h3M249 1217h3M249 1203h3M251 1265h3M251 1274h3M251 1277h3M255 1268h3M253 1209h3M252 1243h3M251 1270h3M251 1190h3M255 1231h3M262 1240h3M258 1245h3M261 1220h3M261 1193h3M258 1223h3M258 1237h3M257 1201h3M261 1245h3M256 1249h3M256 1228h3M256 1279h3M258 1247h3M260 1189h3M262 1202h3M255 1231h3M259 1274h3M259 1266h3M258 1236h3M259 1215h3M259 1193h3M259 1190h3M256 1273h3M261 1215h3M260 1215h3M256 1222h3M255 1228h3M256 1237h3M259 1261h3M262 1251h3M261 1260h3M261 1250h3M260 1271h3M260 1270h3M260 1198h3M261 1262h3M258 1244h3M258 1280h3M258 1252h3M258 1245h3M256 1200h3M257 1214h3M260 1223h3M261 1222h3M260 1233h3M258 1201h3M258 1222h3M255 1246h3M263 1212h3M264 1266h3M265 1188h3M265 1208h3M263 1273h3M263 1206h3M263 1209h3M262 1235h3M267 1229h3M266 1265h3M266 1200h3M268 1279h3M269 1207h3M268 1210h3M264 1225h3M267 1221h3M264 1218h3M262 1242h3M266 1228h3M269 1260h3M264 1242h3M266 1205h3M265 1250h3M264 1202h3M265 1207h3M264 1193h3M266 1226h3M264 1250h3M268 1223h3M264 1256h3M267 1213h3M265 1198h3M267 1236h3M268 1229h3M264 1272h3M262 1228h3M266 1225h3M267 1260h3M267 1218h3M266 1204h3M262 1192h3M267 1238h3M266 1251h3M267 1247h3M265 1259h3M263 1248h3M264 1198h3M274 1270h3M270 1196h3M273 1230h3M269 1210h3M273 1201h3M273 1195h3M273 1246h3M274 1272h3M275 1260h3M273 1253h3M273 1254h3M273 1243h3M270 1259h3M270 1260h3M275 1233h3M274 1189h3M275 1214h3M270 1226h3M270 1217h3M270 1274h3M275 1232h3M273 1209h3M273 1265h3M270 1229h3M270 1195h3M271 1197h3M275 1257h3M270 1249h3M276 1223h3M271 1253h3M276 1243h3M272 1199h3M271 1206h3M275 1261h3M269 1189h3M269 1219h3M273 1270h3M272 1202h3M275 1241h3M269 1202h3M276 1271h3M274 1191h3M274 1214h3M275 1191h3M271 1234h3M274 1230h3M272 1269h3M271 1219h3M273 1230h3M272 1209h3M272 1197h3M273 1252h3M277 1204h3M280 1271h3M277 1270h3M282 1259h3M281 1216h3M281 1213h3M276 1270h3M278 1271h3M279 1195h3M281 1257h3M282 1252h3M282 1239h3M277 1280h3M277 1240h3M276 1219h3M277 1190h3M282 1243h3M277 1212h3M281 1206h3M276 1265h3M280 1220h3M281 1200h3M281 1222h3M280 1250h3M282 1232h3M276 1198h3M280 1242h3M282 1213h3M282 1236h3M283 1213h3M277 1254h3M278 1241h3M280 1274h3M281 1251h3M276 1266h3M277 1187h3M282 1241h3M279 1206h3M282 1247h3M282 1274h3M278 1264h3M277 1279h3M281 1235h3M277 1188h3M279 1262h3M280 1277h3M278 1281h3M278 1212h3M279 1199h3M277 1213h3M276 1200h3M279 1238h3M277 1262h3M278 1212h3M282 1213h3M279 1245h3M276 1237h3M282 1276h3M276 1192h3M282 1226h3M280 1223h3M276 1260h3M281 1206h3M280 1213h3M281 1260h3M280 1208h3M287 1202h3M288 1268h3M287 1191h3M286 1245h3M284 1191h3M287 1191h3M285 1230h3M283 1203h3M283 1241h3M289 1230h3M286 1256h3M287 1253h3M283 1219h3M285 1220h3M289 1263h3M289 1268h3M286 1236h3M286 1188h3M289 1255h3M284 1249h3M284 1214h3M288 1270h3M287 1193h3M285 1259h3M285 1230h3M286 1217h3M286 1194h3M285 1218h3M287 1220h3M286 1191h3M287 1189h3M285 1239h3M287 1278h3M286 1191h3M285 1209h3M289 1189h3M292 1274h3M294 1199h3M291 1239h3M293 1241h3M295 1213h3M293 1188h3M294 1273h3M296 1249h3M293 1192h3M292 1248h3M293 1237h3M290 1214h3M291 1190h3M295 1199h3M293 1229h3M296 1262h3M291 1274h3M295 1260h3M295 1276h3M296 1255h3M293 1245h3M296 1212h3M295 1250h3M293 1240h3M295 1200h3M292 1201h3M293 1248h3M293 1247h3M293 1268h3M295 1213h3M293 1278h3M293 1206h3M290 1215h3M296 1239h3M292 1190h3M293 1198h3M291 1246h3M295 1273h3M295 1270h3M293 1229h3M292 1272h3M295 1263h3M290 1201h3M295 1245h3M296 1202h3M291 1199h3M290 1197h3M296 1209h3M295 1242h3M291 1280h3M295 1205h3M294 1233h3M292 1222h3M292 1225h3M295 1205h3M296 1269h3M291 1238h3M293 1229h3M292 1194h3M294 1193h3M295 1249h3M299 1244h3M300 1269h3M297 1192h3M300 1258h3M299 1273h3M297 1220h3M302 1260h3M297 1251h3M297 1197h3M298 1278h3M298 1207h3M300 1225h3M299 1209h3M301 1252h3M302 1262h3M303 1197h3M300 1214h3M298 1220h3M301 1229h3M297 1237h3M303 1273h3M302 1262h3M298 1274h3M297 1205h3M303 1252h3M303 1213h3M301 1243h3M301 1266h3M303 1194h3M303 1212h3M296 1266h3M298 1260h3M297 1277h3M300 1277h3M301 1269h3M301 1278h3M297 1189h3M297 1273h3M303 1213h3M297 1223h3M299 1278h3M300 1209h3M301 1268h3M299 1255h3M302 1210h3M301 1216h3M302 1262h3M297 1191h3M297 1212h3M302 1197h3M297 1262h3M299 1274h3M302 1241h3M298 1231h3M302 1189h3M302 1249h3M308 1259h3M307 1229h3M305 1246h3M310 1252h3M305 1231h3M310 1212h3M310 1232h3M308 1221h3M304 1220h3M305 1272h3M309 1278h3M306 1238h3M309 1228h3M308 1222h3M308 1214h3M310 1276h3M306 1224h3M304 1215h3M309 1225h3M305 1197h3M304 1256h3M310 1233h3M305 1213h3M305 1206h3M306 1246h3M308 1258h3M306 1203h3M307 1253h3M309 1205h3M305 1203h3M304 1274h3M305 1201h3M310 1218h3M303 1203h3M306 1275h3M309 1260h3M306 1255h3M306 1234h3M308 1244h3M313 1256h3M315 1269h3M311 1276h3M316 1244h3M314 1264h3M312 1253h3M317 1238h3M314 1192h3M312 1213h3M313 1207h3M314 1195h3M312 1204h3M316 1264h3M316 1196h3M316 1244h3M313 1261h3M312 1258h3M313 1206h3M311 1242h3M311 1274h3M316 1263h3M312 1249h3M314 1192h3M316 1279h3M311 1268h3M313 1205h3M314 1210h3M314 1254h3M313 1249h3M313 1277h3M316 1200h3M315 1233h3M312 1215h3M311 1262h3M314 1231h3M313 1197h3M313 1277h3M317 1192h3M311 1197h3M313 1259h3M311 1258h3M322 1201h3M323 1263h3M322 1229h3M322 1202h3M323 1278h3M318 1219h3M320 1274h3M318 1227h3M322 1242h3M318 1254h3M318 1195h3M323 1226h3M319 1244h3M319 1263h3M321 1234h3M321 1201h3M323 1267h3M317 1193h3M321 1266h3M320 1227h3M318 1269h3M321 1278h3M324 1235h3M318 1211h3M318 1266h3M321 1242h3M319 1223h3M321 1241h3M323 1204h3M320 1256h3M318 1265h3M322 1224h3M319 1218h3M318 1258h3M319 1203h3M319 1220h3M319 1202h3M320 1271h3M324 1261h3M317 1232h3M325 1223h3M330 1278h3M330 1221h3M327 1230h3M326 1248h3M327 1248h3M327 1198h3M330 1246h3M328 1213h3M326 1210h3M331 1206h3M327 1232h3M326 1203h3M325 1230h3M329 1198h3M325 1193h3M324 1274h3M329 1238h3M330 1228h3M327 1247h3M326 1238h3M330 1280h3M325 1259h3M325 1278h3M331 1269h3M330 1219h3M330 1209h3M324 1232h3M324 1254h3M325 1214h3M330 1250h3M326 1280h3M324 1238h3M331 1236h3M327 1210h3M330 1210h3M331 1248h3M326 1239h3M328 1209h3M329 1208h3M328 1233h3M325 1269h3M327 1201h3M330 1232h3M331 1187h3M330 1257h3M328 1222h3M330 1226h3M325 1254h3M328 1215h3M328 1252h3M325 1261h3M328 1205h3M328 1268h3M327 1251h3M326 1232h3M325 1249h3M330 1201h3M329 1210h3M325 1234h3M324 1264h3M334 1277h3M337 1188h3M335 1274h3M334 1256h3M332 1210h3M332 1209h3M334 1233h3M332 1272h3M333 1189h3M335 1191h3M336 1279h3M335 1275h3M335 1236h3M337 1194h3M334 1267h3M337 1206h3M333 1245h3M337 1201h3M335 1275h3M334 1238h3M332 1245h3M334 1251h3M335 1247h3M334 1189h3M332 1267h3M332 1233h3M332 1234h3M333 1250h3M331 1234h3M337 1236h3M331 1221h3M334 1239h3M332 1272h3M334 1258h3M333 1196h3M335 1222h3M334 1243h3M337 1214h3M337 1209h3M334 1199h3M335 1269h3M335 1187h3M336 1207h3M336 1238h3M336 1229h3M345 1209h3M338 1194h3M344 1218h3M345 1196h3M343 1194h3M339 1217h3M341 1256h3M339 1278h3M344 1197h3M344 1241h3M342 1205h3M343 1211h3M343 1254h3M342 1225h3M341 1225h3M340 1243h3M343 1192h3M342 1269h3M342 1249h3M345 1208h3M340 1264h3M339 1259h3M342 1219h3M339 1207h3M338 1235h3M343 1214h3M338 1239h3M341 1279h3M344 1254h3M341 1231h3M341 1260h3M342 1212h3M340 1197h3M338 1201h3M340 1190h3M343 1202h3M340 1210h3M340 1251h3M339 1279h3M338 1204h3M344 1220h3M340 1278h3M341 1252h3M345 1223h3M344 1227h3M345 1227h3M345 1192h3M351 1276h3M349 1271h3M348 1244h3M358 1197h3M356 1280h3M355 1274h3M358 1269h3M356 1212h3M358 1259h3M354 1205h3M361 1212h3M362 1272h3M364 1274h3M364 1195h3M362 1222h3M360 1246h3M368 1264h3M372 1246h3M372 1232h3M367 1241h3M371 1271h3M368 1274h3M367 1189h3M368 1251h3M371 1251h3M369 1248h3M371 1249h3" stroke="#6c7c8c" stroke-width="3.2" transform="scale(.5)"/>
<text x="243.40" y="503.80" font-size="14.4" textLength="3.40" lengthAdjust="spacingAndGlyphs" font-weight="bold" fill="#000" stroke="#000">I</text>
<text x="327.00" y="518.70" font-size="11.3" textLength="75.30" lengthAdjust="spacingAndGlyphs" fill="#1a1a1a" stroke="#1a1a1a">Prior samples</text>
<line x1="284.3" y1="532.4" x2="284.3" y2="641.2" stroke="#333" stroke-width="1"/>
<line x1="280.3" y1="532.4" x2="284.3" y2="532.4" stroke="#333" stroke-width="1"/>
<line x1="280.3" y1="641.2" x2="284.3" y2="641.2" stroke="#333" stroke-width="1"/>
<line x1="291.7" y1="643.2" x2="429.5" y2="643.2" stroke="#333" stroke-width="1"/>
<line x1="291.7" y1="643.2" x2="291.7" y2="647.2" stroke="#333" stroke-width="1"/>
<line x1="429.5" y1="643.2" x2="429.5" y2="647.2" stroke="#333" stroke-width="1"/>
<text x="271.38" y="537.10" font-size="10.7" textLength="4.82" lengthAdjust="spacingAndGlyphs" fill="#1a1a1a" stroke="#1a1a1a">1</text>
<text x="270.61" y="645.90" font-size="10.7" textLength="5.60" lengthAdjust="spacingAndGlyphs" fill="#1a1a1a" stroke="#1a1a1a">0</text>
<text x="288.90" y="659.20" font-size="10.7" textLength="5.60" lengthAdjust="spacingAndGlyphs" fill="#1a1a1a" stroke="#1a1a1a">0</text>
<text x="416.35" y="659.20" font-size="10.7" textLength="26.29" lengthAdjust="spacingAndGlyphs" fill="#1a1a1a" stroke="#1a1a1a">1000</text>
<text x="0" y="0" font-size="10.9" textLength="122.71" lengthAdjust="spacingAndGlyphs" transform="translate(251.80 646.70) rotate(-90)" fill="#1a1a1a" stroke="#1a1a1a">Normalized firing rate</text>
<text x="333.50" y="669.80" font-size="10.9" textLength="54.80" lengthAdjust="spacingAndGlyphs" fill="#1a1a1a" stroke="#1a1a1a">Time (ms)</text>
<path d="M291.7 623.6 295.1 623.5 298.6 623.8 302 624.2 305.5 624.2 308.9 623.6 312.4 622.1 315.8 619.6 319.3 616 322.7 611.4 326.1 605.8 329.6 599.2 333 591.8 336.5 583.6 339.9 575.1 343.4 566.4 346.8 557.9 350.3 550.2 353.7 543.5 357.2 538.3 360.6 534.9 364 533.5 367.5 534.2 370.9 537 374.4 541.6 377.8 547.8 381.3 555.2 384.7 563.4 388.2 572 391.6 580.6 395.1 588.8 398.5 596.4 401.9 603.2 405.4 609.1 408.8 614 412.3 617.9 415.7 621.1 419.2 623.6 422.6 625.4 426.1 626.8 429.5 627.8M291.7 633.1 295.1 632.9 298.6 632.6 302 632.1 305.5 631.3 308.9 630.2 312.4 628.6 315.8 626.5 319.3 623.7 322.7 620.1 326.1 615.7 329.6 610.5 333 604.4 336.5 597.6 339.9 590.1 343.4 582.4 346.8 574.5 350.3 567 353.7 560.2 357.2 554.5 360.6 550.3 364 547.7 367.5 547 370.9 548.3 374.4 551.3 377.8 556 381.3 562.1 384.7 569.1 388.2 576.7 391.6 584.5 395.1 592.2 398.5 599.4 401.9 605.9 405.4 611.6 408.8 616.5 412.3 620.5 415.7 623.8 419.2 626.3 422.6 628.2 426.1 629.7 429.5 630.7M291.7 635.6 295.1 635.3 298.6 635 302 634.6 305.5 633.9 308.9 632.9 312.4 631.6 315.8 629.7 319.3 627.3 322.7 624.2 326.1 620.4 329.6 615.8 333 610.5 336.5 604.5 339.9 597.9 343.4 590.8 346.8 583.6 350.3 576.6 353.7 569.9 357.2 564 360.6 559.2 364 555.8 367.5 554 370.9 553.9 374.4 555.4 377.8 558.5 381.3 563.1 384.7 568.8 388.2 575.3 391.6 582.3 395.1 589.5 398.5 596.5 401.9 603.1 405.4 609.2 408.8 614.6 412.3 619.2 415.7 623 419.2 626.2 422.6 628.7 426.1 630.6 429.5 632.1M291.7 630.2 295.1 630.1 298.6 630.1 302 630.2 305.5 630 308.9 629.5 312.4 628.3 315.8 626.6 319.3 624.1 322.7 621 326.1 617.1 329.6 612.5 333 607.3 336.5 601.4 339.9 595 343.4 588.3 346.8 581.6 350.3 574.9 353.7 568.8 357.2 563.4 360.6 559 364 555.9 367.5 554.3 370.9 554.2 374.4 555.6 377.8 558.5 381.3 562.7 384.7 567.9 388.2 574 391.6 580.5 395.1 587.2 398.5 593.9 401.9 600.2 405.4 606.1 408.8 611.3 412.3 615.9 415.7 619.8 419.2 623 422.6 625.6 426.1 627.7 429.5 629.3M291.7 628.5 295.1 628.5 298.6 628.8 302 629.2 305.5 629.3 308.9 629.1 312.4 628.3 315.8 626.8 319.3 624.6 322.7 621.6 326.1 617.8 329.6 613.1 333 607.5 336.5 601.2 339.9 594.3 343.4 587.1 346.8 579.8 350.3 572.8 353.7 566.6 357.2 561.5 360.6 557.9 364 556 367.5 556 370.9 557.9 374.4 561.5 377.8 566.6 381.3 572.8 384.7 579.7 388.2 587 391.6 594.2 395.1 601 398.5 607.2 401.9 612.6 405.4 617.2 408.8 621 412.3 624 415.7 626.2 419.2 627.9 422.6 629.1 426.1 630 429.5 630.6M291.7 626 295.1 626.1 298.6 626.8 302 627.6 305.5 628.3 308.9 628.5 312.4 628 315.8 626.8 319.3 624.9 322.7 622.3 326.1 619.1 329.6 615.3 333 610.9 336.5 606.2 339.9 601.2 343.4 596.1 346.8 591.1 350.3 586.4 353.7 582.2 357.2 578.9 360.6 576.6 364 575.4 367.5 575.3 370.9 576.5 374.4 578.8 377.8 582.1 381.3 586.2 384.7 590.8 388.2 595.8 391.6 600.9 395.1 605.8 398.5 610.5 401.9 614.8 405.4 618.5 408.8 621.7 412.3 624.4 415.7 626.6 419.2 628.3 422.6 629.6 426.1 630.6 429.5 631.4M291.7 626.6 295.1 626.8 298.6 627.5 302 628.5 305.5 629.3 308.9 629.6 312.4 629.2 315.8 627.9 319.3 625.7 322.7 622.6 326.1 618.6 329.6 613.7 333 607.9 336.5 601.4 339.9 594.2 343.4 586.7 346.8 579.3 350.3 572.2 353.7 565.9 357.2 560.9 360.6 557.5 364 555.9 367.5 556.2 370.9 558.5 374.4 562.5 377.8 567.9 381.3 574.5 384.7 581.7 388.2 589.2 391.6 596.6 395.1 603.5 398.5 609.7 401.9 615.2 405.4 619.7 408.8 623.4 412.3 626.3 415.7 628.4 419.2 630.1 422.6 631.2 426.1 632 429.5 632.6M291.7 632.2 295.1 632.2 298.6 632.5 302 632.9 305.5 633.2 308.9 633 312.4 632.3 315.8 631 319.3 629 322.7 626.4 326.1 623 329.6 618.8 333 614 336.5 608.5 339.9 602.4 343.4 596.1 346.8 589.8 350.3 583.7 353.7 578.2 357.2 573.7 360.6 570.4 364 568.6 367.5 568.3 370.9 569.7 374.4 572.5 377.8 576.7 381.3 581.9 384.7 587.8 388.2 594.1 391.6 600.4 395.1 606.5 398.5 612.1 401.9 617.2 405.4 621.5 408.8 625.1 412.3 628 415.7 630.3 419.2 632 422.6 633.3 426.1 634.2 429.5 634.9M291.7 625.9 295.1 625.8 298.6 625.9 302 626.1 305.5 626.1 308.9 625.8 312.4 625.2 315.8 624.2 319.3 622.7 322.7 620.8 326.1 618.5 329.6 615.8 333 612.7 336.5 609.2 339.9 605.5 343.4 601.7 346.8 597.9 350.3 594.2 353.7 590.9 357.2 588.2 360.6 586.1 364 584.9 367.5 584.5 370.9 585 374.4 586.4 377.8 588.6 381.3 591.4 384.7 594.7 388.2 598.4 391.6 602.1 395.1 605.8 398.5 609.4 401.9 612.6 405.4 615.5 408.8 618 412.3 620 415.7 621.7 419.2 623 422.6 624.1 426.1 624.9 429.5 625.6M291.7 626.5 295.1 626.4 298.6 626.4 302 626.3 305.5 626 308.9 625.4 312.4 624.5 315.8 623.2 319.3 621.4 322.7 619.1 326.1 616.3 329.6 613.1 333 609.4 336.5 605.4 339.9 601.1 343.4 596.6 346.8 592.2 350.3 588 353.7 584.2 357.2 581.1 360.6 578.7 364 577.2 367.5 576.8 370.9 577.4 374.4 578.9 377.8 581.4 381.3 584.6 384.7 588.4 388.2 592.6 391.6 597 395.1 601.3 398.5 605.5 401.9 609.3 405.4 612.7 408.8 615.7 412.3 618.2 415.7 620.3 419.2 622 422.6 623.3 426.1 624.4 429.5 625.2M291.7 629.2 295.1 629 298.6 628.9 302 628.6 305.5 628.2 308.9 627.5 312.4 626.3 315.8 624.7 319.3 622.6 322.7 619.9 326.1 616.8 329.6 613.2 333 609.2 336.5 604.8 339.9 600.2 343.4 595.5 346.8 590.9 350.3 586.6 353.7 582.8 357.2 579.7 360.6 577.5 364 576.2 367.5 576 370.9 576.9 374.4 578.7 377.8 581.5 381.3 585 384.7 589.1 388.2 593.6 391.6 598.2 395.1 602.8 398.5 607.2 401.9 611.2 405.4 614.9 408.8 618 412.3 620.7 415.7 623 419.2 624.8 422.6 626.2 426.1 627.4 429.5 628.3M291.7 625.2 295.1 625.2 298.6 625.5 302 625.8 305.5 626.1 308.9 626.2 312.4 625.9 315.8 625.3 319.3 624.3 322.7 623 326.1 621.4 329.6 619.5 333 617.3 336.5 614.9 339.9 612.3 343.4 609.6 346.8 607 350.3 604.6 353.7 602.5 357.2 600.9 360.6 599.7 364 599.2 367.5 599.4 370.9 600.2 374.4 601.5 377.8 603.4 381.3 605.6 384.7 608.1 388.2 610.6 391.6 613.2 395.1 615.6 398.5 617.8 401.9 619.7 405.4 621.3 408.8 622.7 412.3 623.7 415.7 624.5 419.2 625.1 422.6 625.5 426.1 625.8 429.5 626.1M291.7 628.9 295.1 628.8 298.6 628.8 302 628.7 305.5 628.4 308.9 627.8 312.4 626.8 315.8 625.2 319.3 623.1 322.7 620.2 326.1 616.7 329.6 612.4 333 607.3 336.5 601.6 339.9 595.1 343.4 588.2 346.8 581 350.3 573.9 353.7 567 357.2 560.8 360.6 555.6 364 551.6 367.5 549.2 370.9 548.4 374.4 549.3 377.8 551.8 381.3 555.8 384.7 561.1 388.2 567.3 391.6 574.1 395.1 581.2 398.5 588.3 401.9 595 405.4 601.3 408.8 606.9 412.3 611.7 415.7 615.8 419.2 619.2 422.6 621.9 426.1 624.1 429.5 625.7M291.7 630.2 295.1 630.1 298.6 630.1 302 630.2 305.5 630 308.9 629.6 312.4 628.7 315.8 627.4 319.3 625.5 322.7 623 326.1 619.8 329.6 615.8 333 611.2 336.5 605.9 339.9 600 343.4 593.8 346.8 587.5 350.3 581.3 353.7 575.8 357.2 571.1 360.6 567.7 364 565.7 367.5 565.2 370.9 566.4 374.4 569.1 377.8 573.1 381.3 578.2 384.7 584.1 388.2 590.3 391.6 596.5 395.1 602.5 398.5 608.1 401.9 613 405.4 617.1 408.8 620.6 412.3 623.4 415.7 625.5 419.2 627.1 422.6 628.3 426.1 629.2 429.5 629.8M291.7 627.1 295.1 627.2 298.6 627.4 302 627.7 305.5 627.8 308.9 627.6 312.4 626.9 315.8 625.8 319.3 624 322.7 621.6 326.1 618.6 329.6 614.8 333 610.3 336.5 605.2 339.9 599.4 343.4 593.3 346.8 587 350.3 580.8 353.7 575.1 357.2 570.2 360.6 566.4 364 563.9 367.5 563 370.9 563.6 374.4 565.8 377.8 569.4 381.3 574.1 384.7 579.6 388.2 585.7 391.6 591.9 395.1 598 398.5 603.7 401.9 608.8 405.4 613.3 408.8 617.1 412.3 620.1 415.7 622.5 419.2 624.3 422.6 625.7 426.1 626.8 429.5 627.5M291.7 625.3 295.1 625.3 298.6 625.4 302 625.5 305.5 625.5 308.9 625.2 312.4 624.5 315.8 623.2 319.3 621.5 322.7 619.2 326.1 616.5 329.6 613.3 333 609.7 336.5 605.8 339.9 601.6 343.4 597.3 346.8 593.2 350.3 589.3 353.7 586 357.2 583.3 360.6 581.4 364 580.5 367.5 580.6 370.9 581.7 374.4 583.8 377.8 586.6 381.3 590.1 384.7 594 388.2 598.1 391.6 602.3 395.1 606.3 398.5 610.1 401.9 613.4 405.4 616.4 408.8 618.8 412.3 620.8 415.7 622.4 419.2 623.7 422.6 624.6 426.1 625.4 429.5 625.9M291.7 620.6 295.1 620.8 298.6 621.4 302 622.2 305.5 622.8 308.9 623 312.4 622.6 315.8 621.5 319.3 619.6 322.7 616.9 326.1 613.3 329.6 608.8 333 603.5 336.5 597.3 339.9 590.3 343.4 582.8 346.8 575 350.3 567.3 353.7 560.1 357.2 553.8 360.6 548.8 364 545.4 367.5 543.9 370.9 544.3 374.4 546.7 377.8 550.9 381.3 556.5 384.7 563.3 388.2 570.7 391.6 578.4 395.1 586 398.5 593.1 401.9 599.5 405.4 605.2 408.8 609.9 412.3 613.7 415.7 616.8 419.2 619.1 422.6 620.8 426.1 622.1 429.5 623.1M291.7 624.6 295.1 624.4 298.6 624.5 302 624.5 305.5 624.4 308.9 623.7 312.4 622.6 315.8 620.8 319.3 618.3 322.7 615.2 326.1 611.3 329.6 606.8 333 601.6 336.5 595.9 339.9 589.9 343.4 583.7 346.8 577.7 350.3 572.1 353.7 567.3 357.2 563.5 360.6 560.9 364 559.7 367.5 560 370.9 561.8 374.4 564.9 377.8 569.1 381.3 574.3 384.7 580 388.2 586.1 391.6 592.1 395.1 597.9 398.5 603.3 401.9 608 405.4 612.1 408.8 615.6 412.3 618.3 415.7 620.5 419.2 622.2 422.6 623.5 426.1 624.4 429.5 625.1M291.7 629.8 295.1 629.7 298.6 629.8 302 629.8 305.5 629.7 308.9 629.1 312.4 627.9 315.8 626 319.3 623.3 322.7 619.9 326.1 615.6 329.6 610.5 333 604.5 336.5 597.9 339.9 590.6 343.4 583.1 346.8 575.5 350.3 568.3 353.7 561.8 357.2 556.3 360.6 552.3 364 549.9 367.5 549.4 370.9 550.6 374.4 553.7 377.8 558.3 381.3 564.3 384.7 571.1 388.2 578.5 391.6 586 395.1 593.4 398.5 600.3 401.9 606.6 405.4 612.2 408.8 616.8 412.3 620.7 415.7 623.8 419.2 626.2 422.6 628.1 426.1 629.4 429.5 630.5M291.7 618.7 295.1 618.7 298.6 619.2 302 619.9 305.5 620.3 308.9 620.2 312.4 619.3 315.8 617.6 319.3 615.1 322.7 612 326.1 608.2 329.6 603.8 333 599 336.5 593.9 339.9 588.6 343.4 583.3 346.8 578.3 350.3 573.7 353.7 569.8 357.2 566.8 360.6 564.8 364 563.9 367.5 564.3 370.9 565.8 374.4 568.4 377.8 572 381.3 576.3 384.7 581.2 388.2 586.3 391.6 591.5 395.1 596.6 398.5 601.4 401.9 605.8 405.4 609.7 408.8 613 412.3 615.8 415.7 618.1 419.2 619.9 422.6 621.4 426.1 622.5 429.5 623.4M291.7 627.3 295.1 627.3 298.6 627.3 302 627.4 305.5 627.4 308.9 627.2 312.4 626.7 315.8 626 319.3 625 322.7 623.6 326.1 621.8 329.6 619.7 333 617.1 336.5 614.3 339.9 611.1 343.4 607.7 346.8 604.3 350.3 601.1 353.7 598.2 357.2 595.8 360.6 594.1 364 593.1 367.5 593.1 370.9 593.9 374.4 595.5 377.8 597.7 381.3 600.5 384.7 603.7 388.2 607 391.6 610.3 395.1 613.4 398.5 616.2 401.9 618.6 405.4 620.7 408.8 622.3 412.3 623.6 415.7 624.5 419.2 625.2 422.6 625.7 426.1 626.1 429.5 626.4M291.7 627.2 295.1 627 298.6 626.8 302 626.6 305.5 626.1 308.9 625.2 312.4 623.9 315.8 622.1 319.3 619.6 322.7 616.4 326.1 612.4 329.6 607.6 333 602 336.5 595.7 339.9 588.9 343.4 581.7 346.8 574.6 350.3 567.7 353.7 561.6 357.2 556.6 360.6 553 364 551 367.5 550.8 370.9 552.3 374.4 555.6 377.8 560.3 381.3 566.1 384.7 572.8 388.2 579.8 391.6 586.9 395.1 593.8 398.5 600.1 401.9 605.7 405.4 610.5 408.8 614.5 412.3 617.7 415.7 620.2 419.2 622.1 422.6 623.5 426.1 624.5 429.5 625.3M291.7 630.4 295.1 630.3 298.6 630.3 302 630.2 305.5 630 308.9 629.6 312.4 629 315.8 628.1 319.3 626.7 322.7 625 326.1 622.7 329.6 619.9 333 616.5 336.5 612.6 339.9 608.1 343.4 603.3 346.8 598.3 350.3 593.3 353.7 588.5 357.2 584.2 360.6 580.7 364 578.1 367.5 576.7 370.9 576.5 374.4 577.6 377.8 579.9 381.3 583.1 384.7 587.2 388.2 591.8 391.6 596.8 395.1 601.7 398.5 606.5 401.9 610.9 405.4 614.8 408.8 618.2 412.3 621 415.7 623.3 419.2 625.1 422.6 626.4 426.1 627.5 429.5 628.3M291.7 636 295.1 635.8 298.6 635.6 302 635.2 305.5 634.6 308.9 633.9 312.4 632.8 315.8 631.5 319.3 629.7 322.7 627.4 326.1 624.6 329.6 621.3 333 617.5 336.5 613.3 339.9 608.7 343.4 604 346.8 599.3 350.3 594.8 353.7 590.9 357.2 587.7 360.6 585.5 364 584.3 367.5 584.3 370.9 585.4 374.4 587.7 377.8 590.8 381.3 594.8 384.7 599.2 388.2 603.9 391.6 608.6 395.1 613.1 398.5 617.3 401.9 621 405.4 624.2 408.8 627 412.3 629.1 415.7 630.9 419.2 632.2 422.6 633.2 426.1 633.9 429.5 634.5M291.7 623.3 295.1 623.1 298.6 623.2 302 623.2 305.5 623 308.9 622.3 312.4 620.9 315.8 618.8 319.3 615.9 322.7 612.2 326.1 607.8 329.6 602.5 333 596.5 336.5 590 339.9 583 343.4 575.8 346.8 568.7 350.3 562.1 353.7 556.2 357.2 551.4 360.6 547.9 364 546 367.5 545.7 370.9 547.2 374.4 550.2 377.8 554.6 381.3 560.2 384.7 566.6 388.2 573.6 391.6 580.6 395.1 587.6 398.5 594.2 401.9 600.1 405.4 605.4 408.8 610 412.3 613.7 415.7 616.8 419.2 619.2 422.6 621.1 426.1 622.5 429.5 623.6M291.7 626.1 295.1 626.1 298.6 626.6 302 627.2 305.5 627.6 308.9 627.4 312.4 626.6 315.8 624.9 319.3 622.3 322.7 619 326.1 614.8 329.6 609.9 333 604.3 336.5 598 339.9 591.4 343.4 584.5 346.8 577.7 350.3 571.3 353.7 565.7 357.2 561 360.6 557.6 364 555.8 367.5 555.5 370.9 556.9 374.4 559.8 377.8 564.1 381.3 569.5 384.7 575.6 388.2 582.3 391.6 589.1 395.1 595.8 398.5 602.1 401.9 607.8 405.4 612.9 408.8 617.2 412.3 620.8 415.7 623.7 419.2 626 422.6 627.8 426.1 629.1 429.5 630.1M291.7 625.7 295.1 625.9 298.6 626.5 302 627.2 305.5 627.8 308.9 628 312.4 627.6 315.8 626.4 319.3 624.6 322.7 622 326.1 618.6 329.6 614.4 333 609.4 336.5 603.6 339.9 597.3 343.4 590.7 346.8 583.9 350.3 577.5 353.7 571.7 357.2 566.9 360.6 563.5 364 561.7 367.5 561.6 370.9 563.3 374.4 566.6 377.8 571.2 381.3 576.9 384.7 583.3 388.2 589.9 391.6 596.5 395.1 602.8 398.5 608.5 401.9 613.4 405.4 617.6 408.8 621 412.3 623.7 415.7 625.7 419.2 627.2 422.6 628.2 426.1 629 429.5 629.6M291.7 633.5 295.1 633.5 298.6 633.7 302 633.9 305.5 634.1 308.9 634.1 312.4 634 315.8 633.6 319.3 633 322.7 632.1 326.1 630.9 329.6 629.5 333 627.7 336.5 625.7 339.9 623.4 343.4 621 346.8 618.5 350.3 616 353.7 613.8 357.2 611.8 360.6 610.3 364 609.3 367.5 609 370.9 609.3 374.4 610.2 377.8 611.7 381.3 613.6 384.7 615.9 388.2 618.3 391.6 620.8 395.1 623.2 398.5 625.4 401.9 627.3 405.4 629 408.8 630.4 412.3 631.5 415.7 632.3 419.2 633 422.6 633.4 426.1 633.8 429.5 634M291.7 623.1 295.1 623.4 298.6 624.3 302 625.5 305.5 626.7 308.9 627.5 312.4 627.7 315.8 627.5 319.3 626.7 322.7 625.4 326.1 623.7 329.6 621.6 333 619.1 336.5 616.2 339.9 613.1 343.4 609.7 346.8 606.3 350.3 603 353.7 599.9 357.2 597.3 360.6 595.2 364 593.9 367.5 593.3 370.9 593.6 374.4 594.7 377.8 596.6 381.3 599 384.7 602 388.2 605.2 391.6 608.5 395.1 611.8 398.5 614.9 401.9 617.8 405.4 620.2 408.8 622.3 412.3 624 415.7 625.4 419.2 626.5 422.6 627.3 426.1 627.9 429.5 628.4M291.7 623.2 295.1 623.4 298.6 624.2 302 625.2 305.5 626.1 308.9 626.7 312.4 626.8 315.8 626.3 319.3 625.2 322.7 623.6 326.1 621.5 329.6 618.9 333 615.7 336.5 612.1 339.9 608 343.4 603.6 346.8 599.1 350.3 594.6 353.7 590.3 357.2 586.5 360.6 583.5 364 581.3 367.5 580.1 370.9 580.1 374.4 581.1 377.8 583.2 381.3 586.2 384.7 589.9 388.2 594 391.6 598.4 395.1 602.9 398.5 607.2 401.9 611.1 405.4 614.7 408.8 617.7 412.3 620.2 415.7 622.3 419.2 623.9 422.6 625.2 426.1 626.1 429.5 626.9M291.7 625.5 295.1 625.5 298.6 625.9 302 626.4 305.5 626.7 308.9 626.4 312.4 625.4 315.8 623.6 319.3 621 322.7 617.7 326.1 613.7 329.6 609.1 333 604 336.5 598.5 339.9 592.7 343.4 586.9 346.8 581.4 350.3 576.2 353.7 571.8 357.2 568.4 360.6 566.1 364 565 367.5 565.3 370.9 566.9 374.4 569.7 377.8 573.5 381.3 578.3 384.7 583.6 388.2 589.2 391.6 595 395.1 600.6 398.5 605.9 401.9 610.7 405.4 615 408.8 618.7 412.3 621.8 415.7 624.3 419.2 626.3 422.6 627.9 426.1 629.2 429.5 630.1M291.7 624.7 295.1 624.7 298.6 625.1 302 625.5 305.5 625.7 308.9 625.6 312.4 625 315.8 623.7 319.3 621.9 322.7 619.6 326.1 616.6 329.6 613 333 609 336.5 604.5 339.9 599.7 343.4 594.7 346.8 589.8 350.3 585.2 353.7 581.1 357.2 577.7 360.6 575.4 364 574.1 367.5 574 370.9 575.2 374.4 577.4 377.8 580.6 381.3 584.6 384.7 589.1 388.2 594 391.6 598.9 395.1 603.6 398.5 608 401.9 612 405.4 615.4 408.8 618.3 412.3 620.7 415.7 622.6 419.2 624 422.6 625.1 426.1 626 429.5 626.6M291.7 631.5 295.1 631.6 298.6 632.1 302 632.6 305.5 633.1 308.9 633.4 312.4 633.3 315.8 632.8 319.3 631.9 322.7 630.7 326.1 629.2 329.6 627.5 333 625.5 336.5 623.4 339.9 621.1 343.4 618.8 346.8 616.6 350.3 614.5 353.7 612.6 357.2 611.1 360.6 610 364 609.4 367.5 609.3 370.9 609.8 374.4 610.8 377.8 612.2 381.3 614 384.7 616 388.2 618.2 391.6 620.5 395.1 622.7 398.5 624.8 401.9 626.8 405.4 628.5 408.8 630 412.3 631.3 415.7 632.3 419.2 633.2 422.6 633.8 426.1 634.3 429.5 634.7M291.7 626.9 295.1 627 298.6 627.4 302 627.9 305.5 628.3 308.9 628.5 312.4 628.4 315.8 627.9 319.3 627.1 322.7 626 326.1 624.6 329.6 622.9 333 621 336.5 619 339.9 616.8 343.4 614.7 346.8 612.6 350.3 610.6 353.7 608.9 357.2 607.6 360.6 606.7 364 606.2 367.5 606.3 370.9 606.9 374.4 607.9 377.8 609.3 381.3 611.1 384.7 613 388.2 615.1 391.6 617.2 395.1 619.3 398.5 621.2 401.9 622.9 405.4 624.3 408.8 625.6 412.3 626.6 415.7 627.4 419.2 628 422.6 628.5 426.1 628.9 429.5 629.2M291.7 626.7 295.1 626.7 298.6 627 302 627.3 305.5 627.5 308.9 627.2 312.4 626.5 315.8 625.1 319.3 623.2 322.7 620.6 326.1 617.3 329.6 613.5 333 609.1 336.5 604.2 339.9 599 343.4 593.8 346.8 588.6 350.3 583.9 353.7 579.9 357.2 576.9 360.6 574.9 364 574.3 367.5 574.9 370.9 576.9 374.4 579.9 377.8 584 381.3 588.6 384.7 593.7 388.2 598.9 391.6 604 395.1 608.8 398.5 613.1 401.9 616.8 405.4 620 408.8 622.5 412.3 624.5 415.7 626 419.2 627.1 422.6 628 426.1 628.6 429.5 629M291.7 628.2 295.1 628.1 298.6 628 302 627.9 305.5 627.6 308.9 627.1 312.4 626.2 315.8 624.8 319.3 623.1 322.7 620.8 326.1 617.9 329.6 614.6 333 610.7 336.5 606.4 339.9 601.6 343.4 596.7 346.8 591.6 350.3 586.7 353.7 582.1 357.2 578.1 360.6 574.9 364 572.7 367.5 571.6 370.9 571.6 374.4 572.8 377.8 575.2 381.3 578.4 384.7 582.5 388.2 587 391.6 591.9 395.1 596.9 398.5 601.7 401.9 606.3 405.4 610.4 408.8 614.1 412.3 617.2 415.7 619.8 419.2 621.9 422.6 623.6 426.1 625 429.5 626M291.7 629.9 295.1 629.9 298.6 630.1 302 630.4 305.5 630.5 308.9 630.3 312.4 629.4 315.8 627.9 319.3 625.6 322.7 622.6 326.1 618.6 329.6 613.7 333 607.9 336.5 601.2 339.9 593.8 343.4 585.9 346.8 577.9 350.3 570.2 353.7 563.1 357.2 557.2 360.6 552.8 364 550.3 367.5 549.8 370.9 551.4 374.4 554.9 377.8 560.1 381.3 566.6 384.7 574 388.2 581.9 391.6 589.8 395.1 597.4 398.5 604.4 401.9 610.6 405.4 615.8 408.8 620.2 412.3 623.6 415.7 626.3 419.2 628.3 422.6 629.7 426.1 630.8 429.5 631.5M291.7 626.7 295.1 627 298.6 627.8 302 629 305.5 630.1 308.9 630.9 312.4 631.2 315.8 631 319.3 630.4 322.7 629.3 326.1 628 329.6 626.4 333 624.6 336.5 622.6 339.9 620.5 343.4 618.3 346.8 616.2 350.3 614.2 353.7 612.5 357.2 611.1 360.6 610 364 609.5 367.5 609.5 370.9 610 374.4 610.9 377.8 612.3 381.3 614 384.7 615.9 388.2 618 391.6 620.1 395.1 622.2 398.5 624.2 401.9 625.9 405.4 627.5 408.8 628.8 412.3 629.8 415.7 630.7 419.2 631.4 422.6 631.9 426.1 632.3 429.5 632.7M291.7 634.3 295.1 634.2 298.6 634.2 302 634.2 305.5 634 308.9 633.7 312.4 633 315.8 632 319.3 630.7 322.7 628.9 326.1 626.8 329.6 624.2 333 621.3 336.5 618.1 339.9 614.7 343.4 611.2 346.8 607.7 350.3 604.4 353.7 601.5 357.2 599.2 360.6 597.5 364 596.6 367.5 596.6 370.9 597.4 374.4 599.1 377.8 601.4 381.3 604.2 384.7 607.5 388.2 610.9 391.6 614.4 395.1 617.8 398.5 621 401.9 623.8 405.4 626.3 408.8 628.4 412.3 630.1 415.7 631.5 419.2 632.6 422.6 633.4 426.1 634 429.5 634.5M291.7 629.3 295.1 629.1 298.6 628.9 302 628.6 305.5 628.2 308.9 627.3 312.4 626 315.8 624.2 319.3 621.9 322.7 619 326.1 615.6 329.6 611.7 333 607.3 336.5 602.6 339.9 597.7 343.4 592.8 346.8 588.1 350.3 583.7 353.7 579.9 357.2 576.9 360.6 574.9 364 573.9 367.5 574 370.9 575.3 374.4 577.5 377.8 580.7 381.3 584.6 384.7 589.1 388.2 593.9 391.6 598.7 395.1 603.5 398.5 608 401.9 612.1 405.4 615.8 408.8 619 412.3 621.7 415.7 623.9 419.2 625.7 422.6 627.1 426.1 628.2 429.5 629M291.7 627.3 295.1 627.2 298.6 627.3 302 627.4 305.5 627.4 308.9 627.2 312.4 626.6 315.8 625.7 319.3 624.5 322.7 622.8 326.1 620.8 329.6 618.3 333 615.6 336.5 612.5 339.9 609.2 343.4 605.9 346.8 602.6 350.3 599.6 353.7 597 357.2 594.9 360.6 593.6 364 593 367.5 593.3 370.9 594.4 374.4 596.2 377.8 598.6 381.3 601.5 384.7 604.7 388.2 608 391.6 611.2 395.1 614.2 398.5 617 401.9 619.4 405.4 621.4 408.8 623.1 412.3 624.4 415.7 625.3 419.2 626.1 422.6 626.6 426.1 627 429.5 627.3M291.7 624.4 295.1 624.5 298.6 624.9 302 625.3 305.5 625.7 308.9 625.8 312.4 625.7 315.8 625.3 319.3 624.6 322.7 623.5 326.1 622 329.6 620.2 333 618.1 336.5 615.7 339.9 613 343.4 610.2 346.8 607.3 350.3 604.6 353.7 602.2 357.2 600.2 360.6 598.7 364 598 367.5 598 370.9 598.7 374.4 600.1 377.8 602 381.3 604.4 384.7 607.1 388.2 609.9 391.6 612.6 395.1 615.2 398.5 617.4 401.9 619.4 405.4 621 408.8 622.3 412.3 623.3 415.7 624 419.2 624.4 422.6 624.8 426.1 625 429.5 625.2M291.7 630.8 295.1 630.9 298.6 631.2 302 631.6 305.5 631.9 308.9 632.1 312.4 631.9 315.8 631.3 319.3 630.5 322.7 629.3 326.1 627.9 329.6 626.3 333 624.4 336.5 622.3 339.9 620 343.4 617.7 346.8 615.4 350.3 613.2 353.7 611.2 357.2 609.5 360.6 608.2 364 607.4 367.5 607 370.9 607.2 374.4 607.8 377.8 609 381.3 610.5 384.7 612.4 388.2 614.5 391.6 616.7 395.1 619 398.5 621.2 401.9 623.3 405.4 625.1 408.8 626.8 412.3 628.2 415.7 629.5 419.2 630.4 422.6 631.2 426.1 631.9 429.5 632.4M291.7 629 295.1 629.1 298.6 629.6 302 630.2 305.5 630.7 308.9 630.8 312.4 630.3 315.8 629.2 319.3 627.4 322.7 624.8 326.1 621.3 329.6 617 333 611.9 336.5 605.9 339.9 599.1 343.4 591.9 346.8 584.3 350.3 576.8 353.7 569.9 357.2 563.8 360.6 559 364 555.8 367.5 554.4 370.9 554.9 374.4 557.4 377.8 561.5 381.3 567.1 384.7 573.8 388.2 581 391.6 588.5 395.1 595.9 398.5 602.8 401.9 609.1 405.4 614.5 408.8 619.1 412.3 622.8 415.7 625.7 419.2 628 422.6 629.6 426.1 630.9 429.5 631.7M291.7 625.5 295.1 625.5 298.6 625.9 302 626.4 305.5 626.7 308.9 626.4 312.4 625.3 315.8 623.5 319.3 620.7 322.7 617.2 326.1 612.8 329.6 607.7 333 601.9 336.5 595.6 339.9 588.9 343.4 582.1 346.8 575.5 350.3 569.3 353.7 563.9 357.2 559.6 360.6 556.7 364 555.3 367.5 555.4 370.9 557.2 374.4 560.5 377.8 565 381.3 570.6 384.7 576.9 388.2 583.5 391.6 590.3 395.1 596.8 398.5 603 401.9 608.5 405.4 613.4 408.8 617.5 412.3 620.9 415.7 623.6 419.2 625.8 422.6 627.4 426.1 628.7 429.5 629.6M291.7 629 295.1 629.2 298.6 629.8 302 630.7 305.5 631.5 308.9 631.9 312.4 631.8 315.8 631.1 319.3 629.7 322.7 627.8 326.1 625.3 329.6 622.2 333 618.6 336.5 614.5 339.9 609.9 343.4 605 346.8 600 350.3 595.1 353.7 590.5 357.2 586.5 360.6 583.3 364 581.1 367.5 580 370.9 580.1 374.4 581.4 377.8 583.8 381.3 587.2 384.7 591.3 388.2 595.9 391.6 600.8 395.1 605.7 398.5 610.5 401.9 614.9 405.4 618.9 408.8 622.4 412.3 625.3 415.7 627.7 419.2 629.6 422.6 631.1 426.1 632.2 429.5 633.1M291.7 624.1 295.1 624.1 298.6 624.3 302 624.6 305.5 624.7 308.9 624.6 312.4 624.1 315.8 623.1 319.3 621.6 322.7 619.7 326.1 617.3 329.6 614.4 333 611 336.5 607.2 339.9 603.1 343.4 598.7 346.8 594.4 350.3 590.2 353.7 586.5 357.2 583.3 360.6 580.9 364 579.5 367.5 579.1 370.9 579.8 374.4 581.5 377.8 584.1 381.3 587.5 384.7 591.3 388.2 595.5 391.6 599.8 395.1 603.9 398.5 607.8 401.9 611.3 405.4 614.4 408.8 617 412.3 619.1 415.7 620.7 419.2 622 422.6 623 426.1 623.7 429.5 624.3M291.7 632.6 295.1 632.5 298.6 632.4 302 632.2 305.5 631.8 308.9 631.3 312.4 630.5 315.8 629.4 319.3 628 322.7 626 326.1 623.7 329.6 620.8 333 617.4 336.5 613.6 339.9 609.5 343.4 605.1 346.8 600.7 350.3 596.5 353.7 592.7 357.2 589.6 360.6 587.3 364 586.1 367.5 585.9 370.9 586.8 374.4 588.7 377.8 591.5 381.3 595.1 384.7 599.1 388.2 603.4 391.6 607.8 395.1 611.9 398.5 615.8 401.9 619.2 405.4 622.1 408.8 624.6 412.3 626.5 415.7 628.1 419.2 629.2 422.6 630.1 426.1 630.7 429.5 631.2M291.7 627.6 295.1 627.7 298.6 628.2 302 628.8 305.5 629.3 308.9 629.6 312.4 629.6 315.8 629.4 319.3 628.7 322.7 627.8 326.1 626.6 329.6 625 333 623.1 336.5 621 339.9 618.6 343.4 616.1 346.8 613.5 350.3 610.9 353.7 608.6 357.2 606.5 360.6 605 364 604 367.5 603.7 370.9 604 374.4 604.9 377.8 606.4 381.3 608.4 384.7 610.7 388.2 613.2 391.6 615.8 395.1 618.2 398.5 620.5 401.9 622.5 405.4 624.3 408.8 625.7 412.3 626.8 415.7 627.7 419.2 628.4 422.6 628.9 426.1 629.2 429.5 629.5M291.7 632 295.1 631.9 298.6 632 302 632.1 305.5 632 308.9 631.4 312.4 630.3 315.8 628.5 319.3 625.9 322.7 622.5 326.1 618.2 329.6 613.1 333 607 336.5 600.2 339.9 592.9 343.4 585.2 346.8 577.5 350.3 570.3 353.7 564 357.2 558.9 360.6 555.4 364 553.7 367.5 554.1 370.9 556.3 374.4 560.3 377.8 565.9 381.3 572.5 384.7 579.9 388.2 587.5 391.6 595.1 395.1 602.3 398.5 608.8 401.9 614.5 405.4 619.3 408.8 623.3 412.3 626.4 415.7 628.8 419.2 630.6 422.6 631.9 426.1 632.8 429.5 633.5M291.7 628.2 295.1 627.9 298.6 627.4 302 626.8 305.5 626 308.9 624.9 312.4 623.5 315.8 621.8 319.3 619.6 322.7 617 326.1 614 329.6 610.6 333 606.8 336.5 602.8 339.9 598.7 343.4 594.5 346.8 590.5 350.3 586.9 353.7 583.8 357.2 581.4 360.6 579.9 364 579.2 367.5 579.5 370.9 580.7 374.4 582.8 377.8 585.7 381.3 589.1 384.7 592.9 388.2 597 391.6 601.1 395.1 605 398.5 608.8 401.9 612.2 405.4 615.1 408.8 617.7 412.3 619.8 415.7 621.5 419.2 622.9 422.6 624 426.1 624.8 429.5 625.5M291.7 629.2 295.1 629 298.6 628.9 302 628.8 305.5 628.4 308.9 627.6 312.4 626.1 315.8 624 319.3 621.2 322.7 617.7 326.1 613.6 329.6 609 333 603.8 336.5 598.4 339.9 592.7 343.4 587.1 346.8 581.8 350.3 576.9 353.7 572.9 357.2 569.8 360.6 567.9 364 567.2 367.5 567.8 370.9 569.7 374.4 572.7 377.8 576.7 381.3 581.5 384.7 586.8 388.2 592.3 391.6 597.9 395.1 603.4 398.5 608.5 401.9 613.1 405.4 617.1 408.8 620.6 412.3 623.5 415.7 625.9 419.2 627.8 422.6 629.2 426.1 630.4 429.5 631.2M291.7 631.2 295.1 631.2 298.6 631.4 302 631.7 305.5 631.8 308.9 631.4 312.4 630.5 315.8 628.8 319.3 626.3 322.7 623 326.1 618.9 329.6 613.9 333 608.1 336.5 601.6 339.9 594.5 343.4 587 346.8 579.5 350.3 572.2 353.7 565.5 357.2 559.9 360.6 555.7 364 553.1 367.5 552.3 370.9 553.3 374.4 556.1 377.8 560.6 381.3 566.3 384.7 573 388.2 580.3 391.6 587.9 395.1 595.3 398.5 602.3 401.9 608.7 405.4 614.3 408.8 619.1 412.3 623 415.7 626.2 419.2 628.8 422.6 630.7 426.1 632.1 429.5 633.2M291.7 627.9 295.1 627.8 298.6 627.7 302 627.6 305.5 627.3 308.9 626.7 312.4 625.7 315.8 624.2 319.3 622.1 322.7 619.5 326.1 616.1 329.6 612.1 333 607.4 336.5 602 339.9 596.1 343.4 589.9 346.8 583.5 350.3 577.3 353.7 571.6 357.2 566.7 360.6 562.8 364 560.2 367.5 559.2 370.9 559.7 374.4 561.6 377.8 565 381.3 569.6 384.7 575 388.2 581 391.6 587.3 395.1 593.5 398.5 599.4 401.9 604.8 405.4 609.6 408.8 613.8 412.3 617.2 415.7 619.9 419.2 622.1 422.6 623.8 426.1 625.1 429.5 626M291.7 623.1 295.1 623.3 298.6 624 302 625 305.5 625.8 308.9 626.3 312.4 626.3 315.8 625.6 319.3 624.4 322.7 622.7 326.1 620.4 329.6 617.6 333 614.3 336.5 610.6 339.9 606.5 343.4 602.3 346.8 597.9 350.3 593.7 353.7 589.9 357.2 586.6 360.6 584.1 364 582.4 367.5 581.8 370.9 582.3 374.4 583.8 377.8 586.2 381.3 589.3 384.7 593.1 388.2 597.2 391.6 601.5 395.1 605.7 398.5 609.6 401.9 613.2 405.4 616.4 408.8 619.1 412.3 621.4 415.7 623.2 419.2 624.6 422.6 625.7 426.1 626.5 429.5 627.1M291.7 624.8 295.1 625.1 298.6 626.1 302 627.4 305.5 628.7 308.9 629.6 312.4 630 315.8 629.9 319.3 629.2 322.7 628.2 326.1 626.8 329.6 625.1 333 623.1 336.5 620.9 339.9 618.5 343.4 616 346.8 613.6 350.3 611.2 353.7 609.1 357.2 607.3 360.6 606 364 605.3 367.5 605.1 370.9 605.5 374.4 606.5 377.8 607.9 381.3 609.8 384.7 612 388.2 614.4 391.6 616.8 395.1 619.2 398.5 621.4 401.9 623.5 405.4 625.3 408.8 626.8 412.3 628 415.7 629 419.2 629.8 422.6 630.4 426.1 630.9 429.5 631.2M291.7 624 295.1 624.2 298.6 624.9 302 625.8 305.5 626.5 308.9 626.8 312.4 626.5 315.8 625.5 319.3 623.8 322.7 621.4 326.1 618.3 329.6 614.6 333 610.2 336.5 605.3 339.9 599.9 343.4 594.2 346.8 588.6 350.3 583.2 353.7 578.3 357.2 574.2 360.6 571.2 364 569.5 367.5 569.1 370.9 570.2 374.4 572.6 377.8 576.2 381.3 580.7 384.7 585.8 388.2 591.4 391.6 597 395.1 602.4 398.5 607.5 401.9 612 405.4 615.9 408.8 619.2 412.3 621.9 415.7 624 419.2 625.6 422.6 626.8 426.1 627.7 429.5 628.4M291.7 622.9 295.1 622.9 298.6 623.5 302 624.3 305.5 624.8 308.9 624.8 312.4 623.9 315.8 622.1 319.3 619.5 322.7 616 326.1 611.7 329.6 606.6 333 600.9 336.5 594.6 339.9 587.9 343.4 581.1 346.8 574.3 350.3 568 353.7 562.4 357.2 557.7 360.6 554.4 364 552.5 367.5 552.1 370.9 553.3 374.4 556.1 377.8 560.2 381.3 565.4 384.7 571.4 388.2 577.9 391.6 584.7 395.1 591.4 398.5 597.8 401.9 603.7 405.4 608.9 408.8 613.5 412.3 617.3 415.7 620.5 419.2 623 422.6 625 426.1 626.6 429.5 627.7M291.7 624.2 295.1 624.4 298.6 625.2 302 626.2 305.5 627.1 308.9 627.6 312.4 627.4 315.8 626.6 319.3 625.1 322.7 623 326.1 620.3 329.6 617 333 613.2 336.5 609 339.9 604.4 343.4 599.7 346.8 594.9 350.3 590.4 353.7 586.3 357.2 582.9 360.6 580.3 364 578.8 367.5 578.4 370.9 579.2 374.4 581 377.8 583.9 381.3 587.5 384.7 591.8 388.2 596.3 391.6 601.1 395.1 605.7 398.5 610.1 401.9 614 405.4 617.5 408.8 620.5 412.3 623 415.7 625 419.2 626.5 422.6 627.7 426.1 628.6 429.5 629.3M291.7 626 295.1 626.2 298.6 626.9 302 627.8 305.5 628.6 308.9 629 312.4 628.9 315.8 628.3 319.3 627.1 322.7 625.3 326.1 623.2 329.6 620.7 333 617.8 336.5 614.7 339.9 611.4 343.4 608 346.8 604.6 350.3 601.5 353.7 598.7 357.2 596.5 360.6 594.9 364 594 367.5 593.8 370.9 594.5 374.4 595.9 377.8 598 381.3 600.6 384.7 603.6 388.2 606.9 391.6 610.2 395.1 613.5 398.5 616.6 401.9 619.5 405.4 622 408.8 624.2 412.3 626 415.7 627.5 419.2 628.7 422.6 629.7 426.1 630.4 429.5 631M291.7 618.6 295.1 619 298.6 620 302 621.4 305.5 622.7 308.9 623.7 312.4 624.2 315.8 624.2 319.3 623.7 322.7 622.8 326.1 621.6 329.6 620 333 618.2 336.5 616.1 339.9 613.9 343.4 611.6 346.8 609.3 350.3 607.2 353.7 605.3 357.2 603.8 360.6 602.8 364 602.3 367.5 602.4 370.9 603.1 374.4 604.2 377.8 605.8 381.3 607.8 384.7 609.9 388.2 612.2 391.6 614.4 395.1 616.4 398.5 618.2 401.9 619.8 405.4 621.1 408.8 622.1 412.3 622.9 415.7 623.5 419.2 623.9 422.6 624.1 426.1 624.4 429.5 624.5M291.7 631.5 295.1 631.6 298.6 631.8 302 632.1 305.5 632.3 308.9 632.1 312.4 631.5 315.8 630.4 319.3 628.7 322.7 626.4 326.1 623.4 329.6 619.6 333 615.2 336.5 610.1 339.9 604.4 343.4 598.4 346.8 592.2 350.3 586.1 353.7 580.6 357.2 575.9 360.6 572.4 364 570.2 367.5 569.6 370.9 570.6 374.4 573.1 377.8 576.9 381.3 581.9 384.7 587.5 388.2 593.6 391.6 599.7 395.1 605.7 398.5 611.1 401.9 616 405.4 620.2 408.8 623.7 412.3 626.4 415.7 628.6 419.2 630.2 422.6 631.4 426.1 632.3 429.5 632.9M291.7 627.4 295.1 627.6 298.6 628.3 302 629.2 305.5 630.1 308.9 630.6 312.4 630.6 315.8 630 319.3 628.9 322.7 627.3 326.1 625.4 329.6 623.2 333 620.6 336.5 617.9 339.9 615 343.4 612.1 346.8 609.4 350.3 606.8 353.7 604.6 357.2 602.9 360.6 601.7 364 601.2 367.5 601.3 370.9 602.1 374.4 603.5 377.8 605.5 381.3 607.8 384.7 610.5 388.2 613.3 391.6 616.1 395.1 618.9 398.5 621.5 401.9 623.8 405.4 625.9 408.8 627.7 412.3 629.2 415.7 630.4 419.2 631.3 422.6 632.1 426.1 632.6 429.5 633.1M291.7 635.6 295.1 635.5 298.6 635.4 302 635.3 305.5 635.1 308.9 634.8 312.4 634.3 315.8 633.6 319.3 632.8 322.7 631.7 326.1 630.5 329.6 629 333 627.3 336.5 625.4 339.9 623.4 343.4 621.4 346.8 619.3 350.3 617.3 353.7 615.6 357.2 614.1 360.6 612.9 364 612.2 367.5 611.9 370.9 612.2 374.4 612.9 377.8 614 381.3 615.5 384.7 617.2 388.2 619.1 391.6 621.2 395.1 623.2 398.5 625.1 401.9 626.9 405.4 628.6 408.8 630 412.3 631.2 415.7 632.2 419.2 633 422.6 633.6 426.1 634.2 429.5 634.6M291.7 625.6 295.1 625.6 298.6 625.7 302 625.9 305.5 626 308.9 625.9 312.4 625.6 315.8 625 319.3 624.2 322.7 623.2 326.1 621.8 329.6 620.3 333 618.5 336.5 616.5 339.9 614.4 343.4 612.2 346.8 610 350.3 608 353.7 606.2 357.2 604.7 360.6 603.6 364 602.9 367.5 602.8 370.9 603.2 374.4 604.1 377.8 605.5 381.3 607.1 384.7 609.1 388.2 611.1 391.6 613.2 395.1 615.3 398.5 617.2 401.9 618.9 405.4 620.3 408.8 621.5 412.3 622.5 415.7 623.3 419.2 623.9 422.6 624.3 426.1 624.7 429.5 625M291.7 623.8 295.1 623.8 298.6 624 302 624.3 305.5 624.4 308.9 624.3 312.4 623.9 315.8 623 319.3 621.8 322.7 620.1 326.1 618.1 329.6 615.7 333 613 336.5 610 339.9 606.8 343.4 603.6 346.8 600.4 350.3 597.4 353.7 594.8 357.2 592.7 360.6 591.3 364 590.5 367.5 590.5 370.9 591.3 374.4 592.9 377.8 595 381.3 597.6 384.7 600.6 388.2 603.7 391.6 606.8 395.1 609.9 398.5 612.7 401.9 615.2 405.4 617.4 408.8 619.2 412.3 620.6 415.7 621.8 419.2 622.6 422.6 623.3 426.1 623.8 429.5 624.3M291.7 620.9 295.1 621.3 298.6 622.4 302 623.9 305.5 625.3 308.9 626.4 312.4 627 315.8 627 319.3 626.4 322.7 625.4 326.1 623.9 329.6 621.9 333 619.5 336.5 616.6 339.9 613.3 343.4 609.7 346.8 605.8 350.3 601.9 353.7 598 357.2 594.6 360.6 591.7 364 589.5 367.5 588.2 370.9 588 374.4 588.7 377.8 590.4 381.3 592.9 384.7 596 388.2 599.6 391.6 603.4 395.1 607.3 398.5 610.9 401.9 614.3 405.4 617.2 408.8 619.7 412.3 621.8 415.7 623.4 419.2 624.6 422.6 625.6 426.1 626.3 429.5 626.8M291.7 625.8 295.1 625.8 298.6 626.1 302 626.5 305.5 626.7 308.9 626.6 312.4 625.9 315.8 624.6 319.3 622.6 322.7 619.8 326.1 616.4 329.6 612.1 333 607.1 336.5 601.3 339.9 595 343.4 588.2 346.8 581.3 350.3 574.6 353.7 568.4 357.2 563.1 360.6 559 364 556.3 367.5 555.4 370.9 556.1 374.4 558.6 377.8 562.5 381.3 567.7 384.7 573.7 388.2 580.4 391.6 587.2 395.1 593.9 398.5 600.2 401.9 605.9 405.4 610.8 408.8 615 412.3 618.4 415.7 621.2 419.2 623.3 422.6 624.8 426.1 626 429.5 626.9M291.7 631 295.1 630.9 298.6 630.8 302 630.7 305.5 630.4 308.9 629.9 312.4 629.2 315.8 628.1 319.3 626.7 322.7 624.9 326.1 622.7 329.6 620 333 616.9 336.5 613.3 339.9 609.5 343.4 605.5 346.8 601.5 350.3 597.8 353.7 594.4 357.2 591.7 360.6 589.8 364 588.8 367.5 588.8 370.9 589.9 374.4 591.8 377.8 594.6 381.3 598 384.7 601.7 388.2 605.7 391.6 609.6 395.1 613.3 398.5 616.7 401.9 619.7 405.4 622.3 408.8 624.3 412.3 625.9 415.7 627.2 419.2 628.1 422.6 628.8 426.1 629.3 429.5 629.7M291.7 622.5 295.1 622.6 298.6 622.9 302 623.5 305.5 623.8 308.9 623.9 312.4 623.4 315.8 622.5 319.3 621.1 322.7 619.2 326.1 616.8 329.6 614.1 333 611.1 336.5 607.8 339.9 604.4 343.4 600.9 346.8 597.6 350.3 594.6 353.7 592 357.2 589.9 360.6 588.6 364 588.1 367.5 588.4 370.9 589.4 374.4 591.2 377.8 593.6 381.3 596.5 384.7 599.7 388.2 603.1 391.6 606.4 395.1 609.6 398.5 612.6 401.9 615.3 405.4 617.6 408.8 619.5 412.3 621.1 415.7 622.3 419.2 623.2 422.6 624 426.1 624.5 429.5 625M291.7 620.7 295.1 620.8 298.6 621.3 302 622 305.5 622.6 308.9 622.6 312.4 621.9 315.8 620.4 319.3 618 322.7 614.8 326.1 610.8 329.6 605.9 333 600.2 336.5 593.7 339.9 586.7 343.4 579.2 346.8 571.5 350.3 564.1 353.7 557.1 357.2 551.1 360.6 546.3 364 542.9 367.5 541.3 370.9 541.6 374.4 543.6 377.8 547.3 381.3 552.4 384.7 558.7 388.2 565.7 391.6 573.1 395.1 580.7 398.5 587.9 401.9 594.7 405.4 600.8 408.8 606.1 412.3 610.6 415.7 614.3 419.2 617.3 422.6 619.6 426.1 621.4 429.5 622.8M291.7 629.6 295.1 629.6 298.6 630.1 302 630.8 305.5 631.2 308.9 631.3 312.4 630.7 315.8 629.5 319.3 627.6 322.7 625.1 326.1 621.9 329.6 618.1 333 613.7 336.5 608.9 339.9 603.7 343.4 598.3 346.8 592.9 350.3 587.9 353.7 583.3 357.2 579.6 360.6 576.9 364 575.4 367.5 575.2 370.9 576.3 374.4 578.6 377.8 581.9 381.3 586.2 384.7 591.1 388.2 596.3 391.6 601.7 395.1 606.9 398.5 611.9 401.9 616.4 405.4 620.3 408.8 623.7 412.3 626.4 415.7 628.7 419.2 630.4 422.6 631.8 426.1 632.8 429.5 633.6M291.7 633.8 295.1 633.6 298.6 633.5 302 633.2 305.5 632.7 308.9 631.8 312.4 630.4 315.8 628.5 319.3 625.9 322.7 622.5 326.1 618.5 329.6 613.7 333 608.2 336.5 602.2 339.9 595.9 343.4 589.4 346.8 583.2 350.3 577.4 353.7 572.5 357.2 568.8 360.6 566.4 364 565.6 367.5 566.4 370.9 568.8 374.4 572.5 377.8 577.4 381.3 583.1 384.7 589.4 388.2 595.8 391.6 602.1 395.1 608.1 398.5 613.5 401.9 618.2 405.4 622.2 408.8 625.5 412.3 628.1 415.7 630.1 419.2 631.7 422.6 632.8 426.1 633.6 429.5 634.2M291.7 633.3 295.1 633.3 298.6 633.6 302 633.9 305.5 634.1 308.9 634 312.4 633.7 315.8 633 319.3 631.9 322.7 630.4 326.1 628.4 329.6 626 333 623.2 336.5 619.9 339.9 616.3 343.4 612.6 346.8 608.8 350.3 605.1 353.7 601.9 357.2 599.2 360.6 597.3 364 596.2 367.5 596.2 370.9 597.1 374.4 599 377.8 601.6 381.3 604.8 384.7 608.4 388.2 612.2 391.6 615.9 395.1 619.5 398.5 622.7 401.9 625.5 405.4 627.9 408.8 629.8 412.3 631.4 415.7 632.5 419.2 633.4 422.6 634 426.1 634.5 429.5 634.8M291.7 632.6 295.1 632.4 298.6 632.3 302 632.1 305.5 631.8 308.9 631.3 312.4 630.4 315.8 629.3 319.3 627.7 322.7 625.9 326.1 623.6 329.6 621 333 618 336.5 614.8 339.9 611.4 343.4 607.8 346.8 604.4 350.3 601.1 353.7 598.1 357.2 595.6 360.6 593.7 364 592.5 367.5 592.2 370.9 592.6 374.4 593.7 377.8 595.6 381.3 598.1 384.7 601.1 388.2 604.4 391.6 607.8 395.1 611.3 398.5 614.6 401.9 617.7 405.4 620.6 408.8 623.1 412.3 625.2 415.7 627 419.2 628.5 422.6 629.7 426.1 630.7 429.5 631.4M291.7 631.5 295.1 631.3 298.6 631 302 630.5 305.5 629.8 308.9 628.7 312.4 627.2 315.8 625.2 319.3 622.6 322.7 619.2 326.1 615.2 329.6 610.3 333 604.7 336.5 598.4 339.9 591.5 343.4 584.3 346.8 577.1 350.3 570.1 353.7 563.8 357.2 558.4 360.6 554.3 364 551.7 367.5 550.8 370.9 551.7 374.4 554.2 377.8 558.3 381.3 563.6 384.7 569.9 388.2 576.8 391.6 584 395.1 591.1 398.5 597.9 401.9 604.1 405.4 609.6 408.8 614.3 412.3 618.3 415.7 621.5 419.2 624.1 422.6 626.1 426.1 627.6 429.5 628.7M291.7 623 295.1 623.1 298.6 623.8 302 624.7 305.5 625.4 308.9 625.8 312.4 625.7 315.8 625 319.3 623.7 322.7 621.9 326.1 619.6 329.6 616.8 333 613.4 336.5 609.7 339.9 605.7 343.4 601.4 346.8 597.2 350.3 593 353.7 589.3 357.2 586.1 360.6 583.7 364 582.2 367.5 581.7 370.9 582.3 374.4 583.8 377.8 586.3 381.3 589.5 384.7 593.2 388.2 597.3 391.6 601.5 395.1 605.6 398.5 609.5 401.9 613.1 405.4 616.2 408.8 618.8 412.3 621 415.7 622.8 419.2 624.1 422.6 625.2 426.1 626 429.5 626.6M291.7 620.1 295.1 620.4 298.6 621.3 302 622.5 305.5 623.6 308.9 624.4 312.4 624.7 315.8 624.3 319.3 623.5 322.7 622.1 326.1 620.3 329.6 618 333 615.3 336.5 612.3 339.9 608.9 343.4 605.3 346.8 601.7 350.3 598.2 353.7 595 357.2 592.4 360.6 590.4 364 589.2 367.5 588.9 370.9 589.6 374.4 591 377.8 593.3 381.3 596.1 384.7 599.4 388.2 602.9 391.6 606.4 395.1 609.8 398.5 612.9 401.9 615.7 405.4 618.1 408.8 620 412.3 621.5 415.7 622.7 419.2 623.6 422.6 624.3 426.1 624.8 429.5 625.1M291.7 620.2 295.1 620.5 298.6 621.4 302 622.6 305.5 623.7 308.9 624.3 312.4 624.2 315.8 623.4 319.3 621.8 322.7 619.5 326.1 616.5 329.6 612.7 333 608.2 336.5 603.1 339.9 597.4 343.4 591.4 346.8 585.3 350.3 579.4 353.7 574 357.2 569.4 360.6 565.9 364 563.8 367.5 563.2 370.9 564.1 374.4 566.5 377.8 570.2 381.3 575 384.7 580.5 388.2 586.4 391.6 592.4 395.1 598.3 398.5 603.7 401.9 608.5 405.4 612.7 408.8 616.2 412.3 618.9 415.7 621.1 419.2 622.8 422.6 624 426.1 624.9 429.5 625.6M291.7 624.3 295.1 624.4 298.6 625.1 302 625.9 305.5 626.5 308.9 626.8 312.4 626.4 315.8 625.5 319.3 623.8 322.7 621.6 326.1 618.9 329.6 615.6 333 611.8 336.5 607.7 339.9 603.3 343.4 598.8 346.8 594.4 350.3 590.3 353.7 586.7 357.2 583.8 360.6 581.9 364 580.9 367.5 581 370.9 582.2 374.4 584.4 377.8 587.4 381.3 591.1 384.7 595.3 388.2 599.7 391.6 604.1 395.1 608.3 398.5 612.3 401.9 615.8 405.4 618.9 408.8 621.5 412.3 623.6 415.7 625.2 419.2 626.5 422.6 627.5 426.1 628.2 429.5 628.8M291.7 625.3 295.1 625.5 298.6 626 302 626.8 305.5 627.5 308.9 627.9 312.4 627.9 315.8 627.5 319.3 626.7 322.7 625.4 326.1 623.7 329.6 621.6 333 619.1 336.5 616.1 339.9 612.8 343.4 609.3 346.8 605.7 350.3 602.1 353.7 598.8 357.2 595.9 360.6 593.6 364 592.1 367.5 591.5 370.9 591.7 374.4 592.9 377.8 594.9 381.3 597.5 384.7 600.7 388.2 604.1 391.6 607.7 395.1 611.1 398.5 614.4 401.9 617.4 405.4 619.9 408.8 622.1 412.3 623.8 415.7 625.1 419.2 626.2 422.6 626.9 426.1 627.5 429.5 628M291.7 630.4 295.1 630.5 298.6 630.7 302 631 305.5 631.2 308.9 631.3 312.4 631 315.8 630.4 319.3 629.4 322.7 628.1 326.1 626.4 329.6 624.4 333 622 336.5 619.4 339.9 616.5 343.4 613.6 346.8 610.6 350.3 607.9 353.7 605.5 357.2 603.5 360.6 602.2 364 601.6 367.5 601.7 370.9 602.6 374.4 604.2 377.8 606.3 381.3 608.8 384.7 611.6 388.2 614.6 391.6 617.5 395.1 620.2 398.5 622.6 401.9 624.8 405.4 626.6 408.8 628 412.3 629.2 415.7 630 419.2 630.7 422.6 631.1 426.1 631.5 429.5 631.7M291.7 628.5 295.1 628.3 298.6 628.1 302 627.7 305.5 627.1 308.9 626.3 312.4 625.1 315.8 623.4 319.3 621.3 322.7 618.5 326.1 615 329.6 610.8 333 605.8 336.5 600.2 339.9 594.1 343.4 587.6 346.8 581.2 350.3 575.1 353.7 569.6 357.2 565.2 360.6 562 364 560.4 367.5 560.5 370.9 562.2 374.4 565.4 377.8 569.9 381.3 575.3 384.7 581.4 388.2 587.8 391.6 594.2 395.1 600.2 398.5 605.6 401.9 610.4 405.4 614.4 408.8 617.6 412.3 620.2 415.7 622.1 419.2 623.5 422.6 624.6 426.1 625.3 429.5 625.9M291.7 627.9 295.1 627.9 298.6 628 302 628.2 305.5 628.2 308.9 627.9 312.4 627.2 315.8 626 319.3 624.3 322.7 622.1 326.1 619.6 329.6 616.6 333 613.3 336.5 609.7 339.9 606 343.4 602.3 346.8 598.7 350.3 595.5 353.7 592.7 357.2 590.6 360.6 589.3 364 588.8 367.5 589.2 370.9 590.4 374.4 592.4 377.8 595.1 381.3 598.2 384.7 601.7 388.2 605.4 391.6 609.1 395.1 612.6 398.5 615.8 401.9 618.7 405.4 621.3 408.8 623.4 412.3 625.1 415.7 626.5 419.2 627.6 422.6 628.4 426.1 629.1 429.5 629.6M291.7 632.9 295.1 632.8 298.6 632.7 302 632.5 305.5 632.1 308.9 631.4 312.4 630.3 315.8 628.6 319.3 626.2 322.7 623.2 326.1 619.4 329.6 614.7 333 609.3 336.5 603.1 339.9 596.3 343.4 589.2 346.8 582 350.3 575.1 353.7 568.9 357.2 563.8 360.6 560.1 364 558.1 367.5 557.9 370.9 559.4 374.4 562.7 377.8 567.5 381.3 573.4 384.7 580.1 388.2 587.2 391.6 594.4 395.1 601.2 398.5 607.5 401.9 613 405.4 617.8 408.8 621.8 412.3 624.9 415.7 627.4 419.2 629.2 422.6 630.6 426.1 631.6 429.5 632.3M291.7 620.6 295.1 620.6 298.6 621 302 621.6 305.5 621.9 308.9 621.7 312.4 620.7 315.8 618.9 319.3 616.2 322.7 612.6 326.1 608.3 329.6 603.1 333 597.3 336.5 590.8 339.9 583.9 343.4 576.8 346.8 569.7 350.3 563 353.7 557 357.2 552 360.6 548.2 364 546 367.5 545.3 370.9 546.3 374.4 548.8 377.8 552.8 381.3 558 384.7 564.2 388.2 570.9 391.6 577.9 395.1 584.9 398.5 591.6 401.9 597.8 405.4 603.3 408.8 608.1 412.3 612.2 415.7 615.6 419.2 618.3 422.6 620.5 426.1 622.1 429.5 623.5M291.7 631.1 295.1 630.9 298.6 630.7 302 630.4 305.5 630 308.9 629.3 312.4 628.3 315.8 626.9 319.3 625.2 322.7 623 326.1 620.3 329.6 617.2 333 613.7 336.5 609.8 339.9 605.7 343.4 601.5 346.8 597.3 350.3 593.4 353.7 589.9 357.2 587.1 360.6 585 364 583.9 367.5 583.8 370.9 584.6 374.4 586.4 377.8 589 381.3 592.3 384.7 596.1 388.2 600.2 391.6 604.3 395.1 608.4 398.5 612.3 401.9 615.8 405.4 618.9 408.8 621.5 412.3 623.8 415.7 625.5 419.2 626.9 422.6 628 426.1 628.9 429.5 629.5M291.7 622.1 295.1 622.1 298.6 622.5 302 622.9 305.5 623.3 308.9 623.3 312.4 622.8 315.8 621.9 319.3 620.6 322.7 618.8 326.1 616.7 329.6 614.2 333 611.5 336.5 608.6 339.9 605.5 343.4 602.5 346.8 599.6 350.3 597 353.7 594.7 357.2 593 360.6 591.8 364 591.4 367.5 591.6 370.9 592.5 374.4 594 377.8 596.1 381.3 598.6 384.7 601.4 388.2 604.3 391.6 607.2 395.1 610.1 398.5 612.8 401.9 615.1 405.4 617.2 408.8 619 412.3 620.4 415.7 621.6 419.2 622.5 422.6 623.2 426.1 623.8 429.5 624.3M291.7 634.7 295.1 634.7 298.6 634.9 302 635.1 305.5 635.2 308.9 635.1 312.4 634.7 315.8 634.1 319.3 633.1 322.7 631.7 326.1 630 329.6 627.7 333 625.1 336.5 621.9 339.9 618.4 343.4 614.6 346.8 610.6 350.3 606.6 353.7 602.9 357.2 599.6 360.6 596.9 364 595 367.5 594.1 370.9 594.2 374.4 595.3 377.8 597.3 381.3 600.1 384.7 603.5 388.2 607.3 391.6 611.2 395.1 615.2 398.5 618.9 401.9 622.3 405.4 625.3 408.8 627.8 412.3 629.9 415.7 631.5 419.2 632.8 422.6 633.8 426.1 634.5 429.5 635M291.7 626.2 295.1 626.3 298.6 626.6 302 627.1 305.5 627.4 308.9 627.5 312.4 627.3 315.8 626.8 319.3 625.9 322.7 624.5 326.1 622.8 329.6 620.6 333 618 336.5 614.9 339.9 611.5 343.4 607.8 346.8 604 350.3 600.1 353.7 596.5 357.2 593.3 360.6 590.8 364 589 367.5 588.1 370.9 588.1 374.4 589.1 377.8 591 381.3 593.6 384.7 596.8 388.2 600.4 391.6 604.2 395.1 607.9 398.5 611.4 401.9 614.7 405.4 617.5 408.8 619.9 412.3 621.8 415.7 623.4 419.2 624.6 422.6 625.5 426.1 626.2 429.5 626.8M291.7 625.2 295.1 625.1 298.6 624.9 302 624.7 305.5 624.4 308.9 623.7 312.4 622.7 315.8 621.3 319.3 619.4 322.7 617 326.1 614.1 329.6 610.7 333 606.8 336.5 602.4 339.9 597.8 343.4 592.9 346.8 588 350.3 583.2 353.7 578.9 357.2 575.2 360.6 572.3 364 570.4 367.5 569.6 370.9 570 374.4 571.4 377.8 573.9 381.3 577.3 384.7 581.4 388.2 585.9 391.6 590.7 395.1 595.5 398.5 600.1 401.9 604.4 405.4 608.3 408.8 611.7 412.3 614.6 415.7 616.9 419.2 618.9 422.6 620.4 426.1 621.6 429.5 622.6M291.7 626.8 295.1 626.8 298.6 627.2 302 627.7 305.5 628.1 308.9 628.1 312.4 627.7 315.8 626.7 319.3 625.2 322.7 623.2 326.1 620.5 329.6 617.3 333 613.4 336.5 609 339.9 604.1 343.4 598.9 346.8 593.5 350.3 588 353.7 582.9 357.2 578.3 360.6 574.5 364 571.7 367.5 570 370.9 569.7 374.4 570.6 377.8 572.8 381.3 576.1 384.7 580.3 388.2 585.1 391.6 590.4 395.1 595.7 398.5 601 401.9 606 405.4 610.5 408.8 614.5 412.3 617.9 415.7 620.8 419.2 623.1 422.6 624.9 426.1 626.3 429.5 627.4M291.7 624.9 295.1 624.8 298.6 624.8 302 624.8 305.5 624.5 308.9 623.8 312.4 622.4 315.8 620.3 319.3 617.5 322.7 613.9 326.1 609.5 329.6 604.3 333 598.5 336.5 591.9 339.9 584.9 343.4 577.7 346.8 570.4 350.3 563.4 353.7 557 357.2 551.6 360.6 547.3 364 544.6 367.5 543.4 370.9 543.9 374.4 546 377.8 549.7 381.3 554.6 384.7 560.6 388.2 567.3 391.6 574.5 395.1 581.7 398.5 588.7 401.9 595.3 405.4 601.3 408.8 606.6 412.3 611.1 415.7 614.9 419.2 618 422.6 620.5 426.1 622.5 429.5 624.1M291.7 626.3 295.1 626.7 298.6 627.6 302 628.9 305.5 630.2 308.9 631.2 312.4 631.6 315.8 631.5 319.3 631 322.7 630.1 326.1 628.8 329.6 627.4 333 625.6 336.5 623.8 339.9 621.8 343.4 619.7 346.8 617.6 350.3 615.7 353.7 614 357.2 612.5 360.6 611.4 364 610.7 367.5 610.6 370.9 610.8 374.4 611.6 377.8 612.7 381.3 614.2 384.7 616 388.2 617.9 391.6 620 395.1 622 398.5 623.9 401.9 625.7 405.4 627.2 408.8 628.6 412.3 629.8 415.7 630.7 419.2 631.5 422.6 632.1 426.1 632.6 429.5 633M291.7 631.6 295.1 631.7 298.6 632.2 302 632.7 305.5 633.2 308.9 633.3 312.4 633 315.8 632.1 319.3 630.7 322.7 628.6 326.1 625.9 329.6 622.6 333 618.7 336.5 614.2 339.9 609.1 343.4 603.8 346.8 598.4 350.3 593.1 353.7 588.2 357.2 584.2 360.6 581.1 364 579.3 367.5 578.8 370.9 579.8 374.4 582 377.8 585.5 381.3 589.8 384.7 594.8 388.2 600.2 391.6 605.6 395.1 610.8 398.5 615.6 401.9 619.9 405.4 623.5 408.8 626.6 412.3 629 415.7 630.9 419.2 632.3 422.6 633.4 426.1 634.2 429.5 634.7" fill="none" stroke="#708090" stroke-width="0.75" stroke-opacity="0.36"/>
<text x="475.40" y="503.80" font-size="14.4" textLength="5.50" lengthAdjust="spacingAndGlyphs" font-weight="bold" fill="#000" stroke="#000">J</text>
<text x="548.30" y="516.80" font-size="11.3" textLength="110.20" lengthAdjust="spacingAndGlyphs" fill="#1a1a1a" stroke="#1a1a1a">Simulation features</text>
<line x1="527.5" y1="532.2" x2="527.5" y2="580.2" stroke="#333" stroke-width="1"/>
<line x1="523.5" y1="532.2" x2="527.5" y2="532.2" stroke="#333" stroke-width="1"/>
<line x1="523.5" y1="580.2" x2="527.5" y2="580.2" stroke="#333" stroke-width="1"/>
<line x1="527.5" y1="593.3" x2="527.5" y2="640.7" stroke="#333" stroke-width="1"/>
<line x1="523.5" y1="593.3" x2="527.5" y2="593.3" stroke="#333" stroke-width="1"/>
<line x1="523.5" y1="640.7" x2="527.5" y2="640.7" stroke="#333" stroke-width="1"/>
<line x1="534.3" y1="643" x2="672.6" y2="643" stroke="#333" stroke-width="1"/>
<line x1="534.3" y1="643" x2="534.3" y2="647" stroke="#333" stroke-width="1"/>
<line x1="672.6" y1="643" x2="672.6" y2="647" stroke="#333" stroke-width="1"/>
<text x="493.30" y="536.90" font-size="10.7" textLength="26.29" lengthAdjust="spacingAndGlyphs" fill="#1a1a1a" stroke="#1a1a1a">1300</text>
<text x="514.01" y="584.90" font-size="10.7" textLength="5.60" lengthAdjust="spacingAndGlyphs" fill="#1a1a1a" stroke="#1a1a1a">0</text>
<text x="514.05" y="598.00" font-size="10.7" textLength="5.55" lengthAdjust="spacingAndGlyphs" fill="#1a1a1a" stroke="#1a1a1a">8</text>
<text x="514.36" y="645.40" font-size="10.7" textLength="5.24" lengthAdjust="spacingAndGlyphs" fill="#1a1a1a" stroke="#1a1a1a">5</text>
<text x="531.50" y="659.20" font-size="10.7" textLength="5.60" lengthAdjust="spacingAndGlyphs" fill="#1a1a1a" stroke="#1a1a1a">0</text>
<text x="670.19" y="659.20" font-size="10.7" textLength="4.82" lengthAdjust="spacingAndGlyphs" fill="#1a1a1a" stroke="#1a1a1a">1</text>
<text x="0" y="0" font-size="10.9" textLength="33.21" lengthAdjust="spacingAndGlyphs" transform="translate(487.31 575.10) rotate(-90)" fill="#1a1a1a" stroke="#1a1a1a">Count</text>
<text x="0" y="0" font-size="10.9" textLength="7.40" lengthAdjust="spacingAndGlyphs" transform="translate(487.66 620.00) rotate(-90)" font-style="italic" fill="#1a1a1a" stroke="#1a1a1a">g</text>
<text x="563.20" y="669.50" font-size="10.9" textLength="80.61" lengthAdjust="spacingAndGlyphs" fill="#1a1a1a" stroke="#1a1a1a">Max firing rate</text>
<path d="M534.1 580.2V571.8h5.8V580.2ZM541.1 580.2V539h5.8V580.2ZM548.1 580.2V530.2h5.8V580.2ZM555 580.2V542.2h5.8V580.2ZM562 580.2V546.7h5.8V580.2ZM569 580.2V552.2h5.8V580.2ZM576 580.2V554.6h5.8V580.2ZM583 580.2V559h5.8V580.2ZM589.9 580.2V561.9h5.8V580.2ZM596.9 580.2V565h5.8V580.2ZM603.9 580.2V565h5.8V580.2ZM610.9 580.2V566.2h5.8V580.2ZM617.9 580.2V568.7h5.8V580.2ZM624.8 580.2V569.8h5.8V580.2ZM631.8 580.2V570.9h5.8V580.2ZM638.8 580.2V570.9h5.8V580.2ZM645.8 580.2V572.1h5.8V580.2ZM652.8 580.2V573h5.8V580.2ZM659.7 580.2V575.2h5.8V580.2ZM666.7 580.2V578.6h5.8V580.2Z" fill="#708090"/>
<path d="M533.9 593.2C534.9 593.2 537.8 593 540 593C542.2 593 544.8 593.1 547 593.2C549.2 593.3 551.3 593 553 593.6C554.7 594.2 555.4 595.5 557 597C558.6 598.5 560.7 600.9 562.4 602.5C564.1 604.1 565.5 605.3 567 606.5C568.5 607.7 569 607.8 571.7 609.5C574.4 611.2 579.1 614.4 583 616.5C586.9 618.6 591 620.8 595 622.4C599 624 603.1 625.1 607 626.3C610.9 627.5 614.6 628.4 618.4 629.4C622.2 630.4 626.1 631.5 630 632.5C633.9 633.5 637.5 634.4 641.8 635.2C646.1 636.1 650.9 636.9 656 637.6C661.1 638.3 669.5 639.3 672.2 639.6L672.2 641.8C670.2 641.7 665.1 641.8 660 641.3C654.9 640.8 646.8 639.4 641.8 638.6C636.8 637.8 633.9 637.1 630 636.4C626.1 635.6 622.2 635 618.4 634.1C614.6 633.2 610.9 632.3 607 631.3C603.1 630.3 599 629.4 595 628.2C591 627 586.9 625.7 583 624.3C579.1 622.9 575.2 621.4 571.7 620C568.2 618.6 565.1 617.4 562 616C558.9 614.6 555.3 613 553 611.9C550.7 610.8 549.5 610.2 548 609.2C546.5 608.2 545.4 607.5 543.7 606C542 604.5 539.6 602.2 538 600.5C536.4 598.8 534.6 596.3 533.9 595.5Z" fill="#708090"/>
<path d="M579.1 623.9h1M642.8 638.9h1M594.4 621.2h1M600.1 624h1M559.5 598.9h1M592.4 619.7h1M617.4 634.1h1M554.7 594.7h1M536.3 593h1M588.3 627.3h1M617.8 629.2h1M579.4 612.7h1M597.5 630.8h1M541.2 604.2h1M670.5 639.4h1M603.3 631.1h1M596.1 621.6h1M604.4 631.6h1M567.4 618.7h1M618.3 629.3h1M569.4 607h1M589.7 619.5h1M632.8 632.5h1M657 641.3h1M607.3 626.2h1M559.4 598.9h1M599.9 631.4h1M576.9 612.3h1M668.5 641.7h1M596 622.2h1M656.9 637.2h1M621.2 634.7h1M595.1 628.7h1M547.7 610.2h1M661.9 638.2h1M605.1 632.4h1M622 629.5h1M587.3 617.3h1M632.6 637.5h1M630.3 636.5h1M611.3 633.2h1M557 596h1M594.1 621.3h1M633.9 637.7h1M592.9 627.6h1M543.1 592.4h1M664.9 637.7h1M584.3 626.4h1M647.3 640.5h1M646.1 639.6h1M572.2 621.4h1M592.8 619.3h1M671.8 638.2h1M604.9 625.4h1M643.5 634.9h1M659.1 636.6h1M630 631.7h1M640.7 634.1h1M654.4 640.6h1M656.4 641.1h1M605.7 625.8h1M593.8 628.6h1M604.4 630.7h1M614.2 634.1h1M667.9 642.8h1M556.3 613.7h1M541.9 592.1h1M633.3 632.3h1M557 614.7h1M645.8 639.6h1M599.3 629.6h1M633.4 633.1h1M622.8 635.2h1M598.4 631.2h1M635.6 638.6h1M574.4 621.3h1M650.9 636.2h1M615.1 627.4h1M590.7 619.1h1M564.9 603.5h1M593.1 628.8h1M664.2 643.1h1M594.3 622h1M654.2 637h1M653.6 640.7h1M580.3 614.6h1M542.6 605h1M597.6 623.1h1M598.8 630.5h1M607.8 625.7h1M649.5 635.5h1M571.8 609.3h1M590.7 627h1M630.8 632.4h1M618.4 628.5h1M572.2 609.2h1M596.8 628.9h1M607.2 631.8h1M651 636.2h1M648.4 641h1M556.4 595.6h1M616.3 627h1M582.6 624.8h1M562.7 616.9h1M617 627.8h1M642 634.3h1M542.4 592.2h1M635 637.4h1M630.4 637.2h1M563.9 617h1M556.5 595.3h1M570.6 608.7h1M578.6 623.9h1M583.9 616.4h1M534.5 592.7h1M556.1 595.2h1M646.1 640.7h1M635.3 633.5h1M542.2 593h1M589.4 619.4h1M580.4 624.7h1M602.1 624.4h1M605.3 631.7h1M632.7 638h1M630.8 631.4h1M583.8 624.9h1M609.5 632h1M605.7 625.1h1M636.9 638.4h1M598.7 629.4h1M605.1 623.7h1M553.1 592.3h1M656.2 641.8h1M536.1 593h1M664.8 641.8h1M636.9 639h1M609.1 631.9h1M601.3 624.1h1M554.2 594.3h1M618.5 634.6h1M547.8 591.7h1M578.6 613.5h1M620.8 635.1h1M616 633.8h1M571 607.7h1M645.3 635.5h1M542.2 604.9h1M645.2 634.8h1M641.1 633.6h1M607.9 631.8h1M668.1 638.5h1M578.4 612.9h1M567.7 618.9h1M665.5 641.7h1M542.6 592.8h1M654.3 636.8h1M569.8 619.5h1M580.6 624.2h1M586.6 616.7h1M542 604.7h1M641.8 634.1h1M552.7 593.3h1M607.9 625.4h1M658.4 641.6h1M607.5 625.5h1M623.3 635.8h1M626.5 636.7h1M590.7 627.2h1M578.1 623.7h1M612.3 627h1M626.8 637h1M607.2 631.4h1M555.3 594.9h1M591.7 627.9h1M597 628.8h1M538.9 602.2h1M547.1 592.6h1M670 638.6h1M543.5 593.1h1M573.4 620.8h1M582 615.1h1M565.9 617.7h1M623.6 629.8h1M600.2 630h1M637.1 633.8h1M632.4 637h1M561.6 600.8h1M560.4 615.4h1M643.4 634.1h1M662.2 638.2h1M610.7 632.4h1M583.2 624.7h1M587.5 626.3h1M536.6 592h1M588.5 618.8h1M558.9 597h1M555.6 594.2h1M568 618.6h1M552.6 611.8h1M670.9 642.4h1M629.2 637.8h1M666.1 637.6h1M541.4 593h1M645.7 639.8h1M571.9 608.8h1M561.8 601.5h1M629.7 631.1h1M609.5 633.6h1M644.4 639h1M591.3 620.5h1M653.4 641.4h1M542.1 604.6h1M648.7 635.8h1M661.1 636.8h1M614 633.1h1M634.4 637.5h1M591.8 620h1M604.7 631.8h1M657.6 635.9h1M560 599.7h1M648.9 640h1M575.1 621.8h1M649.8 640.7h1M548.5 591.9h1M587.1 626.7h1M565.3 618h1M604.6 625.4h1M550.3 593.3h1M594.4 621.5h1M645.8 633.8h1M557 594.4h1M581.7 614.6h1M654.9 636.2h1M651.2 640.5h1M619.8 628h1M534.6 596.6h1M541.2 591.6h1M590.1 626.9h1M651.7 640.5h1M566.5 617.9h1M636.6 638.1h1M568.7 606.1h1M551.2 611.7h1M554.2 613h1M657.8 641.6h1M664.4 642.1h1M582.3 624.2h1M578.7 613.6h1M637.1 639h1M626.1 636.9h1M649.2 635.4h1M634 637.3h1M626.2 631h1M640.7 638.6h1M663 638.1h1M657.6 637.3h1M555.1 595.2h1M671.2 639.4h1M616.6 628.6h1M563.3 616.6h1" stroke="#708090" stroke-width="1"/>
<text x="0.50" y="696.20" font-size="14.4" textLength="10.70" lengthAdjust="spacingAndGlyphs" font-weight="bold" fill="#000" stroke="#000">K</text>
<line x1="49.3" y1="722.1" x2="49.3" y2="819" stroke="#333" stroke-width="1"/>
<line x1="45.3" y1="722.1" x2="49.3" y2="722.1" stroke="#333" stroke-width="1"/>
<line x1="45.3" y1="819" x2="49.3" y2="819" stroke="#333" stroke-width="1"/>
<text x="17.79" y="726.80" font-size="10.7" textLength="23.01" lengthAdjust="spacingAndGlyphs" fill="#1a1a1a" stroke="#1a1a1a">0.65</text>
<text x="17.79" y="823.70" font-size="10.7" textLength="23.01" lengthAdjust="spacingAndGlyphs" fill="#1a1a1a" stroke="#1a1a1a">0.35</text>
<line x1="55.9" y1="819.4" x2="193" y2="819.4" stroke="#333" stroke-width="1"/>
<line x1="55.9" y1="819.4" x2="55.9" y2="823.4" stroke="#333" stroke-width="1"/>
<line x1="124.6" y1="819.4" x2="124.6" y2="823.4" stroke="#333" stroke-width="1"/>
<line x1="193" y1="819.4" x2="193" y2="823.4" stroke="#333" stroke-width="1"/>
<text x="43.95" y="835.00" font-size="10.7" textLength="23.92" lengthAdjust="spacingAndGlyphs" fill="#1a1a1a" stroke="#1a1a1a">-500</text>
<text x="118.54" y="835.00" font-size="10.7" textLength="12.12" lengthAdjust="spacingAndGlyphs" fill="#1a1a1a" stroke="#1a1a1a">FB</text>
<text x="183.20" y="835.00" font-size="10.7" textLength="19.60" lengthAdjust="spacingAndGlyphs" fill="#1a1a1a" stroke="#1a1a1a">500</text>
<text x="96.90" y="850.60" font-size="10.9" textLength="54.80" lengthAdjust="spacingAndGlyphs" fill="#1a1a1a" stroke="#1a1a1a">Time (ms)</text>
<text x="0" y="0" font-size="10.9" textLength="116.91" lengthAdjust="spacingAndGlyphs" transform="translate(10.90 829.20) rotate(-90)" fill="#1a1a1a" stroke="#1a1a1a">Population firing rate</text>
<path d="M54.5 803.4C55.8 802.7 59.1 801 62 799.2C64.9 797.4 67.9 795.8 72 792.5C76.1 789.2 82 784.9 86.7 779.6C91.4 774.3 95.3 767.3 100 760.6C104.7 753.9 109.7 745 114.6 739.6C119.5 734.2 125.1 730.3 129.2 728.1C133.3 725.9 135.8 726.1 139.4 726.2C143.1 726.3 146.7 726.9 151.1 728.9C155.5 730.9 160.8 735.5 165.7 738.4C170.6 741.3 175.6 744.5 180.3 746.4C185.1 748.3 191.9 749.4 194.2 750" fill="none" stroke="#4d8ee8" stroke-width="4.8" stroke-opacity="0.45"/>
<path d="M54.5 809.3C55.8 808.5 59.1 806.7 62 804.7C64.9 802.7 67.9 800.7 72 797.5C76.1 794.3 82 790.1 86.7 785.5C91.4 780.9 95.3 774.5 100 769.6C104.7 764.7 109.7 759.8 114.6 756.2C119.5 752.6 124.8 749.5 129.2 747.8C133.6 746.1 137.2 746.1 140.9 746.2C144.6 746.3 147 746.4 151.1 748.3C155.2 750.1 160.8 754.3 165.7 757.3C170.6 760.3 175.6 763.9 180.3 766.1C185.1 768.3 191.9 769.8 194.2 770.5" fill="none" stroke="#d9515f" stroke-width="4.8" stroke-opacity="0.42"/>
<path d="M56 801.8L59.3 801.7L59.4 805L56.1 805.1ZM64.5 801.8L67.7 800.8L68.7 804L65.5 805ZM72.2 797.9L75 796.1L76.8 798.9L74 800.7ZM79.2 792.8L81.6 790.6L83.8 793L81.4 795.2ZM85.6 786.5L87.8 784.1L90.2 786.3L88 788.7ZM91.4 779.5L93.6 777.1L96 779.3L93.8 781.7ZM97.3 773.3L99.4 770.8L101.9 772.9L99.8 775.4ZM102.6 766.5L104.5 763.8L107.2 765.7L105.3 768.4ZM107.8 759L109.7 756.3L112.4 758.2L110.5 760.9ZM112.9 751.9L114.9 749.3L117.5 751.3L115.5 753.9ZM118.8 744.5L120.9 742L123.4 744.1L121.3 746.6ZM124.6 737.6L126.9 735.3L129.2 737.6L126.9 739.9ZM131.1 731.1L133.8 729.2L135.7 731.9L133 733.8ZM139.6 725.6L142.8 724.8L143.6 728L140.4 728.8ZM148.7 725.4L151.9 726.4L150.9 729.6L147.7 728.6ZM157.8 729.9L160.3 732L158.2 734.5L155.7 732.4ZM164.5 736.9L166.6 739.4L164.1 741.5L162 739ZM170.3 743.9L172.4 746.4L169.9 748.5L167.8 746ZM176.3 750.9L178.5 753.3L176.1 755.5L173.9 753.1ZM181.9 757.2L184.1 759.6L181.7 761.8L179.5 759.4ZM187.8 763.8L189.9 766.3L187.4 768.4L185.3 765.9Z" fill="#1414f0"/>
<path d="M56.3 807.7L59.6 808.2L59.1 811.5L55.8 811ZM64.8 809.3L68.1 809.4L68 812.7L64.7 812.6ZM73.5 809.1L76.8 808.4L77.5 811.7L74.2 812.4ZM81.8 806.6L84.7 805.1L86.2 808L83.3 809.5ZM88.7 801.8L91.1 799.6L93.3 802L90.9 804.2ZM95.2 795.4L97.4 793L99.8 795.2L97.6 797.6ZM100.8 788.6L102.8 786L105.4 788L103.4 790.6ZM106.1 781.2L108 778.5L110.7 780.4L108.8 783.1ZM111.3 773.8L113.3 771.2L115.9 773.2L113.9 775.8ZM116.7 766.8L118.7 764.2L121.3 766.2L119.3 768.8ZM121.8 759.7L123.9 757.2L126.4 759.3L124.3 761.8ZM127.7 752.9L130.3 750.9L132.3 753.5L129.7 755.5ZM136.1 747.2L139.4 746.5L140.1 749.8L136.8 750.5ZM145.5 747.5L148.5 748.9L147.1 751.9L144.1 750.5ZM153.9 753.2L156.3 755.4L154.1 757.8L151.7 755.6ZM160 760.3L162.1 762.8L159.6 764.9L157.5 762.4ZM165.7 767.3L167.7 769.9L165.1 771.9L163.1 769.3ZM171.1 774.7L173.1 777.3L170.5 779.3L168.5 776.7ZM176.8 782L179 784.4L176.6 786.6L174.4 784.2ZM182.7 788.3L185.3 790.3L183.3 792.9L180.7 790.9ZM190.2 793L193 794.8L191.2 797.6L188.4 795.8Z" fill="#f01e1e"/>
<rect x="60.1" y="694.9" width="2.8" height="2.8" fill="#1414f0"/>
<rect x="60.1" y="711" width="2.8" height="2.8" fill="#f01e1e"/>
<line x1="57.8" y1="728.7" x2="67.4" y2="728.7" stroke="#aac8f0" stroke-width="4.6"/>
<line x1="57.8" y1="745.3" x2="67.4" y2="745.3" stroke="#ebb3b8" stroke-width="4.6"/>
<text x="71.80" y="700.10" font-size="10.9" textLength="38.85" lengthAdjust="spacingAndGlyphs" fill="#1a1a1a" stroke="#1a1a1a">Emp-Pr</text>
<text x="71.80" y="716.40" font-size="10.9" textLength="41.58" lengthAdjust="spacingAndGlyphs" fill="#1a1a1a" stroke="#1a1a1a">Emp-Ab</text>
<text x="71.80" y="732.60" font-size="10.9" textLength="32.27" lengthAdjust="spacingAndGlyphs" fill="#1a1a1a" stroke="#1a1a1a">SBI-Pr</text>
<text x="71.80" y="748.90" font-size="10.9" textLength="35.00" lengthAdjust="spacingAndGlyphs" fill="#1a1a1a" stroke="#1a1a1a">SBI-Ab</text>
<text x="243.40" y="696.20" font-size="14.4" textLength="7.50" lengthAdjust="spacingAndGlyphs" font-weight="bold" fill="#000" stroke="#000">L</text>
<line x1="289.4" y1="722.2" x2="289.4" y2="819.3" stroke="#333" stroke-width="1"/>
<line x1="285.4" y1="722.2" x2="289.4" y2="722.2" stroke="#333" stroke-width="1"/>
<line x1="285.4" y1="819.3" x2="289.4" y2="819.3" stroke="#333" stroke-width="1"/>
<text x="264.89" y="726.90" font-size="10.7" textLength="15.91" lengthAdjust="spacingAndGlyphs" fill="#1a1a1a" stroke="#1a1a1a">6.5</text>
<text x="264.74" y="824.00" font-size="10.7" textLength="16.06" lengthAdjust="spacingAndGlyphs" fill="#1a1a1a" stroke="#1a1a1a">5.0</text>
<text x="0" y="0" font-size="10.9" textLength="96.00" lengthAdjust="spacingAndGlyphs" transform="translate(251.90 818.50) rotate(-90)" fill="#1a1a1a" stroke="#1a1a1a" stroke-width="0">Posterior <tspan font-style="italic">g</tspan> (pooled)</text>
<rect x="296.4" y="808.7" width="60.4" height="9.4" fill="#5598ec" stroke="#444" stroke-width="1.2"/>
<line x1="326.6" y1="793" x2="326.6" y2="808.7" stroke="#444" stroke-width="1.1"/>
<rect x="371.5" y="788.3" width="59.9" height="29.8" fill="#c72d49" stroke="#444" stroke-width="1.2"/>
<line x1="371.5" y1="810.4" x2="431.4" y2="810.4" stroke="#444" stroke-width="1.2"/>
<line x1="401.6" y1="742.9" x2="401.6" y2="788.3" stroke="#444" stroke-width="1.1"/>
<path d="M326.6 738.8V736.8H401.6V738.8" fill="none" stroke="#444" stroke-width="1.1"/>
<text x="328.10" y="732.90" font-size="11.2" textLength="45.71" lengthAdjust="spacingAndGlyphs" fill="#1a1a1a" stroke="#1a1a1a">WS: 0.2,</text>
<path d="M381.2 725.35V729.85M379.25 726.48L383.15 728.73M379.25 728.73L383.15 726.48M386.8 725.35V729.85M384.85 726.48L388.75 728.73M384.85 728.73L388.75 726.48M392.4 725.35V729.85M390.45 726.48L394.35 728.73M390.45 728.73L394.35 726.48M398 725.35V729.85M396.05 726.48L399.95 728.73M396.05 728.73L399.95 726.48" fill="none" stroke="#2a2a2a" stroke-width="0.85"/>
<circle cx="381.20" cy="727.6" r="0.75" fill="#2a2a2a"/>
<circle cx="386.80" cy="727.6" r="0.75" fill="#2a2a2a"/>
<circle cx="392.40" cy="727.6" r="0.75" fill="#2a2a2a"/>
<circle cx="398.00" cy="727.6" r="0.75" fill="#2a2a2a"/>
<text x="475.10" y="696.20" font-size="14.4" textLength="12.80" lengthAdjust="spacingAndGlyphs" font-weight="bold" fill="#000" stroke="#000">M</text>
<line x1="529.4" y1="722.2" x2="529.4" y2="819.3" stroke="#333" stroke-width="1"/>
<line x1="525.4" y1="722.2" x2="529.4" y2="722.2" stroke="#333" stroke-width="1"/>
<line x1="525.4" y1="819.3" x2="529.4" y2="819.3" stroke="#333" stroke-width="1"/>
<text x="504.89" y="726.90" font-size="10.7" textLength="15.91" lengthAdjust="spacingAndGlyphs" fill="#1a1a1a" stroke="#1a1a1a">6.5</text>
<text x="504.97" y="824.00" font-size="10.7" textLength="15.83" lengthAdjust="spacingAndGlyphs" fill="#1a1a1a" stroke="#1a1a1a">5.5</text>
<text x="0" y="0" font-size="10.9" textLength="102.20" lengthAdjust="spacingAndGlyphs" transform="translate(491.90 822.00) rotate(-90)" fill="#1a1a1a" stroke="#1a1a1a" stroke-width="0">Posterior <tspan font-style="italic">g</tspan> (average)</text>
<path d="M552.6 779.8C552.5 780.7 552.6 783.4 552.3 785C552 786.6 551.9 788.1 551 789.5C550.1 790.9 548.8 792.3 547 793.5C545.2 794.7 542.2 795.8 540 796.8C537.8 797.8 535.3 798.5 534 799.3C532.7 800.1 532.1 800.7 532 801.5C531.9 802.3 532.5 803.1 533.5 804C534.5 804.9 536.2 806 538 807C539.8 808 542.2 809 544 810C545.8 811 547.7 812 549 813C550.3 814 551.2 815.3 551.8 816C552.4 816.7 552.5 817 552.6 817.2Z" fill="#5598ec" stroke="#333" stroke-width="1.1"/>
<path d="M636.2 743.8C636.2 745.7 636.2 752 636.1 755C636 758 636.1 759.8 635.8 762C635.5 764.2 635.5 766.5 634.5 768.5C633.5 770.5 631.9 772.1 630 774C628.1 775.9 625.1 778.2 623 780C620.9 781.8 618.8 783.6 617.5 785C616.2 786.4 615.2 787.4 615.2 788.5C615.2 789.6 616.1 790.3 617.5 791.5C618.9 792.7 621.4 794.1 623.5 795.5C625.6 796.9 628.2 798.5 630 800C631.8 801.5 633.5 803.1 634.5 804.5C635.5 805.9 635.9 807.9 636.2 808.6Z" fill="#c72d49" stroke="#333" stroke-width="1.1"/>
<rect x="557.9" y="797.8" width="25.7" height="8.5" fill="#fff"/>
<path d="M1126 1598h2M1140 1613h2M1125 1616h2M1130 1616h2M1134 1621h2M1158 1631h2M1131 1595h2M1127 1611h2M1134 1613h2M1153 1600h2M1142 1598h2M1145 1605h2M1159 1600h2M1129 1585h2M1148 1617h2M1148 1595h2M1125 1592h2M1146 1618h2M1147 1614h2M1145 1627h2M1138 1572h2M1125 1614h2M1127 1610h2M1152 1585h2M1136 1617h2M1125 1593h2M1150 1594h2M1146 1587h2M1146 1593h2M1147 1594h2M1153 1606h2M1138 1604h2M1148 1613h2M1146 1616h2M1158 1600h2M1138 1634h2M1140 1584h2M1132 1601h2M1147 1613h2M1135 1600h2M1154 1610h2M1126 1601h2M1157 1605h2M1154 1597h2M1132 1610h2M1132 1588h2M1148 1614h2M1126 1608h2M1126 1614h2M1140 1596h2M1124 1614h2M1124 1605h2M1144 1587h2M1127 1618h2M1137 1618h2M1134 1608h2M1125 1605h2M1156 1596h2M1128 1629h2M1148 1613h2M1129 1586h2M1139 1606h2M1146 1597h2M1132 1630h2M1155 1628h2M1155 1608h2M1135 1592h2M1147 1612h2M1136 1578h2M1156 1608h2M1143 1600h2M1151 1605h2M1132 1603h2M1158 1587h2M1137 1626h2M1141 1599h2M1157 1608h2M1138 1631h2M1146 1609h2M1142 1599h2M1138 1598h2M1158 1620h2M1127 1622h2M1143 1615h2M1158 1618h2M1156 1593h2M1136 1579h2M1140 1589h2M1146 1593h2M1125 1604h2M1129 1619h2M1154 1607h2M1131 1611h2M1145 1575h2M1139 1588h2M1158 1591h2M1156 1581h2M1149 1613h2M1133 1600h2M1153 1591h2M1137 1602h2M1141 1606h2M1152 1604h2M1133 1626h2M1143 1602h2M1158 1586h2M1148 1627h2M1129 1614h2M1133 1617h2M1156 1590h2M1133 1601h2M1136 1619h2M1136 1613h2M1138 1614h2M1124 1620h2M1156 1625h2M1152 1604h2M1151 1578h2M1158 1606h2M1138 1610h2M1133 1609h2M1153 1616h2M1133 1605h2M1143 1597h2M1147 1613h2M1137 1583h2M1139 1621h2M1135 1617h2M1155 1589h2M1151 1602h2M1149 1562h2M1130 1615h2M1133 1620h2M1157 1607h2M1157 1624h2M1139 1614h2M1145 1593h2M1133 1616h2M1125 1620h2M1126 1596h2M1131 1605h2M1136 1619h2M1129 1632h2M1137 1602h2M1134 1595h2M1152 1611h2M1156 1595h2M1127 1628h2M1144 1610h2M1147 1601h2M1144 1586h2M1124 1576h2M1141 1588h2M1132 1601h2M1124 1609h2M1130 1596h2M1138 1593h2M1151 1595h2M1132 1604h2M1135 1589h2M1126 1612h2M1149 1616h2M1132 1602h2M1149 1608h2M1139 1590h2M1136 1606h2M1157 1601h2M1137 1590h2M1135 1618h2M1135 1624h2M1146 1602h2M1150 1603h2M1135 1623h2M1130 1584h2M1158 1614h2M1134 1581h2M1127 1604h2M1150 1607h2M1140 1608h2M1155 1620h2M1136 1619h2M1138 1608h2M1143 1598h2M1147 1604h2M1142 1611h2M1155 1605h2M1135 1617h2M1139 1612h2M1149 1594h2M1138 1582h2M1142 1620h2M1152 1595h2M1137 1565h2M1138 1598h2M1130 1618h2M1158 1621h2M1138 1609h2M1150 1605h2M1149 1597h2M1148 1603h2M1148 1581h2M1157 1590h2M1126 1601h2M1158 1586h2M1143 1589h2M1146 1587h2M1136 1591h2M1140 1590h2M1130 1610h2M1128 1608h2M1150 1566h2M1141 1603h2M1125 1622h2M1154 1600h2M1134 1630h2M1126 1618h2M1158 1593h2M1140 1604h2M1158 1621h2M1145 1601h2M1149 1612h2M1140 1597h2M1145 1609h2M1131 1623h2M1135 1629h2M1154 1620h2M1128 1613h2M1151 1613h2M1145 1569h2M1144 1604h2M1138 1609h2M1154 1607h2M1157 1588h2M1134 1590h2M1145 1614h2M1152 1577h2M1153 1597h2M1157 1622h2M1156 1624h2M1148 1617h2M1152 1606h2M1149 1610h2M1148 1599h2M1130 1622h2M1149 1634h2M1153 1575h2M1155 1625h2M1146 1594h2M1128 1607h2M1133 1590h2M1139 1627h2M1138 1603h2M1136 1578h2M1141 1591h2M1157 1624h2M1145 1617h2M1145 1618h2M1151 1607h2M1142 1623h2M1156 1577h2M1137 1606h2M1148 1600h2M1148 1587h2M1149 1608h2M1140 1608h2M1159 1613h2M1147 1610h2M1154 1591h2M1127 1602h2M1150 1606h2M1126 1628h2M1124 1614h2M1144 1614h2M1149 1612h2M1139 1617h2M1151 1599h2M1147 1619h2M1136 1595h2M1151 1610h2M1127 1617h2M1139 1613h2M1137 1566h2M1127 1609h2M1149 1615h2M1149 1600h2M1141 1592h2M1147 1572h2M1136 1621h2M1132 1605h2M1149 1600h2M1130 1617h2M1151 1610h2M1131 1598h2M1142 1594h2M1150 1603h2M1156 1613h2M1141 1602h2M1136 1613h2M1134 1630h2M1136 1614h2M1125 1607h2M1134 1598h2M1149 1597h2M1132 1587h2M1148 1600h2M1128 1589h2M1149 1579h2M1128 1601h2M1137 1601h2M1145 1606h2M1133 1599h2M1148 1591h2M1159 1633h2M1144 1619h2M1125 1590h2M1151 1577h2M1144 1575h2M1140 1615h2M1140 1589h2M1143 1624h2M1155 1596h2M1152 1606h2M1127 1596h2M1137 1608h2M1127 1620h2M1158 1597h2M1141 1593h2M1156 1596h2M1124 1585h2M1158 1606h2M1129 1599h2M1145 1613h2M1141 1625h2M1152 1610h2M1139 1613h2M1148 1623h2M1144 1592h2M1144 1598h2M1153 1609h2M1128 1630h2M1154 1594h2M1148 1594h2M1133 1602h2M1142 1600h2M1147 1564h2M1154 1605h2M1137 1609h2M1144 1619h2M1129 1609h2M1144 1592h2M1136 1608h2M1151 1613h2M1125 1615h2M1130 1592h2M1145 1598h2M1155 1625h2M1139 1606h2M1129 1625h2M1153 1595h2M1154 1612h2M1139 1606h2M1153 1591h2M1140 1570h2M1144 1596h2M1152 1560h2M1143 1607h2M1139 1619h2M1142 1578h2M1146 1595h2M1154 1580h2M1155 1610h2M1136 1585h2M1142 1571h2M1133 1622h2M1133 1565h2M1151 1579h2M1135 1630h2M1153 1565h2M1135 1609h2M1139 1611h2M1127 1577h2M1135 1585h2M1126 1612h2M1135 1626h2M1147 1610h2M1134 1617h2M1154 1611h2M1156 1602h2M1139 1612h2M1159 1618h2M1150 1587h2M1158 1612h2M1142 1568h2M1124 1608h2M1129 1620h2M1152 1628h2M1155 1629h2M1128 1612h2M1143 1592h2M1141 1605h2M1154 1586h2M1145 1589h2M1126 1613h2M1153 1592h2M1146 1610h2M1139 1580h2M1154 1588h2M1148 1576h2M1134 1586h2M1156 1622h2M1157 1586h2M1136 1626h2M1149 1616h2M1158 1579h2M1142 1602h2M1138 1589h2M1126 1611h2M1138 1620h2M1124 1602h2M1155 1606h2M1132 1623h2M1143 1602h2M1155 1575h2M1153 1604h2M1138 1599h2M1141 1607h2M1145 1594h2M1146 1617h2M1159 1595h2M1155 1604h2M1140 1620h2M1140 1586h2M1154 1619h2M1129 1612h2M1129 1617h2M1150 1603h2M1132 1591h2M1124 1615h2M1152 1610h2M1147 1598h2M1145 1609h2M1146 1624h2M1154 1589h2M1140 1606h2M1136 1619h2M1156 1618h2M1146 1599h2M1151 1589h2M1143 1610h2M1130 1599h2M1156 1617h2M1140 1597h2M1130 1633h2M1133 1605h2M1125 1589h2M1130 1608h2M1126 1583h2M1130 1586h2M1151 1594h2M1149 1586h2M1137 1574h2M1135 1607h2M1132 1580h2M1130 1591h2M1126 1571h2M1125 1605h2M1150 1606h2M1127 1592h2M1156 1600h2M1134 1594h2M1133 1606h2M1142 1619h2M1158 1599h2M1153 1607h2M1149 1610h2M1146 1598h2M1139 1613h2M1153 1598h2M1146 1633h2M1131 1616h2M1129 1595h2M1155 1615h2M1147 1580h2M1129 1590h2M1125 1586h2M1146 1619h2M1128 1594h2M1150 1612h2M1130 1605h2M1143 1580h2M1132 1568h2M1127 1595h2M1131 1588h2M1149 1588h2M1144 1599h2M1140 1605h2M1153 1576h2M1135 1586h2M1139 1629h2M1141 1584h2M1157 1615h2M1134 1578h2M1146 1578h2M1144 1616h2M1144 1592h2M1128 1623h2M1152 1611h2M1157 1603h2M1132 1608h2M1142 1601h2M1141 1589h2M1134 1615h2M1134 1606h2M1139 1605h2M1143 1607h2M1130 1605h2M1130 1621h2M1153 1627h2M1158 1595h2M1130 1605h2M1132 1622h2M1150 1618h2M1129 1628h2M1147 1623h2M1126 1610h2M1154 1584h2M1142 1584h2M1134 1607h2M1149 1619h2M1124 1584h2M1146 1573h2M1130 1594h2M1148 1578h2M1135 1611h2M1134 1599h2M1151 1596h2M1153 1595h2M1141 1615h2M1144 1597h2M1154 1606h2M1133 1623h2M1139 1610h2M1125 1589h2M1136 1621h2M1150 1623h2M1134 1605h2M1126 1607h2M1136 1573h2M1125 1627h2M1158 1599h2M1141 1603h2M1126 1596h2M1157 1621h2M1150 1617h2M1159 1616h2M1148 1612h2M1151 1615h2M1151 1598h2M1134 1603h2M1152 1615h2M1138 1603h2M1157 1574h2M1146 1595h2M1134 1607h2M1155 1611h2M1155 1605h2M1151 1608h2M1143 1601h2M1141 1584h2M1143 1593h2M1154 1599h2M1135 1605h2M1156 1579h2M1135 1607h2M1140 1593h2M1158 1620h2M1140 1604h2M1125 1610h2M1149 1583h2M1132 1578h2M1153 1577h2M1158 1622h2M1140 1621h2M1155 1599h2M1126 1598h2M1150 1608h2M1148 1607h2M1155 1595h2M1151 1603h2M1124 1581h2M1154 1611h2M1128 1596h2M1145 1596h2M1129 1602h2M1138 1601h2M1157 1607h2M1139 1614h2M1153 1601h2M1143 1601h2M1149 1629h2M1135 1626h2M1142 1612h2M1150 1583h2M1130 1592h2M1155 1616h2M1150 1625h2M1150 1601h2M1132 1621h2M1152 1609h2M1135 1617h2M1147 1590h2M1152 1588h2M1126 1630h2M1158 1603h2M1151 1592h2M1150 1606h2M1153 1603h2M1154 1626h2M1144 1596h2M1141 1597h2M1134 1594h2M1124 1618h2M1138 1610h2M1152 1623h2M1130 1612h2M1131 1590h2M1148 1593h2M1155 1594h2M1127 1603h2M1154 1630h2M1157 1618h2M1132 1592h2M1125 1624h2M1137 1611h2M1129 1614h2M1139 1622h2M1154 1599h2M1129 1621h2M1128 1591h2M1157 1607h2M1158 1618h2M1135 1575h2M1157 1601h2M1153 1608h2M1151 1601h2M1125 1592h2M1143 1622h2M1124 1607h2M1132 1633h2M1143 1611h2M1125 1610h2M1155 1570h2M1126 1605h2M1134 1581h2M1140 1610h2M1140 1613h2M1154 1590h2M1129 1615h2M1153 1598h2M1131 1622h2M1132 1621h2M1150 1613h2M1142 1596h2M1157 1597h2M1149 1588h2M1157 1611h2M1143 1578h2M1138 1561h2M1142 1606h2M1137 1615h2M1133 1623h2M1143 1629h2M1138 1596h2M1156 1593h2M1158 1584h2M1139 1628h2M1142 1619h2M1148 1588h2M1154 1616h2M1127 1616h2M1127 1620h2M1144 1620h2M1131 1621h2M1147 1613h2M1147 1612h2M1144 1616h2M1129 1598h2M1129 1599h2M1143 1635h2M1152 1582h2M1144 1619h2M1130 1608h2M1125 1610h2M1133 1603h2M1136 1591h2M1138 1610h2M1155 1628h2M1129 1604h2M1144 1598h2M1132 1632h2M1140 1623h2M1143 1586h2M1133 1592h2M1156 1617h2M1149 1590h2M1155 1626h2M1151 1609h2M1145 1586h2M1149 1587h2M1140 1615h2M1153 1619h2M1157 1606h2M1132 1616h2M1144 1592h2M1157 1598h2M1128 1587h2M1147 1590h2M1159 1614h2M1145 1629h2M1154 1602h2M1144 1587h2M1139 1611h2M1125 1576h2M1127 1591h2M1149 1616h2M1143 1591h2M1147 1615h2M1157 1591h2M1124 1592h2M1132 1631h2M1142 1592h2M1151 1569h2M1146 1610h2M1145 1583h2M1142 1607h2M1158 1621h2M1141 1591h2M1151 1600h2M1155 1598h2M1130 1614h2M1137 1599h2M1129 1612h2M1134 1628h2M1151 1612h2M1148 1584h2M1131 1611h2M1156 1617h2M1147 1628h2M1127 1616h2M1146 1574h2M1137 1602h2M1141 1613h2M1128 1578h2M1136 1626h2M1156 1580h2M1139 1582h2M1153 1619h2M1147 1587h2M1137 1602h2M1155 1609h2M1129 1606h2M1127 1591h2M1155 1596h2M1144 1594h2M1137 1604h2M1154 1593h2M1136 1596h2M1154 1607h2M1128 1630h2M1146 1593h2M1147 1593h2M1135 1594h2M1142 1618h2M1149 1601h2M1125 1591h2M1132 1610h2M1141 1607h2M1138 1615h2M1143 1583h2M1136 1604h2M1139 1618h2M1130 1602h2M1153 1592h2M1153 1590h2M1126 1633h2M1133 1593h2M1154 1627h2M1124 1614h2M1151 1628h2M1131 1610h2M1127 1610h2M1152 1627h2M1150 1569h2M1132 1598h2M1145 1597h2M1152 1583h2M1132 1594h2M1134 1582h2M1157 1584h2M1156 1601h2M1145 1613h2M1142 1620h2M1156 1603h2M1146 1607h2M1133 1586h2M1143 1614h2M1130 1616h2M1133 1612h2M1155 1589h2M1148 1596h2M1141 1592h2M1137 1599h2M1132 1588h2M1134 1614h2M1148 1621h2M1128 1589h2M1130 1602h2M1132 1590h2M1148 1623h2M1146 1606h2M1148 1582h2M1130 1591h2M1145 1588h2M1158 1599h2M1159 1617h2M1125 1617h2M1149 1615h2M1140 1624h2M1130 1602h2M1151 1606h2M1143 1605h2M1129 1613h2M1129 1608h2M1148 1621h2M1157 1595h2M1133 1616h2M1127 1600h2M1144 1591h2M1134 1610h2M1153 1588h2M1126 1617h2M1147 1600h2M1152 1604h2M1150 1597h2M1131 1606h2M1132 1604h2M1130 1585h2M1151 1592h2M1156 1594h2M1128 1611h2M1131 1583h2M1136 1613h2M1133 1621h2M1138 1597h2M1135 1606h2M1149 1598h2M1135 1615h2M1148 1589h2M1153 1579h2M1149 1610h2M1135 1600h2M1146 1623h2M1137 1593h2M1158 1629h2M1151 1609h2M1157 1591h2M1156 1592h2M1139 1602h2M1148 1594h2M1142 1595h2M1138 1587h2M1138 1602h2M1146 1599h2M1126 1629h2M1137 1619h2M1153 1604h2M1135 1596h2M1153 1597h2M1148 1607h2M1127 1581h2M1150 1624h2M1143 1605h2M1141 1603h2M1132 1606h2M1127 1607h2M1133 1613h2M1141 1598h2M1144 1614h2M1152 1586h2M1149 1579h2M1138 1620h2M1155 1588h2M1154 1573h2M1137 1610h2M1142 1635h2M1135 1624h2M1150 1614h2M1154 1606h2M1142 1621h2M1134 1589h2M1156 1580h2M1151 1627h2M1132 1611h2M1143 1621h2M1159 1596h2M1156 1612h2M1138 1592h2M1126 1622h2M1142 1606h2M1152 1615h2M1145 1577h2M1140 1594h2M1129 1597h2M1145 1599h2M1155 1588h2M1146 1583h2M1127 1586h2M1142 1615h2M1147 1585h2M1129 1616h2M1126 1612h2M1125 1614h2M1133 1603h2M1155 1598h2M1124 1597h2M1148 1602h2M1132 1612h2M1158 1591h2M1152 1591h2M1150 1607h2M1153 1600h2M1147 1616h2M1155 1601h2M1125 1579h2M1152 1593h2M1153 1613h2M1139 1577h2M1149 1623h2M1148 1613h2M1143 1614h2M1147 1617h2M1132 1615h2M1147 1591h2M1129 1604h2M1133 1587h2M1130 1624h2M1130 1629h2M1143 1603h2M1157 1601h2M1154 1631h2M1158 1620h2M1154 1577h2M1134 1610h2M1143 1591h2M1136 1600h2M1129 1612h2M1128 1613h2M1131 1565h2M1147 1600h2M1144 1596h2M1149 1589h2M1153 1606h2M1130 1603h2M1152 1602h2M1149 1609h2M1126 1596h2M1154 1593h2M1125 1595h2M1143 1610h2M1133 1590h2M1151 1597h2M1125 1606h2M1151 1613h2M1145 1595h2M1138 1603h2M1143 1603h2M1129 1595h2M1155 1606h2M1156 1604h2M1154 1612h2M1129 1592h2M1156 1582h2M1129 1604h2M1147 1585h2M1154 1604h2M1137 1606h2M1148 1593h2M1138 1567h2M1138 1592h2M1148 1597h2M1129 1618h2M1135 1575h2M1130 1595h2M1146 1602h2M1150 1625h2M1152 1611h2M1134 1626h2M1143 1602h2M1126 1583h2M1157 1619h2M1136 1595h2M1151 1598h2M1157 1594h2M1145 1604h2M1134 1580h2M1158 1609h2M1155 1599h2M1131 1602h2M1146 1582h2M1139 1624h2M1140 1594h2M1131 1588h2M1133 1610h2M1146 1609h2M1137 1620h2M1145 1614h2M1142 1621h2M1124 1613h2M1159 1579h2M1142 1602h2M1146 1634h2M1145 1599h2M1137 1609h2M1126 1595h2M1145 1597h2M1130 1594h2M1141 1601h2M1153 1587h2M1124 1576h2M1144 1626h2M1153 1582h2M1156 1622h2M1141 1597h2M1130 1630h2M1132 1588h2M1146 1589h2M1135 1622h2M1156 1590h2M1136 1603h2M1137 1616h2M1127 1631h2M1158 1581h2M1129 1611h2M1126 1601h2M1128 1610h2M1156 1600h2M1127 1623h2M1136 1593h2M1133 1603h2M1154 1581h2M1133 1593h2M1124 1607h2M1148 1602h2M1139 1598h2M1150 1580h2M1136 1618h2M1125 1591h2M1128 1599h2M1149 1607h2M1124 1607h2M1134 1592h2M1144 1620h2M1132 1628h2M1158 1603h2M1138 1629h2M1150 1597h2M1129 1614h2M1158 1603h2M1144 1598h2M1132 1593h2M1130 1602h2M1147 1614h2M1125 1590h2M1143 1595h2M1151 1559h2M1132 1557h2" stroke="#4d9bf5" stroke-width="2" transform="scale(.5)"/>
<line x1="571" y1="785.8" x2="571" y2="797.8" stroke="#4a4a4a" stroke-width="1.3"/>
<line x1="571" y1="806.3" x2="571" y2="817.7" stroke="#4a4a4a" stroke-width="1.3"/>
<line x1="571" y1="785.8" x2="571" y2="785.8" stroke="#4a4a4a" stroke-width="1.3"/>
<line x1="571" y1="817.7" x2="571" y2="817.7" stroke="#4a4a4a" stroke-width="1.3"/>
<rect x="557.9" y="797.8" width="25.7" height="8.5" fill="none" stroke="#4a4a4a" stroke-width="1.3"/>
<line x1="557.9" y1="802.1" x2="583.6" y2="802.1" stroke="#4a4a4a" stroke-width="1.3"/>
<rect x="641.4" y="782.3" width="25.5" height="8.8" fill="#fff"/>
<path d="M1311 1590h2M1302 1574h2M1325 1562h2M1314 1604h2M1307 1537h2M1310 1563h2M1323 1598h2M1310 1566h2M1296 1570h2M1299 1562h2M1323 1597h2M1307 1576h2M1325 1564h2M1293 1586h2M1302 1584h2M1293 1589h2M1314 1564h2M1326 1585h2M1301 1560h2M1316 1582h2M1295 1552h2M1301 1559h2M1300 1609h2M1324 1568h2M1326 1598h2M1308 1562h2M1320 1572h2M1319 1582h2M1304 1580h2M1304 1573h2M1297 1574h2M1295 1562h2M1320 1552h2M1323 1582h2M1319 1575h2M1292 1575h2M1292 1577h2M1299 1570h2M1314 1564h2M1308 1567h2M1323 1567h2M1302 1544h2M1311 1599h2M1321 1592h2M1311 1592h2M1324 1580h2M1297 1584h2M1302 1567h2M1318 1571h2M1325 1569h2M1299 1555h2M1297 1563h2M1302 1559h2M1316 1554h2M1307 1575h2M1302 1555h2M1295 1577h2M1299 1576h2M1311 1562h2M1303 1562h2M1305 1539h2M1298 1571h2M1303 1573h2M1296 1604h2M1306 1580h2M1296 1543h2M1312 1602h2M1293 1585h2M1313 1592h2M1303 1576h2M1313 1562h2M1296 1554h2M1302 1597h2M1301 1543h2M1303 1588h2M1311 1599h2M1325 1588h2M1292 1595h2M1299 1563h2M1294 1573h2M1318 1582h2M1308 1582h2M1323 1608h2M1309 1554h2M1314 1559h2M1320 1581h2M1294 1576h2M1296 1573h2M1325 1580h2M1296 1557h2M1299 1565h2M1292 1587h2M1321 1610h2M1307 1602h2M1304 1566h2M1305 1578h2M1316 1593h2M1322 1561h2M1315 1581h2M1299 1569h2M1308 1581h2M1314 1580h2M1297 1570h2M1298 1587h2M1300 1583h2M1300 1564h2M1295 1598h2M1293 1559h2M1316 1567h2M1292 1594h2M1301 1594h2M1305 1578h2M1302 1565h2M1301 1592h2M1323 1584h2M1312 1548h2M1302 1577h2M1292 1568h2M1299 1579h2M1316 1573h2M1316 1570h2M1321 1576h2M1311 1561h2M1294 1554h2M1300 1573h2M1301 1543h2M1301 1560h2M1298 1598h2M1302 1581h2M1292 1558h2M1322 1541h2M1324 1578h2M1292 1570h2M1326 1554h2M1308 1560h2M1296 1564h2M1316 1546h2M1298 1568h2M1321 1579h2M1301 1600h2M1305 1555h2M1307 1609h2M1324 1565h2M1326 1582h2M1320 1578h2M1318 1588h2M1304 1573h2M1314 1536h2M1309 1579h2M1291 1563h2M1311 1599h2M1315 1561h2M1316 1578h2M1316 1541h2M1305 1553h2M1310 1593h2M1312 1551h2M1323 1585h2M1318 1573h2M1298 1606h2M1293 1578h2M1312 1586h2M1296 1578h2M1319 1596h2M1312 1542h2M1317 1585h2M1320 1546h2M1319 1551h2M1308 1555h2M1325 1603h2M1316 1569h2M1315 1581h2M1310 1571h2M1311 1602h2M1298 1609h2M1308 1568h2M1305 1589h2M1299 1556h2M1299 1549h2M1304 1581h2M1314 1579h2M1317 1569h2M1292 1600h2M1323 1545h2M1323 1545h2M1298 1578h2M1320 1574h2M1299 1561h2M1297 1592h2M1302 1560h2M1311 1583h2M1321 1577h2M1297 1552h2M1317 1590h2M1307 1548h2M1323 1572h2M1315 1561h2M1305 1571h2M1307 1551h2M1299 1577h2M1317 1589h2M1307 1581h2M1325 1587h2M1298 1549h2M1310 1589h2M1318 1543h2M1301 1595h2M1309 1544h2M1321 1598h2M1320 1563h2M1326 1586h2M1299 1589h2M1322 1569h2M1301 1590h2M1311 1603h2M1298 1592h2M1292 1570h2M1293 1551h2M1291 1556h2M1321 1594h2M1316 1589h2M1298 1582h2M1309 1568h2M1322 1556h2M1313 1583h2M1321 1580h2M1301 1585h2M1323 1577h2M1305 1558h2M1307 1589h2M1305 1550h2M1303 1599h2M1310 1551h2M1323 1555h2M1301 1590h2M1309 1544h2M1299 1538h2M1306 1557h2M1296 1553h2M1310 1574h2M1318 1570h2M1320 1591h2M1307 1578h2M1313 1588h2M1321 1564h2M1320 1566h2M1316 1562h2M1292 1571h2M1294 1582h2M1299 1582h2M1318 1568h2M1315 1559h2M1293 1587h2M1318 1568h2M1301 1579h2M1311 1554h2M1323 1570h2M1322 1543h2M1315 1581h2M1322 1572h2M1324 1560h2M1322 1569h2M1298 1562h2M1316 1571h2M1298 1582h2M1299 1602h2M1318 1576h2M1300 1564h2M1295 1579h2M1292 1553h2M1319 1582h2M1322 1573h2M1326 1562h2M1322 1593h2M1301 1553h2M1317 1573h2M1323 1576h2M1305 1586h2M1312 1581h2M1320 1562h2M1299 1582h2M1324 1601h2M1321 1582h2M1305 1542h2M1325 1592h2M1303 1572h2M1295 1571h2M1300 1558h2M1301 1590h2M1293 1573h2M1315 1583h2M1294 1566h2M1306 1548h2M1323 1574h2M1296 1563h2M1305 1533h2M1302 1572h2M1303 1576h2M1324 1543h2M1317 1580h2M1313 1563h2M1313 1561h2M1307 1583h2M1300 1585h2M1304 1603h2M1325 1578h2M1319 1569h2M1304 1556h2M1300 1598h2M1302 1550h2M1308 1584h2M1316 1594h2M1303 1587h2M1294 1578h2M1301 1574h2M1300 1594h2M1313 1575h2M1314 1563h2M1300 1548h2M1305 1565h2M1322 1585h2M1301 1553h2M1300 1561h2M1303 1573h2M1312 1584h2M1298 1571h2M1293 1583h2M1309 1606h2M1315 1581h2M1292 1547h2M1310 1592h2M1325 1566h2M1318 1587h2M1312 1597h2M1309 1588h2M1302 1572h2M1309 1576h2M1319 1607h2M1322 1570h2M1293 1587h2M1321 1586h2M1301 1563h2M1298 1586h2M1314 1564h2M1295 1578h2M1300 1597h2M1324 1599h2M1303 1587h2M1321 1557h2M1311 1566h2M1304 1596h2M1300 1572h2M1326 1567h2M1318 1579h2M1297 1548h2M1325 1564h2M1321 1580h2M1303 1571h2M1318 1584h2M1296 1595h2M1313 1599h2M1320 1553h2M1313 1576h2M1309 1559h2M1310 1572h2M1309 1570h2M1293 1597h2M1324 1566h2M1294 1577h2M1298 1584h2M1301 1544h2M1323 1557h2M1306 1576h2M1293 1540h2M1321 1569h2M1318 1590h2M1304 1599h2M1325 1574h2M1321 1579h2M1300 1542h2M1305 1592h2M1325 1568h2M1321 1592h2M1302 1580h2M1304 1567h2M1293 1569h2M1311 1587h2M1295 1580h2M1302 1585h2M1323 1561h2M1322 1592h2M1315 1586h2M1317 1561h2M1310 1560h2M1320 1577h2M1299 1580h2M1302 1550h2M1307 1578h2M1317 1564h2M1312 1590h2M1294 1562h2M1321 1564h2M1326 1553h2M1306 1557h2M1324 1552h2M1323 1567h2M1324 1574h2M1294 1589h2M1320 1584h2M1293 1561h2M1299 1544h2M1316 1574h2M1292 1584h2M1315 1573h2M1303 1577h2M1311 1549h2M1303 1581h2M1316 1582h2M1318 1564h2M1299 1583h2M1305 1602h2M1315 1559h2M1311 1574h2M1325 1561h2M1313 1561h2M1321 1582h2M1318 1594h2M1326 1560h2M1311 1566h2M1295 1569h2M1303 1597h2M1314 1576h2M1297 1580h2M1294 1577h2M1323 1593h2M1312 1594h2M1307 1584h2M1314 1579h2M1310 1555h2M1311 1554h2M1297 1581h2M1315 1590h2M1315 1563h2M1293 1559h2M1322 1552h2M1297 1612h2M1322 1580h2M1303 1551h2M1325 1559h2M1293 1574h2M1308 1606h2M1293 1565h2M1319 1563h2M1318 1600h2M1301 1551h2M1304 1569h2M1295 1580h2M1310 1569h2M1313 1597h2M1318 1575h2M1301 1575h2M1325 1598h2M1299 1568h2M1310 1573h2M1311 1608h2M1295 1544h2M1322 1570h2M1298 1563h2M1314 1599h2M1294 1563h2M1297 1571h2M1320 1595h2M1300 1553h2M1323 1560h2M1295 1593h2M1305 1584h2M1309 1551h2M1307 1554h2M1291 1555h2M1297 1568h2M1323 1555h2M1310 1592h2M1303 1556h2M1316 1541h2M1295 1579h2M1320 1564h2M1323 1588h2M1306 1550h2M1293 1571h2M1311 1608h2M1318 1566h2M1323 1576h2M1318 1567h2M1319 1580h2M1316 1570h2M1305 1587h2M1294 1562h2M1314 1545h2M1325 1579h2M1312 1549h2M1318 1584h2M1314 1571h2M1316 1548h2M1317 1536h2M1320 1559h2M1306 1580h2M1294 1597h2M1297 1602h2M1310 1559h2M1308 1541h2M1312 1589h2M1321 1533h2M1309 1570h2M1326 1556h2M1323 1565h2M1316 1563h2M1292 1595h2M1302 1591h2M1293 1562h2M1320 1567h2M1294 1568h2M1294 1577h2M1306 1554h2M1312 1599h2M1310 1557h2M1292 1590h2M1324 1594h2M1307 1564h2M1297 1574h2M1319 1608h2M1293 1594h2M1321 1563h2M1299 1583h2M1291 1566h2M1297 1558h2M1299 1589h2M1322 1559h2M1309 1559h2M1313 1597h2M1296 1610h2M1314 1571h2M1316 1572h2M1305 1571h2M1322 1597h2M1307 1565h2M1322 1567h2M1323 1541h2M1317 1587h2M1324 1576h2M1322 1546h2M1318 1594h2M1324 1578h2M1303 1551h2M1307 1572h2M1305 1581h2M1322 1557h2M1306 1558h2M1307 1559h2M1304 1568h2M1321 1577h2M1313 1599h2M1310 1569h2M1322 1567h2M1300 1553h2M1298 1588h2M1318 1581h2M1326 1567h2M1319 1568h2M1316 1554h2M1314 1599h2M1311 1567h2M1318 1579h2M1309 1566h2M1305 1548h2M1319 1576h2M1297 1567h2M1300 1581h2M1310 1548h2M1310 1577h2M1313 1580h2M1297 1576h2M1296 1583h2M1299 1573h2M1297 1565h2M1307 1560h2M1313 1586h2M1311 1548h2M1307 1571h2M1306 1586h2M1301 1582h2M1291 1585h2M1301 1572h2M1323 1578h2M1315 1568h2M1299 1589h2M1300 1546h2M1321 1565h2M1321 1577h2M1293 1602h2M1319 1602h2M1304 1572h2M1320 1580h2M1302 1537h2M1295 1553h2M1321 1594h2M1308 1591h2M1308 1609h2M1314 1544h2M1306 1580h2M1292 1584h2M1305 1584h2M1324 1601h2M1302 1602h2M1326 1575h2M1322 1562h2M1302 1567h2M1313 1596h2M1305 1552h2M1319 1569h2M1302 1580h2M1303 1572h2M1319 1593h2M1305 1570h2M1310 1583h2M1316 1613h2M1295 1612h2M1299 1592h2M1318 1547h2M1292 1571h2M1326 1576h2M1294 1567h2M1302 1582h2M1303 1598h2M1313 1572h2M1298 1559h2M1301 1576h2M1305 1591h2M1298 1611h2M1300 1572h2M1317 1591h2M1308 1598h2M1293 1573h2M1307 1595h2M1310 1593h2M1323 1578h2M1294 1577h2M1304 1576h2M1311 1558h2M1307 1541h2M1325 1576h2M1292 1598h2M1301 1571h2M1316 1581h2M1319 1562h2M1296 1556h2M1299 1547h2M1294 1543h2M1326 1570h2M1324 1572h2M1326 1559h2M1308 1580h2M1323 1580h2M1313 1565h2M1322 1572h2M1313 1587h2M1295 1576h2M1303 1606h2M1307 1593h2M1316 1571h2M1319 1556h2M1314 1578h2M1296 1585h2M1300 1590h2M1313 1597h2M1309 1553h2M1322 1598h2M1317 1549h2M1316 1576h2M1291 1570h2M1321 1587h2M1322 1569h2M1319 1569h2M1317 1592h2M1312 1552h2M1300 1578h2M1321 1577h2M1293 1594h2M1311 1546h2M1315 1577h2M1302 1557h2M1305 1596h2M1324 1583h2M1298 1573h2M1294 1571h2M1323 1547h2M1312 1604h2M1321 1544h2M1324 1578h2M1299 1571h2M1304 1559h2M1326 1593h2M1295 1576h2M1310 1554h2M1295 1578h2M1316 1587h2M1306 1559h2M1323 1605h2M1324 1569h2M1324 1585h2M1312 1601h2M1309 1563h2M1324 1592h2M1306 1584h2M1307 1560h2M1318 1541h2M1321 1590h2M1316 1563h2M1307 1572h2M1314 1577h2M1322 1579h2M1301 1585h2M1297 1548h2M1319 1549h2M1305 1551h2M1321 1571h2M1308 1577h2M1295 1578h2M1295 1575h2M1305 1560h2M1310 1572h2M1291 1603h2M1307 1577h2M1292 1551h2M1294 1544h2M1292 1568h2M1291 1538h2M1309 1572h2M1323 1567h2M1315 1595h2M1306 1554h2M1319 1548h2M1311 1582h2M1312 1563h2M1323 1585h2M1308 1583h2M1311 1602h2M1326 1557h2M1314 1577h2M1292 1567h2M1305 1586h2M1315 1573h2M1310 1580h2M1292 1588h2M1322 1582h2M1300 1577h2M1321 1570h2M1301 1606h2M1320 1543h2M1325 1592h2M1300 1596h2M1296 1597h2M1311 1578h2M1316 1582h2M1298 1557h2M1317 1544h2M1292 1575h2M1296 1590h2M1303 1563h2M1295 1565h2M1298 1589h2M1319 1556h2M1306 1559h2M1313 1603h2M1318 1543h2M1313 1581h2M1311 1576h2M1293 1582h2M1293 1550h2M1313 1555h2M1296 1566h2M1321 1551h2M1322 1547h2M1308 1591h2M1301 1565h2M1295 1568h2M1310 1604h2M1316 1561h2M1303 1576h2M1296 1582h2M1317 1577h2M1326 1586h2M1299 1584h2M1299 1590h2M1293 1577h2M1311 1562h2M1305 1592h2M1295 1546h2M1318 1595h2M1309 1589h2M1300 1556h2M1299 1567h2M1320 1558h2M1300 1592h2M1316 1579h2M1301 1576h2M1314 1599h2M1294 1585h2M1308 1587h2M1324 1542h2M1293 1573h2M1320 1588h2M1293 1578h2M1301 1552h2M1305 1548h2M1294 1566h2M1306 1565h2M1308 1563h2M1297 1567h2M1301 1560h2M1316 1552h2M1325 1578h2M1312 1608h2M1318 1555h2M1293 1581h2M1315 1560h2M1315 1595h2M1294 1568h2M1310 1599h2M1311 1610h2M1306 1564h2M1324 1598h2M1298 1572h2M1292 1597h2M1314 1565h2M1325 1567h2M1301 1594h2M1314 1589h2M1317 1582h2M1308 1571h2M1295 1573h2M1310 1593h2M1321 1605h2M1295 1552h2M1301 1569h2M1325 1550h2M1325 1583h2M1303 1595h2M1308 1596h2M1319 1581h2M1302 1563h2M1295 1582h2M1319 1575h2M1307 1600h2M1303 1550h2M1322 1580h2M1317 1578h2M1301 1567h2M1292 1570h2M1314 1567h2M1319 1554h2M1292 1570h2M1293 1564h2M1294 1573h2M1297 1591h2M1303 1554h2M1296 1564h2M1291 1568h2M1303 1568h2M1312 1551h2M1319 1549h2M1291 1556h2M1311 1594h2M1320 1582h2M1301 1568h2M1323 1565h2M1313 1590h2M1308 1556h2M1319 1569h2M1302 1553h2M1298 1556h2M1308 1580h2M1314 1582h2M1324 1588h2M1307 1602h2M1306 1609h2M1307 1583h2M1315 1554h2M1317 1588h2M1326 1574h2M1303 1578h2M1302 1590h2M1314 1579h2M1302 1580h2M1313 1554h2M1301 1566h2M1299 1560h2M1309 1574h2M1322 1584h2M1323 1577h2M1321 1554h2M1309 1546h2M1298 1584h2M1321 1550h2M1293 1580h2M1306 1582h2M1312 1579h2M1311 1569h2M1312 1577h2M1324 1580h2M1299 1587h2M1294 1563h2M1305 1576h2M1310 1551h2M1319 1565h2M1294 1587h2M1295 1577h2M1306 1578h2M1325 1585h2M1311 1577h2M1298 1603h2M1311 1592h2M1313 1587h2M1304 1583h2M1295 1549h2M1317 1542h2M1302 1591h2M1316 1565h2M1311 1565h2M1299 1573h2M1325 1574h2M1316 1582h2M1302 1544h2M1315 1542h2M1315 1555h2M1323 1551h2M1326 1575h2M1312 1581h2M1308 1584h2M1325 1570h2M1297 1566h2M1324 1575h2M1309 1568h2M1312 1558h2M1311 1557h2M1310 1576h2M1325 1561h2M1306 1596h2M1302 1610h2M1321 1556h2M1320 1567h2M1308 1582h2M1307 1596h2M1296 1592h2M1315 1565h2M1317 1585h2M1296 1597h2M1301 1601h2M1292 1572h2M1303 1582h2M1312 1586h2M1318 1568h2M1295 1574h2M1303 1557h2M1301 1585h2M1315 1595h2M1316 1598h2M1318 1575h2M1295 1568h2M1324 1594h2M1311 1580h2M1304 1581h2M1297 1605h2M1312 1560h2M1322 1596h2M1311 1604h2M1294 1597h2M1297 1577h2M1309 1586h2M1305 1570h2M1295 1587h2M1295 1563h2M1304 1549h2M1315 1558h2M1293 1583h2M1308 1553h2M1313 1584h2M1298 1566h2M1316 1600h2M1304 1591h2M1294 1590h2M1297 1561h2M1308 1553h2M1307 1565h2M1325 1588h2M1324 1587h2M1309 1554h2M1319 1594h2M1301 1587h2M1302 1569h2M1322 1572h2M1313 1594h2M1317 1582h2M1299 1579h2M1306 1560h2M1311 1569h2M1303 1597h2M1320 1579h2M1298 1559h2M1311 1594h2M1309 1559h2M1304 1565h2M1304 1589h2M1295 1565h2M1293 1577h2M1319 1549h2M1311 1553h2M1291 1564h2M1314 1593h2M1315 1576h2M1303 1575h2M1299 1581h2M1300 1581h2M1315 1578h2M1307 1580h2M1312 1571h2M1316 1546h2M1292 1541h2M1295 1584h2M1301 1590h2M1312 1561h2M1302 1579h2M1313 1567h2M1307 1572h2M1303 1577h2M1297 1586h2M1295 1559h2M1301 1537h2M1296 1573h2M1302 1571h2M1326 1571h2M1320 1585h2M1318 1594h2M1295 1566h2M1294 1572h2M1321 1588h2M1313 1559h2M1306 1554h2M1303 1601h2M1315 1546h2M1310 1568h2M1325 1553h2M1318 1564h2M1297 1592h2M1322 1584h2M1296 1572h2M1325 1560h2M1306 1566h2M1291 1584h2M1322 1567h2M1325 1566h2M1298 1543h2M1292 1559h2M1299 1535h2M1303 1555h2M1315 1576h2M1294 1590h2M1319 1590h2M1324 1544h2M1295 1588h2M1303 1559h2M1325 1600h2M1293 1588h2M1318 1560h2M1298 1555h2M1321 1603h2M1316 1556h2M1316 1559h2M1325 1595h2M1313 1584h2M1319 1570h2M1297 1577h2M1295 1583h2M1296 1542h2M1296 1552h2M1294 1595h2M1317 1587h2M1310 1563h2M1324 1592h2M1309 1562h2M1302 1566h2M1301 1585h2M1324 1573h2M1291 1578h2M1323 1535h2M1321 1602h2M1305 1593h2M1308 1571h2M1325 1581h2M1303 1553h2M1292 1563h2M1317 1595h2M1311 1594h2M1312 1576h2M1301 1562h2M1300 1580h2M1306 1578h2M1306 1604h2M1315 1608h2M1295 1576h2M1295 1543h2M1316 1597h2M1318 1598h2M1310 1589h2M1297 1572h2M1316 1584h2M1324 1572h2M1304 1585h2M1320 1602h2M1310 1569h2M1312 1533h2M1308 1596h2M1322 1579h2M1313 1562h2M1295 1581h2M1324 1560h2M1294 1566h2M1308 1546h2M1311 1578h2M1322 1568h2M1314 1550h2M1297 1578h2M1316 1570h2M1314 1607h2M1304 1580h2M1325 1586h2M1322 1567h2M1303 1601h2M1293 1560h2M1317 1540h2M1293 1578h2M1311 1567h2M1292 1579h2M1309 1599h2M1313 1569h2M1320 1538h2M1304 1587h2M1311 1566h2M1294 1547h2M1324 1593h2M1317 1604h2M1325 1553h2M1295 1574h2M1305 1577h2M1299 1572h2M1298 1598h2M1304 1551h2M1297 1559h2M1294 1564h2M1301 1570h2M1295 1563h2M1299 1562h2M1292 1595h2M1314 1547h2M1299 1558h2M1299 1587h2M1319 1556h2M1299 1602h2M1307 1571h2M1317 1577h2M1302 1552h2M1321 1581h2M1293 1598h2M1292 1580h2M1294 1572h2M1314 1534h2M1305 1549h2M1296 1560h2M1297 1558h2M1313 1570h2M1318 1576h2M1298 1569h2M1295 1600h2M1301 1588h2M1301 1583h2M1292 1559h2M1320 1586h2M1314 1568h2M1294 1602h2M1312 1539h2M1291 1557h2M1312 1592h2M1312 1584h2M1312 1585h2M1294 1562h2M1298 1566h2M1318 1584h2M1308 1570h2M1310 1590h2M1294 1583h2M1307 1589h2M1309 1561h2M1299 1566h2M1300 1564h2M1295 1606h2M1292 1583h2M1292 1572h2M1320 1607h2M1320 1568h2M1315 1585h2M1325 1574h2M1326 1568h2M1322 1591h2M1324 1597h2M1295 1575h2M1294 1580h2M1308 1604h2M1300 1559h2M1292 1558h2M1303 1600h2M1292 1582h2M1322 1565h2M1308 1560h2M1322 1566h2M1292 1556h2M1322 1588h2M1325 1610h2M1294 1560h2M1310 1556h2M1301 1568h2M1301 1581h2M1295 1591h2M1321 1555h2M1306 1539h2M1320 1570h2M1324 1581h2M1302 1583h2M1294 1578h2M1302 1539h2M1320 1550h2M1299 1602h2M1296 1602h2M1302 1595h2M1311 1571h2M1320 1541h2M1322 1569h2M1294 1566h2M1309 1559h2M1292 1593h2M1319 1569h2M1308 1562h2M1311 1557h2M1314 1545h2M1309 1577h2M1297 1582h2M1325 1560h2M1314 1565h2M1326 1563h2M1291 1542h2M1317 1563h2M1320 1583h2M1295 1582h2M1306 1577h2M1293 1595h2M1316 1576h2M1307 1488h2M1303 1505h2M1310 1515h2M1304 1524h2M1314 1530h2M1299 1612h2M1320 1615h2M1294 1617h2" stroke="#dc2a48" stroke-width="2" transform="scale(.5)"/>
<line x1="654.6" y1="770.1" x2="654.6" y2="782.3" stroke="#4a4a4a" stroke-width="1.3"/>
<line x1="654.6" y1="791.1" x2="654.6" y2="803" stroke="#4a4a4a" stroke-width="1.3"/>
<line x1="654.6" y1="770.1" x2="654.6" y2="770.1" stroke="#4a4a4a" stroke-width="1.3"/>
<line x1="654.6" y1="803" x2="654.6" y2="803" stroke="#4a4a4a" stroke-width="1.3"/>
<rect x="641.4" y="782.3" width="25.5" height="8.8" fill="none" stroke="#4a4a4a" stroke-width="1.3"/>
<line x1="641.4" y1="786.7" x2="666.9" y2="786.7" stroke="#4a4a4a" stroke-width="1.3"/>
<path d="M570.7 739.4V737.3H654.8V739.4" fill="none" stroke="#444" stroke-width="1.1"/>
<text x="573.20" y="733.30" font-size="11.2" textLength="52.80" lengthAdjust="spacingAndGlyphs" fill="#1a1a1a" stroke="#1a1a1a">WS: 0.15,</text>
<path d="M633.7 725.75V730.25M631.73 726.88L635.62 729.12M631.73 729.12L635.62 726.88M639.2 725.75V730.25M637.28 726.88L641.17 729.12M637.28 729.12L641.17 726.88M644.8 725.75V730.25M642.83 726.88L646.72 729.12M642.83 729.12L646.72 726.88M650.3 725.75V730.25M648.38 726.88L652.27 729.12M648.38 729.12L652.27 726.88" fill="none" stroke="#2a2a2a" stroke-width="0.85"/>
<circle cx="633.67" cy="728.0" r="0.75" fill="#2a2a2a"/>
<circle cx="639.22" cy="728.0" r="0.75" fill="#2a2a2a"/>
<circle cx="644.77" cy="728.0" r="0.75" fill="#2a2a2a"/>
<circle cx="650.32" cy="728.0" r="0.75" fill="#2a2a2a"/>
</svg></body></html>
